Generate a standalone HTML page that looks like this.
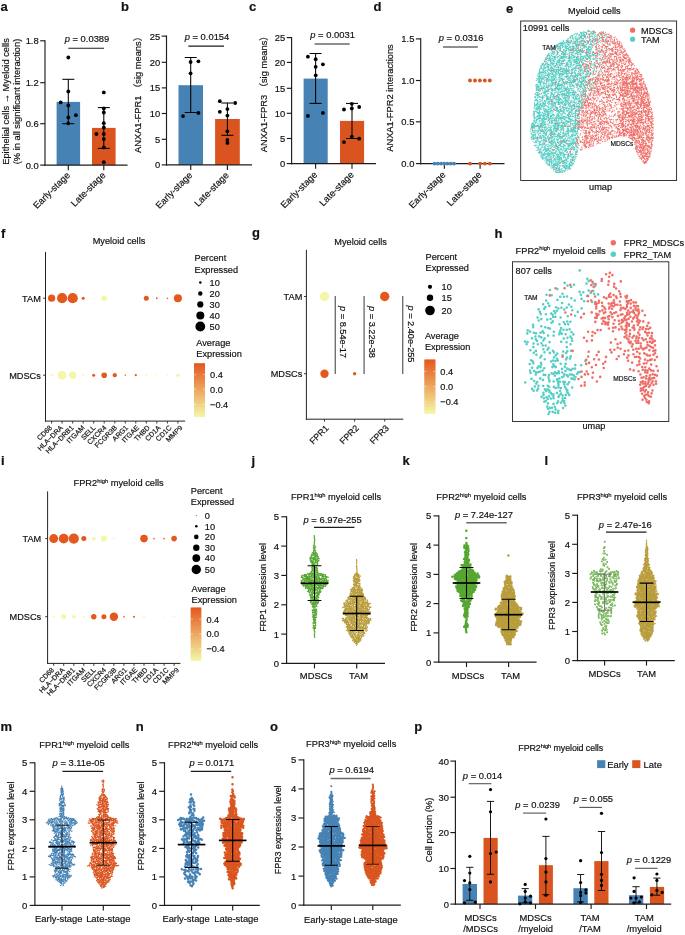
<!DOCTYPE html>
<html><head><meta charset="utf-8"><title>Figure</title>
<style>html,body{margin:0;padding:0;background:#fff}svg{display:block}text{font-family:"Liberation Sans","Noto Sans CJK SC",sans-serif;fill:#111;stroke:#111;stroke-width:0.18px}</style></head>
<body>
<svg width="685" height="935" viewBox="0 0 685 935">
<rect width="685" height="935" fill="#fff"/>
<text x="0.5" y="11" font-size="13" font-weight="bold" fill="#1a1a1a">a</text>
<line x1="45" y1="40.2" x2="45" y2="165.7" stroke="#1c1c1c" stroke-width="1.15"/>
<line x1="40.2" y1="40.8" x2="45" y2="40.8" stroke="#1c1c1c" stroke-width="1.15"/>
<text x="38.7" y="44.2" font-size="9.4" text-anchor="end">1.8</text>
<line x1="40.2" y1="82.7" x2="45" y2="82.7" stroke="#1c1c1c" stroke-width="1.15"/>
<text x="38.7" y="86.1" font-size="9.4" text-anchor="end">1.2</text>
<line x1="40.2" y1="123.7" x2="45" y2="123.7" stroke="#1c1c1c" stroke-width="1.15"/>
<text x="38.7" y="127.1" font-size="9.4" text-anchor="end">0.6</text>
<line x1="40.2" y1="165.1" x2="45" y2="165.1" stroke="#1c1c1c" stroke-width="1.15"/>
<text x="38.7" y="168.5" font-size="9.4" text-anchor="end">0.0</text>
<rect x="56.6" y="101.9" width="23.5" height="63.2" fill="#4682b4"/>
<rect x="92" y="127.9" width="23.6" height="37.2" fill="#d9541e"/>
<line x1="44.5" y1="165.1" x2="127.5" y2="165.1" stroke="#1c1c1c" stroke-width="1.15"/>
<line x1="68.3" y1="165.1" x2="68.3" y2="170.2" stroke="#1c1c1c" stroke-width="1.15"/>
<line x1="103.8" y1="165.1" x2="103.8" y2="170.2" stroke="#1c1c1c" stroke-width="1.15"/>
<line x1="68.3" y1="79.3" x2="68.3" y2="123.7" stroke="#000" stroke-width="1.05"/>
<line x1="62.3" y1="79.3" x2="74.3" y2="79.3" stroke="#000" stroke-width="1.05"/>
<line x1="62.3" y1="123.7" x2="74.3" y2="123.7" stroke="#000" stroke-width="1.05"/>
<line x1="103.8" y1="107.6" x2="103.8" y2="148.4" stroke="#000" stroke-width="1.05"/>
<line x1="97.8" y1="107.6" x2="109.8" y2="107.6" stroke="#000" stroke-width="1.05"/>
<line x1="97.8" y1="148.4" x2="109.8" y2="148.4" stroke="#000" stroke-width="1.05"/>
<circle cx="68.3" cy="57.5" r="1.9" fill="#000"/>
<circle cx="68.3" cy="91.5" r="1.9" fill="#000"/>
<circle cx="60.7" cy="102.4" r="1.9" fill="#000"/>
<circle cx="68.3" cy="105.5" r="1.9" fill="#000"/>
<circle cx="75.9" cy="115.2" r="1.9" fill="#000"/>
<circle cx="68.3" cy="117.5" r="1.9" fill="#000"/>
<circle cx="68.3" cy="123.3" r="1.9" fill="#000"/>
<circle cx="103.8" cy="92.4" r="1.9" fill="#000"/>
<circle cx="103.8" cy="108.5" r="1.9" fill="#000"/>
<circle cx="103.8" cy="112.5" r="1.9" fill="#000"/>
<circle cx="103.8" cy="123.2" r="1.9" fill="#000"/>
<circle cx="103.8" cy="127.5" r="1.9" fill="#000"/>
<circle cx="96.4" cy="134" r="1.9" fill="#000"/>
<circle cx="103.8" cy="134" r="1.9" fill="#000"/>
<circle cx="103.8" cy="139.1" r="1.9" fill="#000"/>
<circle cx="103.8" cy="147.4" r="1.9" fill="#000"/>
<circle cx="103.8" cy="162.2" r="1.9" fill="#000"/>
<text x="87" y="42" font-size="9.4" text-anchor="middle"><tspan font-style="italic">p</tspan> = 0.0389</text>
<line x1="68.3" y1="48.2" x2="104" y2="48.2" stroke="#1c1c1c" stroke-width="1.15"/>
<text x="9" y="101.5" font-size="9.3" text-anchor="middle" transform="rotate(-90 9 101.5)">Epithelial cells → Myeloid cells</text>
<text x="20" y="101.5" font-size="9.3" text-anchor="middle" transform="rotate(-90 20 101.5)">(% in all significant interaction)</text>
<text x="70.6" y="175.8" font-size="9.4" text-anchor="end" transform="rotate(-45 70.6 175.8)">Early-stage</text>
<text x="106.1" y="175.8" font-size="9.4" text-anchor="end" transform="rotate(-45 106.1 175.8)">Late-stage</text>
<text x="121" y="11" font-size="13" font-weight="bold" fill="#1a1a1a">b</text>
<line x1="166.5" y1="35.5" x2="166.5" y2="165.5" stroke="#1c1c1c" stroke-width="1.15"/>
<line x1="161.7" y1="36.1" x2="166.5" y2="36.1" stroke="#1c1c1c" stroke-width="1.15"/>
<text x="160.2" y="39.5" font-size="9.4" text-anchor="end">25</text>
<line x1="161.7" y1="62.3" x2="166.5" y2="62.3" stroke="#1c1c1c" stroke-width="1.15"/>
<text x="160.2" y="65.7" font-size="9.4" text-anchor="end">20</text>
<line x1="161.7" y1="87.9" x2="166.5" y2="87.9" stroke="#1c1c1c" stroke-width="1.15"/>
<text x="160.2" y="91.3" font-size="9.4" text-anchor="end">15</text>
<line x1="161.7" y1="113.5" x2="166.5" y2="113.5" stroke="#1c1c1c" stroke-width="1.15"/>
<text x="160.2" y="116.9" font-size="9.4" text-anchor="end">10</text>
<line x1="161.7" y1="139.3" x2="166.5" y2="139.3" stroke="#1c1c1c" stroke-width="1.15"/>
<text x="160.2" y="142.7" font-size="9.4" text-anchor="end">5</text>
<line x1="161.7" y1="164.9" x2="166.5" y2="164.9" stroke="#1c1c1c" stroke-width="1.15"/>
<text x="160.2" y="168.3" font-size="9.4" text-anchor="end">0</text>
<rect x="178.5" y="85.2" width="24.5" height="79.7" fill="#4682b4"/>
<rect x="215.1" y="119" width="24.7" height="45.9" fill="#d9541e"/>
<line x1="166" y1="164.9" x2="252" y2="164.9" stroke="#1c1c1c" stroke-width="1.15"/>
<line x1="190.7" y1="164.9" x2="190.7" y2="170" stroke="#1c1c1c" stroke-width="1.15"/>
<line x1="227.4" y1="164.9" x2="227.4" y2="170" stroke="#1c1c1c" stroke-width="1.15"/>
<line x1="190.7" y1="57.5" x2="190.7" y2="112.5" stroke="#000" stroke-width="1.05"/>
<line x1="184.7" y1="57.5" x2="196.7" y2="57.5" stroke="#000" stroke-width="1.05"/>
<line x1="184.7" y1="112.5" x2="196.7" y2="112.5" stroke="#000" stroke-width="1.05"/>
<line x1="227.4" y1="103" x2="227.4" y2="135.3" stroke="#000" stroke-width="1.05"/>
<line x1="221.4" y1="103" x2="233.4" y2="103" stroke="#000" stroke-width="1.05"/>
<line x1="221.4" y1="135.3" x2="233.4" y2="135.3" stroke="#000" stroke-width="1.05"/>
<circle cx="190.6" cy="62" r="1.9" fill="#000"/>
<circle cx="198.4" cy="61.3" r="1.9" fill="#000"/>
<circle cx="190.6" cy="73.3" r="1.9" fill="#000"/>
<circle cx="198.4" cy="112.9" r="1.9" fill="#000"/>
<circle cx="183" cy="116.1" r="1.9" fill="#000"/>
<circle cx="219.8" cy="101.2" r="1.9" fill="#000"/>
<circle cx="235.2" cy="103" r="1.9" fill="#000"/>
<circle cx="227.4" cy="109.1" r="1.9" fill="#000"/>
<circle cx="219.8" cy="111.8" r="1.9" fill="#000"/>
<circle cx="227.4" cy="115.6" r="1.9" fill="#000"/>
<circle cx="227.4" cy="131.3" r="1.9" fill="#000"/>
<circle cx="227.4" cy="139.9" r="1.9" fill="#000"/>
<circle cx="227.4" cy="142.9" r="1.9" fill="#000"/>
<text x="207" y="39.9" font-size="9.4" text-anchor="middle"><tspan font-style="italic">p</tspan> = 0.0154</text>
<line x1="188.3" y1="46.1" x2="224" y2="46.1" stroke="#1c1c1c" stroke-width="1.15"/>
<text x="140.7" y="92.5" font-size="9.3" text-anchor="middle" transform="rotate(-90 140.7 92.5)">ANXA1-FPR1 （sig means）</text>
<text x="193" y="175.8" font-size="9.4" text-anchor="end" transform="rotate(-45 193 175.8)">Early-stage</text>
<text x="229.5" y="175.8" font-size="9.4" text-anchor="end" transform="rotate(-45 229.5 175.8)">Late-stage</text>
<text x="249" y="11" font-size="13" font-weight="bold" fill="#1a1a1a">c</text>
<line x1="291.6" y1="37" x2="291.6" y2="164.2" stroke="#1c1c1c" stroke-width="1.15"/>
<line x1="286.8" y1="37.6" x2="291.6" y2="37.6" stroke="#1c1c1c" stroke-width="1.15"/>
<text x="285.3" y="41" font-size="9.4" text-anchor="end">25</text>
<line x1="286.8" y1="62.4" x2="291.6" y2="62.4" stroke="#1c1c1c" stroke-width="1.15"/>
<text x="285.3" y="65.8" font-size="9.4" text-anchor="end">20</text>
<line x1="286.8" y1="88.3" x2="291.6" y2="88.3" stroke="#1c1c1c" stroke-width="1.15"/>
<text x="285.3" y="91.7" font-size="9.4" text-anchor="end">15</text>
<line x1="286.8" y1="113.3" x2="291.6" y2="113.3" stroke="#1c1c1c" stroke-width="1.15"/>
<text x="285.3" y="116.7" font-size="9.4" text-anchor="end">10</text>
<line x1="286.8" y1="138.5" x2="291.6" y2="138.5" stroke="#1c1c1c" stroke-width="1.15"/>
<text x="285.3" y="141.9" font-size="9.4" text-anchor="end">5</text>
<line x1="286.8" y1="163.6" x2="291.6" y2="163.6" stroke="#1c1c1c" stroke-width="1.15"/>
<text x="285.3" y="167" font-size="9.4" text-anchor="end">0</text>
<rect x="303.6" y="78.6" width="24.1" height="85" fill="#4682b4"/>
<rect x="340" y="120.9" width="24.1" height="42.7" fill="#d9541e"/>
<line x1="291.1" y1="163.6" x2="376" y2="163.6" stroke="#1c1c1c" stroke-width="1.15"/>
<line x1="315.6" y1="163.6" x2="315.6" y2="168.7" stroke="#1c1c1c" stroke-width="1.15"/>
<line x1="352" y1="163.6" x2="352" y2="168.7" stroke="#1c1c1c" stroke-width="1.15"/>
<line x1="315.6" y1="53.5" x2="315.6" y2="103.4" stroke="#000" stroke-width="1.05"/>
<line x1="309.6" y1="53.5" x2="321.6" y2="53.5" stroke="#000" stroke-width="1.05"/>
<line x1="309.6" y1="103.4" x2="321.6" y2="103.4" stroke="#000" stroke-width="1.05"/>
<line x1="352" y1="103.4" x2="352" y2="138.5" stroke="#000" stroke-width="1.05"/>
<line x1="346" y1="103.4" x2="358" y2="103.4" stroke="#000" stroke-width="1.05"/>
<line x1="346" y1="138.5" x2="358" y2="138.5" stroke="#000" stroke-width="1.05"/>
<circle cx="307.9" cy="56.7" r="1.9" fill="#000"/>
<circle cx="315.7" cy="59.2" r="1.9" fill="#000"/>
<circle cx="322.9" cy="64.3" r="1.9" fill="#000"/>
<circle cx="315.7" cy="66.8" r="1.9" fill="#000"/>
<circle cx="315.7" cy="75.3" r="1.9" fill="#000"/>
<circle cx="307.9" cy="115.9" r="1.9" fill="#000"/>
<circle cx="322.9" cy="112.9" r="1.9" fill="#000"/>
<circle cx="351.8" cy="103.8" r="1.9" fill="#000"/>
<circle cx="344" cy="109.5" r="1.9" fill="#000"/>
<circle cx="351.8" cy="108.5" r="1.9" fill="#000"/>
<circle cx="359.2" cy="107" r="1.9" fill="#000"/>
<circle cx="351.8" cy="136.6" r="1.9" fill="#000"/>
<circle cx="359.2" cy="138.7" r="1.9" fill="#000"/>
<circle cx="344" cy="142.1" r="1.9" fill="#000"/>
<text x="332.6" y="37.6" font-size="9.4" text-anchor="middle"><tspan font-style="italic">p</tspan> = 0.0031</text>
<line x1="314.6" y1="44" x2="349.7" y2="44" stroke="#6a6a6a" stroke-width="1.5"/>
<text x="266.6" y="91.8" font-size="9.3" text-anchor="middle" transform="rotate(-90 266.6 91.8)">ANXA1-FPR3 （sig means）</text>
<text x="318" y="175.3" font-size="9.4" text-anchor="end" transform="rotate(-45 318 175.3)">Early-stage</text>
<text x="354.5" y="175.3" font-size="9.4" text-anchor="end" transform="rotate(-45 354.5 175.3)">Late-stage</text>
<text x="373.5" y="11" font-size="13" font-weight="bold" fill="#1a1a1a">d</text>
<line x1="420.7" y1="38.3" x2="420.7" y2="164.2" stroke="#1c1c1c" stroke-width="1.15"/>
<line x1="415.9" y1="38.9" x2="420.7" y2="38.9" stroke="#1c1c1c" stroke-width="1.15"/>
<text x="414.4" y="42.3" font-size="9.4" text-anchor="end">1.5</text>
<line x1="415.9" y1="80.5" x2="420.7" y2="80.5" stroke="#1c1c1c" stroke-width="1.15"/>
<text x="414.4" y="83.9" font-size="9.4" text-anchor="end">1.0</text>
<line x1="415.9" y1="121.8" x2="420.7" y2="121.8" stroke="#1c1c1c" stroke-width="1.15"/>
<text x="414.4" y="125.2" font-size="9.4" text-anchor="end">0.5</text>
<line x1="415.9" y1="163.6" x2="420.7" y2="163.6" stroke="#1c1c1c" stroke-width="1.15"/>
<text x="414.4" y="167" font-size="9.4" text-anchor="end">0.0</text>
<line x1="420.2" y1="163.6" x2="504.5" y2="163.6" stroke="#1c1c1c" stroke-width="1.15"/>
<line x1="444.4" y1="163.6" x2="444.4" y2="168.7" stroke="#1c1c1c" stroke-width="1.15"/>
<line x1="480.1" y1="163.6" x2="480.1" y2="168.7" stroke="#1c1c1c" stroke-width="1.15"/>
<circle cx="470" cy="80.5" r="1.9" fill="#d9541e"/>
<circle cx="475" cy="80.5" r="1.9" fill="#d9541e"/>
<circle cx="479.9" cy="80.5" r="1.9" fill="#d9541e"/>
<circle cx="484.8" cy="80.5" r="1.9" fill="#d9541e"/>
<circle cx="489.8" cy="80.5" r="1.9" fill="#d9541e"/>
<circle cx="434.5" cy="163.6" r="1.9" fill="#4682b4"/>
<circle cx="437.8" cy="163.6" r="1.9" fill="#4682b4"/>
<circle cx="441" cy="163.6" r="1.9" fill="#4682b4"/>
<circle cx="444.2" cy="163.6" r="1.9" fill="#4682b4"/>
<circle cx="447.4" cy="163.6" r="1.9" fill="#4682b4"/>
<circle cx="450.7" cy="163.6" r="1.9" fill="#4682b4"/>
<circle cx="453.9" cy="163.6" r="1.9" fill="#4682b4"/>
<circle cx="470" cy="163.6" r="1.9" fill="#d9541e"/>
<circle cx="480.1" cy="163.6" r="1.9" fill="#d9541e"/>
<circle cx="484.8" cy="163.6" r="1.9" fill="#d9541e"/>
<circle cx="489.8" cy="163.6" r="1.9" fill="#d9541e"/>
<text x="461.1" y="40.8" font-size="9.4" text-anchor="middle"><tspan font-style="italic">p</tspan> = 0.0316</text>
<line x1="443" y1="46.9" x2="477.8" y2="46.9" stroke="#6a6a6a" stroke-width="1.5"/>
<text x="393.2" y="98" font-size="9.3" text-anchor="middle" transform="rotate(-90 393.2 98)">ANXA1-FPR2 interactions</text>
<text x="446.2" y="175.4" font-size="9.4" text-anchor="end" transform="rotate(-45 446.2 175.4)">Early-stage</text>
<text x="482.2" y="175.4" font-size="9.4" text-anchor="end" transform="rotate(-45 482.2 175.4)">Late-stage</text>
<text x="506" y="12.6" font-size="13" font-weight="bold" fill="#1a1a1a">e</text>
<text x="594.3" y="14" font-size="9.2" text-anchor="middle">Myeloid cells</text>
<rect x="520.7" y="21" width="155.9" height="159.5" fill="none" stroke="#222" stroke-width="0.9"/>
<text x="522.8" y="30.8" font-size="9.2">10991 cells</text>
<circle cx="632.6" cy="30.2" r="2.6" fill="#ef6f68"/>
<circle cx="632.6" cy="39.2" r="2.6" fill="#55cfc5"/>
<text x="641" y="33.5" font-size="9.2">MDSCs</text>
<text x="641" y="42.5" font-size="9.2">TAM</text>
<text x="600.6" y="189.5" font-size="9.2" text-anchor="middle">umap</text>
<path transform="scale(.1)" d="M5803 322h0m5 7h0m1-2h0m10-4h0m4 6h0m8-1h0m7-12h0m1 4h0m4 2h0m10 2h0m9-2h0m0 4h0m13-17h0m11 2h0m0-10h0m6 13h0m9 1h0m10 11h0m7 3h0m2-14h0m11 5h0m1 2h0m1-10h0m7-3h0m0 2h0m7 11h0m4 4h0m8 2h0m71-3h0m7 3h0m-319 29h0m8 1h0m1-1h0m14-10h0m0 3h0m1-4h0m12-9h0m11 5h0m8-3h0m1-3h0m2-2h0m12 15h0m7-4h0m2 0h0m11-12h0m5 21h0m0-17h0m0-2h0m1 12h0m0 9h0m1-15h0m0 13h0m2 5h0m7-5h0m4 5h0m2 0h0m3-8h0m0-6h0m1 8h0m1-13h0m0 18h0m0-11h0m1-10h0m1 9h0m2-9h0m1 13h0m4 5h0m6-7h0m3 7h0m17-24h0m12 13h0m5 0h0m2-3h0m6 13h0m3-12h0m3-3h0m1-1h0m17 2h0m2 9h0m2-16h0m0 4h0m8 3h0m8-7h0m3 26h0m3-11h0m14-1h0m15 9h0m31-10h0m2-2h0m7 8h0m3-18h0m3 8h0m1 2h0m9 11h0m33-5h0m-385 38h0m4-2h0m0 1h0m18-18h0m5 9h0m1-9h0m4-8h0m12 2h0m0 14h0m5 10h0m3-8h0m2 4h0m20-4h0m0-12h0m1 4h0m1 17h0m2-1h0m8-26h0m4 20h0m2 1h0m3-2h0m8 9h0m8-14h0m6 11h0m6-21h0m1-3h0m2 7h0m1 6h0m9-3h0m1-1h0m0 9h0m0 5h0m1-13h0m6 12h0m7 2h0m4-1h0m3-4h0m9-15h0m0 8h0m1-10h0m7 12h0m2-8h0m5 21h0m11-17h0m3-9h0m1 3h0m3 9h0m14 10h0m3-14h0m6-5h0m6-6h0m9 3h0m9 3h0m2 3h0m1 0h0m2 2h0m2 14h0m13-9h0m12-13h0m7 18h0m6-19h0m8 15h0m19 2h0m2 9h0m19-10h0m5-4h0m19-5h0m1 4h0m18-11h0m18 1h0m-463 56h0m18-12h0m1 7h0m2 2h0m24-6h0m3-5h0m7 13h0m2 1h0m1-13h0m4-6h0m1-7h0m2 21h0m8-6h0m14 3h0m8-9h0m6 7h0m11 9h0m3-27h0m5 0h0m1 19h0m1 1h0m14 2h0m4 1h0m3-22h0m2 14h0m6 1h0m2 5h0m1-15h0m0-3h0m3 13h0m2-6h0m12-10h0m3 2h0m0 23h0m3-5h0m4-21h0m4 28h0m6-6h0m7 5h0m2-7h0m0-3h0m4 5h0m2-6h0m8-11h0m7 7h0m1 5h0m0 2h0m1 7h0m8-7h0m0 2h0m4 6h0m16-10h0m13 4h0m10 5h0m6-13h0m4-4h0m6-5h0m2 23h0m3-16h0m1 11h0m14-4h0m2-9h0m9-9h0m3 28h0m4-23h0m1 16h0m7-11h0m1 14h0m6-23h0m3 14h0m1 4h0m2-14h0m9 8h0m1-13h0m5 10h0m13 16h0m1-4h0m30-21h0m9 20h0m3 4h0m0-16h0m11 11h0m7-14h0m12 17h0m41 5h0m-541 31h0m5-1h0m9 0h0m6-6h0m5-3h0m2-7h0m5 1h0m5-4h0m1 11h0m6-6h0m0 15h0m4-15h0m8-2h0m3 8h0m1-14h0m1 1h0m0 10h0m1-8h0m3 13h0m6-6h0m4-4h0m0 7h0m5-12h0m9 22h0m5-22h0m1 10h0m2-17h0m1 4h0m12-4h0m1 21h0m1-14h0m2-4h0m0 3h0m1 10h0m1 12h0m1-2h0m6-19h0m2 16h0m1-20h0m2 0h0m9 1h0m1 6h0m1 3h0m3-7h0m2 4h0m22 8h0m8-4h0m0-7h0m10 5h0m0 7h0m1-19h0m1 5h0m4 7h0m2 16h0m2-5h0m2-14h0m0 2h0m8 16h0m5-18h0m2 18h0m1-25h0m2 16h0m13-16h0m1 7h0m4 10h0m1 1h0m1 0h0m6-2h0m6-9h0m0 3h0m8 5h0m7 12h0m5-21h0m3 18h0m3-5h0m8-14h0m6-6h0m8 25h0m2-17h0m5 19h0m1-1h0m8-12h0m1-14h0m5 8h0m3 2h0m10 17h0m4-5h0m4 2h0m3-6h0m0-5h0m4-7h0m2 4h0m3 13h0m9-24h0m3 26h0m20-3h0m4-4h0m10-3h0m5-8h0m17-3h0m25 1h0m16 9h0m49-8h0m121 1h0m-652 44h0m4-1h0m0 4h0m6-5h0m2 0h0m2 2h0m3-11h0m1 12h0m4-11h0m6 13h0m2-20h0m7 2h0m0 9h0m2 3h0m4-3h0m0 3h0m2-5h0m3 6h0m3 2h0m1-2h0m3-7h0m0 5h0m5-9h0m2-3h0m1 18h0m4-17h0m4 1h0m3-6h0m0 1h0m9 20h0m1-18h0m0 8h0m0-13h0m1 2h0m0 23h0m10-8h0m3-6h0m9 18h0m5-10h0m2-10h0m2 18h0m0-19h0m1-8h0m5 28h0m2-11h0m1 1h0m1 1h0m2-2h0m1-1h0m9-15h0m0 10h0m9-10h0m3-1h0m2 23h0m7-10h0m0 1h0m1 4h0m2-3h0m4 11h0m1-16h0m13 1h0m3 10h0m3-10h0m1 4h0m1 7h0m6-9h0m0 14h0m2-16h0m2 16h0m2-11h0m16-5h0m0-10h0m6 21h0m1-16h0m2 5h0m1-6h0m2-1h0m2 1h0m4 7h0m1-8h0m4 23h0m5-20h0m0 14h0m5-20h0m13 17h0m3 5h0m14-22h0m0 8h0m3-2h0m8 22h0m0-21h0m2 4h0m5-8h0m1 7h0m2 14h0m3-5h0m1-16h0m0 17h0m4-18h0m3 6h0m9 6h0m0 9h0m21 0h0m2-3h0m1-6h0m11 4h0m2 6h0m7-4h0m10-12h0m2-1h0m4 3h0m13-6h0m23 9h0m1 9h0m0 5h0m-444 26h0m4 3h0m1-6h0m7-15h0m20-3h0m2 3h0m0 12h0m8-8h0m4 15h0m13-22h0m5 15h0m4-10h0m4 0h0m0-3h0m3 5h0m2 13h0m4 5h0m6-2h0m0-26h0m3 15h0m0 9h0m1-21h0m1 18h0m3-15h0m23 7h0m3 2h0m0 7h0m1-1h0m5-3h0m6 6h0m11-24h0m1 20h0m0-17h0m1 22h0m0-5h0m1-17h0m2 6h0m2-5h0m1 21h0m1-22h0m1 4h0m6-1h0m4-1h0m3 12h0m2-9h0m0-6h0m4 0h0m1 13h0m1 2h0m1 3h0m1 6h0m6-11h0m4 5h0m2 2h0m2 7h0m3-25h0m2 11h0m3 11h0m0-16h0m3 17h0m7-21h0m1 5h0m4 18h0m2-20h0m0-2h0m2 12h0m6 4h0m2-20h0m2-1h0m3 25h0m3-26h0m2 20h0m2-15h0m5 18h0m9 3h0m2-7h0m1-16h0m7-1h0m0 2h0m3 20h0m5-10h0m4 3h0m6 6h0m1 4h0m5-18h0m2 9h0m0-2h0m1-7h0m1 0h0m1 6h0m3 3h0m7 2h0m3-2h0m1-12h0m0 17h0m4-18h0m0 5h0m5 14h0m2 2h0m15-27h0m15 13h0m3 5h0m6-2h0m6-14h0m2 17h0m1-5h0m1-2h0m1-9h0m1 23h0m1-19h0m3-7h0m2 13h0m3 7h0m0-6h0m3 15h0m5-1h0m3-16h0m4-1h0m6 2h0m1 4h0m4-15h0m55 2h0m16 0h0m5 16h0m21-4h0m12-6h0m25 15h0m14-1h0m9-9h0m19 9h0m28-4h0m-637 39h0m4-3h0m2-2h0m19-8h0m9-16h0m5 25h0m3-8h0m2-13h0m1 2h0m4 3h0m1 7h0m0-13h0m10 25h0m1-4h0m0-21h0m0 4h0m4 11h0m20-15h0m2 11h0m4-1h0m1 11h0m11-7h0m24-11h0m1-3h0m3 21h0m4-20h0m3 19h0m5-11h0m6 0h0m0 7h0m1-5h0m3 8h0m1-11h0m3-4h0m9 20h0m1-15h0m3 17h0m1-8h0m1 3h0m1-23h0m2 4h0m2 6h0m29-9h0m0 22h0m5-8h0m6-1h0m10 6h0m1-3h0m14-3h0m2 13h0m4-12h0m3 0h0m4-13h0m12 17h0m2 5h0m4 1h0m5-6h0m1-19h0m6 12h0m0 15h0m1-15h0m4 2h0m4-11h0m0 23h0m2 0h0m3-13h0m10 4h0m2-10h0m0-6h0m1 3h0m5-3h0m1 0h0m6 2h0m0 2h0m5-2h0m5 10h0m7-5h0m1 7h0m4-5h0m4-6h0m6 11h0m18-2h0m7-8h0m3 8h0m2 10h0m1-16h0m1-3h0m7 7h0m5 10h0m0-5h0m3-5h0m8 6h0m1 7h0m12-18h0m0-7h0m16 9h0m4 9h0m4 0h0m3-13h0m7 13h0m29-4h0m14-9h0m11 9h0m21-14h0m32 0h0m2 29h0m166-16h0m15-4h0m-758 34h0m1 7h0m7-17h0m1 7h0m2 8h0m2-10h0m2 5h0m3 8h0m2-9h0m2 6h0m10 10h0m5-26h0m2 13h0m1-13h0m5 17h0m6-19h0m1 28h0m6-26h0m4 27h0m4-7h0m17 3h0m4-12h0m3-2h0m8-8h0m2 26h0m2-22h0m2 19h0m1-22h0m7 20h0m0 4h0m10-11h0m2-4h0m9 7h0m3 0h0m2 4h0m6 5h0m0-27h0m2 3h0m0 19h0m2 3h0m3-1h0m5 2h0m2-23h0m2 16h0m0-3h0m1 8h0m3-14h0m1-9h0m1 22h0m2-15h0m2-10h0m4 6h0m1 18h0m0 4h0m3-8h0m0 0h0m2-18h0m3 6h0m5-5h0m6 25h0m3-5h0m5-21h0m1-2h0m15 27h0m1-10h0m2 6h0m2-12h0m1-6h0m1 20h0m1 1h0m10 3h0m3-26h0m4 5h0m4 7h0m0 2h0m5-4h0m0 3h0m0-16h0m10 26h0m0-10h0m7 11h0m1-2h0m4-17h0m4 15h0m22 5h0m1-6h0m1-20h0m8 8h0m2 16h0m12-20h0m6-6h0m3 21h0m3-11h0m1-10h0m3 27h0m2 0h0m0 1h0m10 1h0m4-8h0m11 3h0m7-5h0m2-2h0m3 6h0m1 6h0m8-22h0m3 6h0m5 7h0m0-16h0m3 9h0m2 11h0m1-19h0m2 20h0m2-5h0m3-1h0m1 0h0m3 6h0m0-2h0m5-18h0m7 12h0m3 11h0m2-9h0m6 0h0m8 2h0m1-13h0m5-7h0m5 14h0m3-11h0m4 16h0m4-13h0m12 10h0m2-6h0m10 4h0m6 2h0m1-17h0m21 11h0m2-9h0m19 3h0m16 6h0m27 4h0m28-10h0m-627 50h0m1-15h0m1-1h0m0 5h0m0 9h0m0-10h0m2-10h0m8 11h0m0-14h0m4 17h0m2-3h0m5-5h0m8 20h0m1-16h0m7 10h0m0-2h0m1-15h0m1 13h0m5-8h0m1 10h0m3 6h0m11-13h0m7 2h0m9 13h0m5-27h0m4 14h0m0-9h0m1 21h0m3-20h0m3 1h0m3-8h0m1 25h0m1-15h0m1-3h0m13-3h0m3-4h0m2 9h0m10 18h0m11-5h0m0 2h0m2-12h0m6-7h0m0 12h0m8-11h0m0 7h0m7-9h0m5 7h0m4-10h0m3 17h0m8-15h0m1 7h0m2-2h0m3 16h0m13-24h0m2 10h0m6-3h0m15 7h0m5-12h0m2 8h0m1-10h0m1 16h0m6 10h0m0-22h0m2 15h0m0-7h0m1-3h0m2-5h0m7 5h0m1 19h0m7-25h0m4-3h0m0 12h0m4 5h0m10-17h0m3 6h0m1 21h0m7 1h0m2-21h0m5 16h0m11-3h0m1-17h0m1 9h0m3-5h0m0 13h0m1-15h0m3 8h0m3-12h0m1 19h0m0 6h0m3-7h0m3-18h0m2 26h0m0-13h0m6 5h0m2-1h0m8 4h0m2-23h0m2 8h0m1 21h0m3-4h0m0-10h0m1 0h0m3-5h0m9 14h0m1 2h0m5-7h0m0 7h0m1-5h0m7-12h0m7-4h0m9 15h0m1 0h0m7-12h0m5 4h0m3 11h0m1-3h0m3 6h0m2-12h0m6 1h0m1 2h0m7-10h0m4-4h0m5 9h0m3-5h0m2-3h0m1 16h0m5 5h0m2-7h0m19 2h0m4-7h0m4 10h0m7-7h0m6 6h0m18-10h0m11 5h0m15-2h0m6 2h0m27 0h0m13-14h0m125 3h0m-721 24h0m3 16h0m7-14h0m10 12h0m9 11h0m8-22h0m5 5h0m5-7h0m5 4h0m8 8h0m2 2h0m0-3h0m1-7h0m5 16h0m1 1h0m0-20h0m7 27h0m2-27h0m0 22h0m0 5h0m4-27h0m6 16h0m4-8h0m1-1h0m5 3h0m4 5h0m25-7h0m0 14h0m0-9h0m1-1h0m8 6h0m1-18h0m2 20h0m1-14h0m0 17h0m5-4h0m4-19h0m1 17h0m0 1h0m3-11h0m0 17h0m1-23h0m0 13h0m3 3h0m3-16h0m11 17h0m2-11h0m2 19h0m3-23h0m5 0h0m2 4h0m3 10h0m5-16h0m7 4h0m8 1h0m0-7h0m1 4h0m20 13h0m8 8h0m1-23h0m5 3h0m3 10h0m3-10h0m4 3h0m3 12h0m0-16h0m7 19h0m4-14h0m6 12h0m17-4h0m2-13h0m8 20h0m3-14h0m3 8h0m0-18h0m2-1h0m4 27h0m2-13h0m6 6h0m0-20h0m1 4h0m3 8h0m7 9h0m2 3h0m2 3h0m1-7h0m0-10h0m1 1h0m0 10h0m12-16h0m5 9h0m6 1h0m12 6h0m6-3h0m0-11h0m13-6h0m10 6h0m8-3h0m1 12h0m27-2h0m17 9h0m2-3h0m11-8h0m35 13h0m5 0h0m5-20h0m15 1h0m5 0h0m27 1h0m2 19h0m41-11h0m4 4h0m5-6h0m10-7h0m14 7h0m-665 42h0m9-11h0m1-8h0m0 14h0m3-1h0m4-11h0m4-2h0m0-5h0m1 1h0m2 13h0m1 13h0m10-9h0m0 8h0m4-14h0m3-13h0m2 4h0m3 11h0m4-15h0m8 21h0m0-17h0m6 10h0m1 2h0m5 0h0m4 7h0m1-12h0m1 6h0m10 1h0m5 9h0m2-21h0m1-2h0m2 20h0m9-12h0m1-10h0m0 10h0m1-8h0m5 12h0m5-10h0m2 22h0m1 0h0m1-21h0m3-3h0m5 7h0m8-10h0m1 22h0m10 4h0m3-25h0m2 8h0m2 5h0m7 12h0m8-18h0m3-1h0m8 15h0m2-10h0m1-1h0m6 15h0m2-20h0m2 16h0m3-16h0m0 1h0m1 6h0m9-5h0m1-4h0m5 18h0m10-16h0m7-3h0m11 22h0m7-24h0m1 25h0m2-5h0m0 5h0m0-27h0m1 6h0m2 9h0m3-12h0m1 13h0m1-6h0m3 15h0m1-11h0m1-2h0m4-1h0m6-1h0m0 1h0m14-2h0m2 3h0m2 2h0m5 8h0m1-13h0m3 5h0m0-8h0m0 13h0m9 10h0m10-17h0m4 7h0m5-1h0m7-8h0m13 19h0m0-29h0m1 28h0m3-19h0m3-4h0m1 22h0m5-18h0m1 16h0m3 0h0m6-21h0m3 20h0m2-12h0m3-6h0m0 15h0m1-3h0m2-1h0m3 7h0m1-5h0m4 0h0m5 8h0m1-1h0m4 1h0m8-25h0m1 11h0m5 5h0m2-14h0m0 5h0m0-7h0m2 0h0m2-2h0m3 2h0m30 14h0m5 0h0m8 10h0m1-7h0m26-15h0m5 11h0m17 8h0m16 2h0m0-9h0m1 0h0m7-7h0m2 16h0m1 3h0m11-22h0m31 3h0m20 19h0m108-17h0m-727 48h0m3-19h0m6-7h0m0 24h0m3-19h0m0-2h0m5 3h0m1 3h0m2 11h0m3 3h0m15-6h0m1-14h0m1 22h0m4-10h0m3-2h0m5-1h0m1 13h0m0-6h0m6-13h0m12-9h0m0 17h0m4-11h0m1-3h0m6 6h0m2 11h0m1-4h0m2-15h0m15 14h0m2 7h0m3-2h0m3 8h0m3-16h0m0 1h0m1-6h0m1 8h0m7 11h0m1-14h0m9 16h0m8-26h0m7 4h0m3 9h0m7-13h0m4 21h0m7-11h0m11 3h0m4 14h0m4-21h0m2 1h0m0-1h0m1 10h0m14 6h0m2-5h0m1 3h0m0-9h0m5 6h0m2 7h0m14-8h0m1 6h0m2 4h0m5-4h0m2 1h0m6-18h0m16 0h0m5 12h0m1 5h0m15-19h0m6 2h0m0 4h0m1 4h0m1 6h0m0-20h0m5 2h0m1 0h0m6 2h0m3-1h0m0 6h0m12 6h0m4 5h0m13 4h0m6 3h0m3-7h0m0-7h0m1 12h0m3-2h0m1 1h0m0-4h0m0 4h0m10 0h0m1-25h0m0 14h0m1-5h0m1-5h0m3 3h0m6 17h0m12 2h0m6-1h0m0-12h0m1 3h0m0-4h0m7-2h0m5-5h0m1 21h0m7-25h0m1 14h0m0 0h0m0-3h0m1-3h0m6 0h0m0 3h0m5 16h0m20-26h0m1 14h0m1 8h0m4-11h0m5 0h0m14-10h0m1 16h0m1 3h0m1-11h0m3 11h0m1-22h0m4 24h0m26-11h0m4-2h0m2-11h0m7 17h0m11 9h0m22-15h0m1 7h0m20-6h0m9-10h0m15 2h0m20 9h0m78-4h0m-698 50h0m2-20h0m1 10h0m5 7h0m26 1h0m2-18h0m1 11h0m1-2h0m0-4h0m0-3h0m2-7h0m1 9h0m12 10h0m4 4h0m1-14h0m0 6h0m12-3h0m11 2h0m0 8h0m5-24h0m4 4h0m6 5h0m2-10h0m1 15h0m2-13h0m4 11h0m8 12h0m1-8h0m6-12h0m0 13h0m1 2h0m0-17h0m7 14h0m4-7h0m2 0h0m5 14h0m3-22h0m0 11h0m1 12h0m1-16h0m3 8h0m1-9h0m1 10h0m4-19h0m2 25h0m9-19h0m1 13h0m3-11h0m4 16h0m0-7h0m2 9h0m2-20h0m9-3h0m2 6h0m1 17h0m0-11h0m1 14h0m0-23h0m3 13h0m1-5h0m2-7h0m6 10h0m6-10h0m0 2h0m7 13h0m0 4h0m0-22h0m6 3h0m12 14h0m0-16h0m0 22h0m1-4h0m1-13h0m2 18h0m1-27h0m2 4h0m2-3h0m1 27h0m6-15h0m3-14h0m3 0h0m0 22h0m3-17h0m2-1h0m1 10h0m3 6h0m1 9h0m1-29h0m6 8h0m0 13h0m4 1h0m1-5h0m1-15h0m1 1h0m2 6h0m1 15h0m8-5h0m1-3h0m2-15h0m3 20h0m1 3h0m3-1h0m0-16h0m8 9h0m14-11h0m1 22h0m4-11h0m4-11h0m2 13h0m7-17h0m12 28h0m5-8h0m1-8h0m1-6h0m2 4h0m1 0h0m7 2h0m3 4h0m19 8h0m7 3h0m3-16h0m5-11h0m5 11h0m1 11h0m1-4h0m4-9h0m6 10h0m2-15h0m6 0h0m2 8h0m11 9h0m0-1h0m11-16h0m4 20h0m1-3h0m11 0h0m0 1h0m4-21h0m10 19h0m1-5h0m13 6h0m3-18h0m10 11h0m18 13h0m11-9h0m5 8h0m8-14h0m15 11h0m5-14h0m31 16h0m4 3h0m11-15h0m4 9h0m-635 33h0m3-10h0m6-5h0m1-11h0m4 5h0m0 19h0m4-14h0m2-5h0m0 12h0m6-10h0m6-5h0m1 3h0m2 23h0m3-21h0m1-1h0m1 16h0m0-8h0m0-2h0m6-8h0m5 1h0m4 3h0m1-7h0m1 7h0m0 1h0m5 1h0m10 9h0m1 3h0m1-19h0m5 5h0m4 3h0m12 16h0m3-17h0m1 15h0m3-18h0m0 9h0m1 1h0m9 6h0m4-12h0m1 4h0m8 1h0m7 5h0m2-19h0m6 14h0m4-2h0m1 10h0m2-22h0m1 8h0m2 14h0m3 3h0m8-2h0m7-24h0m5 3h0m2 13h0m0-6h0m3-2h0m0 7h0m0 7h0m2-10h0m2 14h0m2-16h0m4 18h0m3-28h0m4 19h0m1-20h0m8 10h0m1-8h0m2 11h0m1-2h0m3 15h0m4-5h0m1-4h0m8-7h0m1 13h0m7-5h0m3 10h0m3-17h0m4 17h0m1-2h0m3-8h0m1-4h0m7 10h0m3-3h0m1-19h0m3 3h0m1 11h0m8-5h0m10 2h0m1 13h0m1-24h0m3 15h0m2-17h0m9 13h0m1 14h0m1-10h0m2 1h0m2-6h0m5-2h0m5-3h0m2-1h0m0 4h0m10 4h0m8 13h0m2-12h0m1-13h0m1 18h0m1-3h0m6-5h0m1-9h0m19 12h0m4-14h0m5 17h0m1-9h0m3 14h0m0 6h0m8 0h0m10-16h0m2 8h0m11-11h0m0 19h0m0-13h0m2 11h0m2-15h0m1 16h0m0-16h0m6 11h0m2-2h0m5 2h0m1-15h0m0 8h0m11-5h0m7 9h0m3-18h0m7 15h0m3-6h0m1-2h0m1 1h0m15 14h0m7 1h0m1-23h0m2 27h0m4-13h0m3 3h0m0-8h0m4-2h0m6-6h0m1-2h0m4 19h0m3-5h0m3 10h0m10 3h0m1-23h0m5 4h0m2 7h0m26 7h0m2-2h0m6-1h0m40 7h0m-611 12h0m4 1h0m9 5h0m3 7h0m0-14h0m4-7h0m2 27h0m2-13h0m2 11h0m1-11h0m0 12h0m2-8h0m5-14h0m3 20h0m3 4h0m4-16h0m5-13h0m2 21h0m11-21h0m0 0h0m3 16h0m0-16h0m4 10h0m1 10h0m2-2h0m5 11h0m6-26h0m1 20h0m7-17h0m4-3h0m6 4h0m0-1h0m4 15h0m0-10h0m3 2h0m4-3h0m2 11h0m0-21h0m1 20h0m3 2h0m6-18h0m1-2h0m12 17h0m1-7h0m4 2h0m5 4h0m5-5h0m7 10h0m1-9h0m2-9h0m5 12h0m1-10h0m8 13h0m5-17h0m2 12h0m0 4h0m1-6h0m5 12h0m21 1h0m5-24h0m0 20h0m2-21h0m1 24h0m4-21h0m2 13h0m2 3h0m1-18h0m10 26h0m3-11h0m6-15h0m8 2h0m1 24h0m15-11h0m8 3h0m4-4h0m8 10h0m1-18h0m4 11h0m5-6h0m3 3h0m3-9h0m6 13h0m4 1h0m4-1h0m4-7h0m4 5h0m0-2h0m3-8h0m1 6h0m7-14h0m1 2h0m4 3h0m4 17h0m1-12h0m7-5h0m0 9h0m2-11h0m9 10h0m0 13h0m2-15h0m1 7h0m1 0h0m1-10h0m4 16h0m3-14h0m1-7h0m1 9h0m3 7h0m2-9h0m6 13h0m2-23h0m3 4h0m6 8h0m1 2h0m0-9h0m3 15h0m1-15h0m22 23h0m7-23h0m5 2h0m2 17h0m10-10h0m2 13h0m3-1h0m6 2h0m2-16h0m9 15h0m2-14h0m5 11h0m2-11h0m3 12h0m2-11h0m10-4h0m1 2h0m14-1h0m35-10h0m13 23h0m54-15h0m9 19h0m-637 10h0m0 17h0m16-11h0m1-8h0m1 15h0m0-19h0m9 4h0m0 2h0m4 6h0m1 12h0m1-24h0m12 7h0m4 11h0m3-7h0m3 13h0m3-18h0m7-6h0m0 10h0m7-1h0m1 0h0m1-6h0m11 19h0m3-9h0m13-14h0m3 25h0m4-18h0m0-2h0m3 14h0m1-15h0m4 5h0m4 11h0m4 6h0m0-5h0m0-22h0m7 29h0m2-18h0m2 3h0m9 7h0m1-3h0m3 5h0m1-21h0m2 19h0m5-13h0m3 1h0m0 2h0m2 15h0m7 1h0m0-26h0m0 13h0m5 11h0m7-6h0m0-10h0m0-5h0m6 17h0m1-5h0m3-10h0m16 6h0m3 8h0m17-6h0m3 3h0m3 8h0m3-25h0m4 6h0m7 16h0m1 4h0m1-9h0m2-9h0m2 3h0m6 0h0m1-2h0m4 10h0m3-19h0m0 15h0m5 1h0m6-4h0m7-2h0m24 2h0m5-9h0m6 6h0m4 18h0m1-27h0m4 7h0m1 9h0m2 12h0m8-2h0m2-20h0m2-3h0m1 1h0m0 23h0m4-12h0m12 14h0m7-7h0m2-17h0m1 13h0m1 8h0m0-18h0m4 6h0m0 13h0m2 1h0m4-5h0m1-12h0m3 12h0m0 6h0m1-11h0m4-5h0m5 12h0m6-12h0m3-1h0m1 0h0m1 6h0m4-9h0m2-7h0m1 18h0m16-6h0m1 12h0m4-1h0m0-23h0m1 27h0m6-24h0m11 5h0m4-8h0m0 6h0m1 21h0m2-10h0m11-19h0m1 3h0m1 1h0m3 14h0m1-9h0m3 1h0m7 11h0m2 0h0m0 2h0m1-20h0m3 24h0m24-17h0m5 13h0m6 4h0m10-12h0m3 3h0m1-6h0m7 9h0m43 8h0m5-6h0m8-21h0m10 23h0m2-13h0m-597 33h0m0-14h0m1 14h0m0 0h0m4-12h0m0 3h0m6 3h0m2 5h0m1 7h0m2-17h0m0 10h0m2-2h0m2-10h0m1 5h0m2 11h0m1 9h0m1-24h0m6 10h0m1-7h0m2 4h0m11 8h0m1-8h0m8 14h0m1 4h0m3-10h0m1-13h0m2 18h0m2 1h0m2 0h0m15-6h0m4 10h0m1-21h0m2 21h0m6-21h0m13 9h0m12 9h0m10-25h0m4 1h0m0 9h0m3 17h0m3-27h0m1 25h0m0-9h0m1-13h0m0 7h0m6 7h0m5 8h0m3-8h0m2 1h0m10-5h0m2 8h0m1 1h0m2-22h0m1 15h0m2 6h0m0 6h0m2-2h0m7-24h0m1 11h0m12 15h0m3-7h0m4-14h0m3 13h0m4 7h0m0-23h0m4 3h0m3-4h0m19 23h0m3-7h0m7-17h0m1 11h0m7 12h0m0-19h0m2 7h0m2 11h0m5 3h0m7-9h0m1 2h0m2-15h0m1-4h0m1 18h0m4 5h0m2-4h0m0 2h0m8 7h0m0-15h0m2 13h0m1-23h0m7 14h0m9-1h0m2 13h0m4-13h0m8-5h0m3-4h0m1 6h0m0-13h0m0 22h0m4-3h0m1 4h0m0-9h0m1 0h0m2 13h0m7-14h0m1-13h0m6 12h0m7-9h0m1 14h0m6-10h0m4 5h0m6-8h0m4 22h0m4 2h0m16-7h0m1 7h0m1-18h0m1 19h0m1-24h0m3 4h0m8-9h0m5 12h0m1-8h0m3-3h0m6 27h0m1-14h0m0-6h0m2 12h0m3-8h0m5 6h0m3-8h0m0-7h0m2 24h0m0 1h0m2-24h0m3 0h0m6-1h0m13 13h0m5-9h0m8 4h0m1-7h0m3 11h0m0-2h0m4 5h0m4 5h0m12-3h0m0-4h0m0-10h0m3 4h0m4-1h0m1 3h0m1-3h0m11 0h0m8 18h0m14-18h0m5 4h0m9 1h0m3 3h0m6-8h0m27-5h0m30 24h0m54-24h0m-705 42h0m7-13h0m4 24h0m1-13h0m4 11h0m3-19h0m3-1h0m2 21h0m0-7h0m9 4h0m2 6h0m2-11h0m8-17h0m1 3h0m1-1h0m4 22h0m4-15h0m0 6h0m21-4h0m11 13h0m3-12h0m1 1h0m8-14h0m5 28h0m4-28h0m2 17h0m8 12h0m6-19h0m3 7h0m5-14h0m5 12h0m11-5h0m4-4h0m0 21h0m3-3h0m0-8h0m0 1h0m5 0h0m5-14h0m1 15h0m4-2h0m2-10h0m5 6h0m11-6h0m1-3h0m2-1h0m6 17h0m1-3h0m2 10h0m0-1h0m0-19h0m10 2h0m8 2h0m1 7h0m1 10h0m2-7h0m6 1h0m1-13h0m2-5h0m1-2h0m1 10h0m3 7h0m1-6h0m0 11h0m5-9h0m3-7h0m5-4h0m0 12h0m6-1h0m3-10h0m1 19h0m2-12h0m6 8h0m0-14h0m0 11h0m7 3h0m8-2h0m0 4h0m5-15h0m3-3h0m2 26h0m1-1h0m9-28h0m14 0h0m6 19h0m18-14h0m2 5h0m2 14h0m0-10h0m0-6h0m1 20h0m1-20h0m1 8h0m9 9h0m7-9h0m0-16h0m2 17h0m1-13h0m7 7h0m0 8h0m3 5h0m5 4h0m14-19h0m12-9h0m1 8h0m0-5h0m1 13h0m0 2h0m6 2h0m1-19h0m2-1h0m1 25h0m1-20h0m0-5h0m1 11h0m0 0h0m15 16h0m3-19h0m3 8h0m3-6h0m0 16h0m4 3h0m3-16h0m1 6h0m1 0h0m3 5h0m1-21h0m3 1h0m1 16h0m16-13h0m0 11h0m2-1h0m3 6h0m1-7h0m5-5h0m1 9h0m10-20h0m8 11h0m1-6h0m6 12h0m2-4h0m1 3h0m4-10h0m21 2h0m54-5h0m7 20h0m11-23h0m-610 41h0m0-8h0m2 10h0m1 10h0m3 3h0m2-5h0m3-16h0m2 19h0m1-18h0m3 14h0m3-13h0m3 2h0m3 14h0m8-11h0m3 16h0m2-8h0m3 0h0m3-3h0m7-3h0m2-8h0m1 12h0m1-3h0m3-13h0m1 0h0m1 14h0m5 3h0m2-14h0m1 5h0m2-5h0m1-5h0m5 15h0m0-9h0m9 23h0m0-15h0m4 10h0m1 1h0m5-18h0m5-1h0m5-3h0m9 8h0m4-9h0m0 16h0m1 5h0m2-21h0m4 21h0m7-2h0m11-11h0m4 13h0m1-6h0m3-5h0m6 6h0m2 8h0m5-2h0m6-1h0m2-2h0m10-2h0m6-3h0m2 13h0m4-11h0m3 10h0m1-23h0m4 4h0m1 4h0m0-11h0m4 10h0m0-9h0m2 14h0m4 9h0m4-16h0m3 8h0m10 4h0m1-14h0m0 3h0m3 12h0m0 0h0m2-5h0m1-2h0m6-3h0m0 0h0m2-3h0m3-9h0m0 15h0m0 8h0m2-17h0m1-1h0m1-1h0m15 23h0m0-19h0m1-3h0m9 8h0m3 1h0m6-11h0m3 14h0m2 0h0m0 11h0m2-15h0m1 11h0m3-14h0m1 9h0m2 4h0m1-6h0m1 1h0m1 0h0m3 5h0m1 2h0m0-17h0m5-7h0m1 7h0m3 14h0m4-7h0m2 2h0m8 1h0m0 0h0m0 9h0m6-27h0m6 13h0m8 6h0m0-7h0m4 0h0m13 4h0m3 2h0m14-17h0m32 9h0m1 12h0m8-4h0m4-3h0m11-13h0m2 22h0m2-5h0m9-18h0m9 17h0m0-7h0m6 5h0m4 6h0m5 6h0m3-24h0m5 10h0m0-14h0m0 1h0m1-2h0m2 7h0m4 2h0m2-4h0m5 7h0m13-5h0m10 10h0m11 9h0m15-6h0m0-9h0m2-4h0m2 7h0m8-12h0m17 9h0m13 3h0m-595 44h0m7-3h0m3-24h0m7 24h0m5 1h0m1-24h0m6 3h0m1 4h0m2 5h0m3-9h0m29 18h0m4-19h0m10 16h0m5-5h0m0-1h0m2 8h0m6-6h0m1-3h0m4 0h0m1 13h0m4 1h0m0-4h0m1-1h0m1-12h0m2 1h0m1-4h0m3 7h0m3-12h0m5 14h0m2-16h0m1 1h0m6 13h0m1-7h0m0 0h0m2 4h0m3-10h0m19 23h0m1 5h0m4-4h0m1-17h0m1-1h0m3 19h0m7-22h0m2 4h0m0 3h0m3-8h0m15 3h0m3 0h0m1 18h0m0-18h0m6 18h0m9-3h0m7-6h0m9 13h0m3-1h0m0-26h0m4 5h0m1-5h0m1 15h0m10 11h0m5-9h0m1-3h0m4 13h0m5-14h0m3-13h0m1 15h0m9-13h0m1 10h0m8 4h0m2-2h0m6-9h0m2-3h0m4 1h0m1-1h0m2 1h0m6-1h0m4 5h0m2 14h0m1-10h0m3 16h0m2 1h0m4-13h0m2 8h0m2 0h0m5-17h0m2 6h0m7-10h0m2 2h0m1 18h0m1-16h0m4 14h0m10 3h0m0 1h0m4 0h0m1-20h0m2-5h0m8 24h0m1-13h0m3 18h0m0-3h0m3-13h0m0-5h0m1 13h0m2 5h0m4-23h0m7 22h0m2-4h0m1-4h0m1 9h0m5 0h0m6 2h0m14-20h0m5-2h0m13 4h0m2 7h0m7 0h0m12 1h0m9 10h0m5-10h0m0-12h0m6 16h0m4-22h0m13 21h0m0 5h0m10-12h0m1-8h0m17-5h0m16 4h0m17 13h0m18 11h0m13-14h0m-595 29h0m2 2h0m0-1h0m6-4h0m7 12h0m6 5h0m1-15h0m2-8h0m4 12h0m1 7h0m3 5h0m1-16h0m5 5h0m3-11h0m20 7h0m4-9h0m13 24h0m2-6h0m7-20h0m7 1h0m0 20h0m5-4h0m1 2h0m0-20h0m7 11h0m7 7h0m0 7h0m2-6h0m4-3h0m1 3h0m8-17h0m8 5h0m19 16h0m2-1h0m4-15h0m4 7h0m6-15h0m1 7h0m1-2h0m6 6h0m3 4h0m3 6h0m5-1h0m1-3h0m5-12h0m15 20h0m3-2h0m8-3h0m6 7h0m1-22h0m1 11h0m14-4h0m2 9h0m14-8h0m6 8h0m0-2h0m3-11h0m5 10h0m0-8h0m1-5h0m1-2h0m3 9h0m5-5h0m2 18h0m0-13h0m2 11h0m3-15h0m1-1h0m1 8h0m0-13h0m1 14h0m5-15h0m1 26h0m0-19h0m6 15h0m7-15h0m1 7h0m2 6h0m3-18h0m0 22h0m9-1h0m7-23h0m1 14h0m0-15h0m0 12h0m3 6h0m5-17h0m3 19h0m1-17h0m5 17h0m8 2h0m9-12h0m3 7h0m3 3h0m0-4h0m1-11h0m6 2h0m2 11h0m8 10h0m0-16h0m1-12h0m1 27h0m5-10h0m1-1h0m21-4h0m7 11h0m0-6h0m3-6h0m6 9h0m16-21h0m4 24h0m1-14h0m5 17h0m7-8h0m3 3h0m4 3h0m3-24h0m8 19h0m5-5h0m1-7h0m1 4h0m3 16h0m5-17h0m2 2h0m15 11h0m-523 22h0m0-10h0m1 12h0m3-1h0m0-7h0m3-2h0m3 9h0m14 12h0m3-14h0m14 2h0m1-10h0m4-5h0m1 4h0m11 6h0m5 1h0m5 2h0m4 14h0m2-25h0m1 3h0m1 10h0m1 1h0m5 9h0m2-16h0m29-7h0m4 23h0m0-6h0m3-13h0m3 11h0m2-15h0m2 21h0m2-16h0m1 2h0m1 13h0m6 2h0m1-17h0m2 19h0m1-19h0m11 10h0m0 4h0m5-10h0m0-8h0m15-3h0m1 6h0m10 5h0m4-9h0m2 0h0m2-1h0m4 20h0m3-10h0m2 9h0m1-16h0m1-3h0m3 26h0m8-3h0m1-11h0m2-4h0m1-3h0m2-3h0m9-1h0m3 11h0m1 11h0m3-11h0m2 11h0m0-22h0m5 14h0m2-4h0m1 15h0m8 0h0m5-7h0m16-19h0m1 6h0m0-5h0m0 1h0m9 16h0m1 5h0m4 2h0m5-16h0m2 15h0m5-21h0m0 3h0m2 14h0m0-11h0m10 9h0m8-5h0m1-14h0m1 10h0m5 17h0m0-29h0m5 2h0m3 9h0m0-11h0m6 11h0m0 1h0m1 7h0m1 8h0m1-9h0m2-10h0m23 0h0m5 9h0m3 0h0m2 1h0m6-5h0m1-2h0m0 13h0m4-22h0m4 27h0m9-4h0m2-6h0m2-4h0m0-10h0m2 1h0m6 14h0m2 6h0m4-18h0m6-5h0m2 25h0m2-5h0m4 0h0m8-1h0m2 0h0m1-5h0m3-14h0m12 6h0m14 15h0m4-21h0m5 5h0m41-4h0m1 10h0m11-6h0m-539 38h0m3-1h0m5 1h0m1-10h0m1 7h0m7 2h0m2-3h0m2-10h0m3 17h0m6-4h0m1 14h0m16-24h0m2 20h0m1-19h0m1 1h0m2-1h0m6 14h0m1 2h0m10-6h0m1-3h0m2-12h0m2 18h0m1-17h0m21 15h0m2 9h0m4-8h0m1 3h0m5 1h0m2-5h0m5-8h0m8-7h0m1 4h0m4 23h0m5-22h0m1-7h0m1 5h0m3 4h0m1 17h0m2-3h0m2 5h0m5-5h0m0 1h0m1-22h0m2 22h0m7-24h0m5 6h0m1 21h0m1-15h0m1 11h0m6-13h0m1 5h0m4-15h0m1 24h0m3-4h0m4 7h0m2 1h0m4-27h0m19 15h0m8-12h0m5 3h0m2-1h0m3 2h0m1-4h0m2 19h0m0-13h0m1 0h0m1 12h0m1-17h0m1 12h0m3 10h0m3-6h0m5-17h0m0 1h0m0 8h0m10-8h0m5 19h0m0-23h0m9 8h0m0 4h0m6 8h0m11 5h0m11-10h0m4-14h0m0 19h0m0-8h0m1-1h0m1-2h0m1-2h0m2-2h0m4-1h0m2 12h0m1 9h0m4-8h0m5-4h0m4 12h0m6-6h0m4-20h0m1 15h0m4-6h0m12 20h0m6-9h0m8-6h0m0 9h0m2 1h0m16-3h0m4 6h0m3-27h0m4 1h0m2 13h0m11-12h0m5 4h0m14 4h0m4 11h0m5-1h0m2 7h0m2-23h0m1 22h0m0 0h0m1-6h0m3-2h0m1 7h0m1 1h0m9-6h0m2 4h0m6-22h0m1 13h0m3-2h0m11-11h0m1 16h0m7-7h0m4-4h0m16 8h0m3-3h0m2-4h0m15 4h0m-533 46h0m0-19h0m1 11h0m15 7h0m3-7h0m8-8h0m0 13h0m5-3h0m0-8h0m0-7h0m2-1h0m4 14h0m4 3h0m4-15h0m1 2h0m10 17h0m3-4h0m1-11h0m13 10h0m1-11h0m3 1h0m6 16h0m4-27h0m0 8h0m3 13h0m0-14h0m0 11h0m3 2h0m4-11h0m1 12h0m2-3h0m9 2h0m2-8h0m1-10h0m19 12h0m7 6h0m2-17h0m2 16h0m4 1h0m1-9h0m14 5h0m2 5h0m7-2h0m1-15h0m0 24h0m1-14h0m1 8h0m2 3h0m3-26h0m3 15h0m2-1h0m2 13h0m3-27h0m8 8h0m1 5h0m4-5h0m1-3h0m6 23h0m1-11h0m5-11h0m3-6h0m1 6h0m3-4h0m5 1h0m6 20h0m5-19h0m1 10h0m3-9h0m1 19h0m3-9h0m0 9h0m4 2h0m2-19h0m4 2h0m6-8h0m1 2h0m0 26h0m2-29h0m1 13h0m1 1h0m4-9h0m7 8h0m3 9h0m1-22h0m4 4h0m10 22h0m1-7h0m4 2h0m0-7h0m6-6h0m1 19h0m5-26h0m2 26h0m1-9h0m2 5h0m6-23h0m3 17h0m9-12h0m2 0h0m2 18h0m4-7h0m2-8h0m9 13h0m1 7h0m4-27h0m2 7h0m12-7h0m4 9h0m0-2h0m11 16h0m4-20h0m0 22h0m0 0h0m5-22h0m2-2h0m1 22h0m4-14h0m1-6h0m2 6h0m8 5h0m3-14h0m3 26h0m11-13h0m8 4h0m1-2h0m0-9h0m1-1h0m7 17h0m5-4h0m1-4h0m7-10h0m5 0h0m3 14h0m1-9h0m10 1h0m18 7h0m11-10h0m-518 51h0m8-25h0m0 9h0m1-2h0m4 3h0m2-12h0m12 1h0m5 16h0m8-13h0m3 12h0m1 11h0m0-16h0m4 8h0m3 8h0m2-18h0m2 13h0m0-3h0m1 7h0m1-9h0m2-16h0m1-2h0m1 8h0m7-7h0m2 3h0m2 18h0m2-6h0m2-1h0m2-7h0m2 11h0m5-11h0m4-5h0m5 11h0m7 12h0m0-9h0m1-5h0m2 1h0m0-8h0m1 0h0m4-2h0m2 3h0m8 1h0m9 1h0m6 2h0m5 9h0m9 3h0m1-13h0m5 19h0m16-17h0m7 17h0m4-10h0m4 6h0m2-1h0m2-5h0m1-15h0m6 3h0m3 0h0m0-3h0m0 6h0m9-9h0m1 0h0m2 1h0m2 8h0m2 11h0m7-6h0m3 7h0m10 3h0m4 2h0m18-9h0m4 4h0m5 4h0m3-14h0m17 1h0m1 5h0m10-10h0m2 15h0m5 4h0m2-22h0m4 23h0m3-21h0m5 18h0m1-17h0m4 19h0m3 1h0m7 1h0m8-15h0m8-13h0m10 6h0m1 10h0m2-6h0m5 5h0m4-4h0m4 3h0m1 6h0m3-9h0m3 13h0m2-21h0m0 7h0m6-10h0m2 9h0m3-1h0m0-7h0m6 4h0m5 15h0m0-3h0m0-9h0m2-7h0m3 25h0m4-15h0m12 7h0m1-9h0m10 10h0m2-11h0m5 10h0m1-8h0m1 17h0m2-6h0m7 5h0m0-9h0m4-5h0m0 16h0m2-2h0m10-7h0m3-11h0m1 3h0m1 4h0m4-15h0m2 2h0m2 23h0m6-8h0m3-18h0m-484 52h0m2-20h0m8 8h0m4-10h0m1 1h0m1 6h0m3 6h0m1-13h0m0 4h0m1 25h0m6-25h0m1 17h0m2-19h0m3 13h0m2-3h0m6-11h0m5 10h0m1 13h0m9-21h0m2 12h0m2-2h0m0-8h0m10 5h0m16 8h0m1-15h0m1 1h0m6 22h0m4-15h0m5 3h0m3-2h0m2 11h0m0-8h0m10 10h0m3-14h0m9 16h0m3-13h0m3-2h0m11 3h0m2-15h0m9 6h0m4 17h0m1-9h0m1-13h0m0 27h0m3-3h0m5-2h0m11-23h0m5 15h0m0-2h0m6 4h0m5-17h0m3 0h0m9 23h0m3-11h0m0 0h0m0-10h0m2 11h0m2-9h0m3 21h0m2-18h0m0 14h0m1 0h0m7 7h0m0-28h0m1 18h0m3 8h0m4 0h0m13-10h0m0-3h0m2-13h0m2 25h0m5-7h0m8 7h0m0-19h0m13 23h0m3-26h0m3 13h0m3 4h0m3-4h0m0-3h0m3 3h0m12-7h0m8 12h0m2-16h0m0 21h0m3-25h0m7 26h0m4-24h0m3 23h0m3-21h0m1 1h0m2 11h0m4-14h0m4 0h0m2 2h0m6 14h0m4-4h0m5 4h0m3-16h0m0 22h0m6-17h0m2 14h0m2-3h0m6-11h0m8 2h0m8-5h0m1-5h0m3 21h0m3 7h0m2-4h0m5-3h0m4 5h0m1-3h0m1-14h0m1 10h0m13 10h0m0-10h0m1 2h0m1-18h0m12 23h0m10-24h0m15 0h0m-487 31h0m1 17h0m5-12h0m2 20h0m1-11h0m8-13h0m13 5h0m1-8h0m6 16h0m6-2h0m1 10h0m2-10h0m2 5h0m3-10h0m7 11h0m1-14h0m0 4h0m5 14h0m1-2h0m3-11h0m17 1h0m6 0h0m1 5h0m1 6h0m13 2h0m1-22h0m1-3h0m4 20h0m3-14h0m1 6h0m9-13h0m1 8h0m6-5h0m2 9h0m1-9h0m1 19h0m1-19h0m5 4h0m0 19h0m0-23h0m3 22h0m1-4h0m2 1h0m2-8h0m1-4h0m2-6h0m1-1h0m7 24h0m2-17h0m4-2h0m1-6h0m0 10h0m1-5h0m1-6h0m7-1h0m5 22h0m5-3h0m1-18h0m10 0h0m5 19h0m22-10h0m11-8h0m3 23h0m6-17h0m8 8h0m2-7h0m1 13h0m0-22h0m5 18h0m4-16h0m3 26h0m7-24h0m3 1h0m4 22h0m2-26h0m2 5h0m8 13h0m2 0h0m4-7h0m3 2h0m0 7h0m2-18h0m2 18h0m1-21h0m7 25h0m1 4h0m2-8h0m8-21h0m15 6h0m9 22h0m2-11h0m3-3h0m4-3h0m3-7h0m2 0h0m4 11h0m9 0h0m2-13h0m3 25h0m4-17h0m2 0h0m6 19h0m8-2h0m2-3h0m8-2h0m1-14h0m1 3h0m2-4h0m1 0h0m1 6h0m1 9h0m6-19h0m3 2h0m3 20h0m4-23h0m10 22h0m5-16h0m2-7h0m1-1h0m0 9h0m5 6h0m0 14h0m24-27h0m10 4h0m-497 41h0m1-10h0m8 22h0m4-6h0m2-16h0m1 19h0m17 1h0m6 2h0m6-3h0m1-7h0m2 7h0m1-1h0m3-11h0m5-14h0m3 28h0m2-21h0m1 6h0m3 13h0m2-19h0m3 12h0m0-9h0m2 14h0m6-10h0m4-4h0m4-5h0m5 13h0m3 0h0m5 10h0m3-28h0m1 11h0m1 10h0m1-8h0m0 11h0m7-9h0m3-15h0m4 25h0m0 0h0m1-15h0m4-7h0m1-3h0m2 10h0m0-1h0m1 3h0m7 15h0m2-22h0m1 21h0m7-15h0m2-8h0m0 14h0m1 9h0m1-1h0m5-18h0m0-7h0m0 4h0m17 8h0m1 10h0m9 4h0m0-12h0m1 13h0m7-11h0m4-11h0m3 2h0m5 5h0m3-7h0m4 23h0m2-16h0m3-2h0m19 14h0m3-17h0m3-1h0m1 5h0m6 16h0m0-19h0m7-4h0m0 13h0m1-5h0m0-5h0m1 18h0m1-15h0m13 4h0m18-8h0m0 23h0m1-18h0m1 9h0m1-19h0m2 8h0m13 19h0m0-6h0m5 5h0m1-2h0m4 0h0m23-9h0m3-8h0m3-4h0m6 15h0m3-9h0m0 19h0m0-19h0m2 12h0m0-3h0m4-16h0m1-2h0m2 2h0m2 1h0m3 4h0m0 18h0m6-7h0m1-6h0m5 14h0m9-14h0m1-4h0m4 14h0m7 3h0m6-2h0m12-9h0m1 0h0m0 14h0m2-17h0m1 6h0m4-15h0m1 13h0m15 8h0m1-19h0m8-1h0m2 15h0m10 10h0m36-13h0m-489 34h0m3-15h0m3 9h0m1-5h0m9 2h0m8 18h0m0-9h0m10 6h0m3-13h0m9 2h0m0-10h0m1 2h0m1 7h0m1-1h0m0 13h0m5-11h0m6-12h0m1 12h0m1-4h0m4 1h0m3 3h0m1 0h0m1 3h0m10 0h0m5-7h0m1 9h0m3-16h0m2 12h0m0-11h0m4 12h0m5 10h0m3-4h0m1 4h0m0-24h0m1 8h0m5 4h0m2 9h0m4-8h0m3 9h0m2-10h0m5 9h0m0-16h0m10-2h0m2 2h0m7 5h0m1-13h0m3 17h0m1 6h0m0-11h0m0 0h0m6 13h0m0-7h0m2-3h0m1 10h0m4-23h0m4 8h0m5 8h0m7-10h0m1 12h0m1-8h0m0-2h0m7-2h0m10 3h0m1 12h0m10-7h0m0 8h0m2 4h0m2-17h0m5-8h0m1-3h0m1 12h0m1 2h0m3 12h0m3-23h0m1 4h0m9 3h0m5 3h0m0 12h0m7-10h0m2-14h0m2-1h0m2 11h0m1-2h0m1 3h0m1-12h0m1 20h0m1-16h0m3 12h0m1-8h0m2 15h0m0-20h0m4 20h0m2-16h0m2 8h0m1-13h0m4 3h0m4 8h0m5-1h0m1-11h0m6 12h0m2 8h0m6 7h0m1-9h0m3-11h0m4-6h0m2 26h0m0-24h0m3 5h0m4-3h0m3-5h0m0-1h0m4 4h0m9 9h0m5 1h0m1 4h0m0-18h0m2 12h0m2 7h0m2-2h0m4 6h0m1-17h0m2 4h0m5 10h0m5 0h0m3 5h0m1 4h0m9-8h0m29-17h0m2 14h0m3-10h0m1-7h0m3 24h0m9-10h0m5-8h0m9 5h0m1 1h0m2 7h0m8-4h0m-452 26h0m0 5h0m0-13h0m4-1h0m1 15h0m6 3h0m4 7h0m3-25h0m1 24h0m3-2h0m1-8h0m4-9h0m24 4h0m0 10h0m7-20h0m12 10h0m9-10h0m1 20h0m2-20h0m3 1h0m1 13h0m0-14h0m5 17h0m1 8h0m5-27h0m0 5h0m2 3h0m4 10h0m11 4h0m3-4h0m20-5h0m6-10h0m12 10h0m1 5h0m2 11h0m3-23h0m11 16h0m0-12h0m3-1h0m1 17h0m1-1h0m1-11h0m3-8h0m2 23h0m3 0h0m1-23h0m2 19h0m1-15h0m2 19h0m8-22h0m2-5h0m0 7h0m2-6h0m4-3h0m0 10h0m5-5h0m3-3h0m0 1h0m3 17h0m5 2h0m5 3h0m1-17h0m3 9h0m11-16h0m3 0h0m2 7h0m1 13h0m2 7h0m17-7h0m3-15h0m0-6h0m1 16h0m5 5h0m2 6h0m4-19h0m10 14h0m8 0h0m7 5h0m2-27h0m8 14h0m5 0h0m0-7h0m4 5h0m1 0h0m3 4h0m2 11h0m1-17h0m4-2h0m1-1h0m2 8h0m3 4h0m2 7h0m1-3h0m5-7h0m6-6h0m1 15h0m0-14h0m2-9h0m6 14h0m2 2h0m9-9h0m9-6h0m1 0h0m4 7h0m2-1h0m12 1h0m4-9h0m0 3h0m1 11h0m2-13h0m0 18h0m1-6h0m0 15h0m0-23h0m8 0h0m10 1h0m2 13h0m5-5h0m5 13h0m3-16h0m3 9h0m4 6h0m0-18h0m6 19h0m2-20h0m-489 46h0m0 2h0m1 3h0m3-21h0m1 19h0m2-6h0m3-12h0m1-7h0m2 20h0m3-20h0m2 13h0m2-12h0m0-3h0m3 24h0m0-21h0m4 20h0m1-5h0m3-3h0m1 8h0m1 5h0m0-2h0m5 2h0m1-22h0m1 23h0m14-4h0m9-4h0m1 6h0m0-23h0m7 22h0m3-4h0m1-3h0m9-9h0m6 0h0m1-5h0m0 15h0m1 9h0m6-26h0m4 13h0m0 4h0m0-2h0m1 8h0m4-22h0m1 12h0m0 1h0m4 1h0m1-16h0m1-2h0m5 27h0m4-25h0m1 20h0m1-5h0m2 10h0m1 1h0m2-15h0m3-13h0m5 9h0m0 9h0m3 0h0m1-4h0m15-4h0m9 6h0m3 10h0m5-21h0m3-4h0m8 0h0m1 24h0m15-19h0m2 0h0m1 22h0m3-27h0m1 28h0m13-9h0m1 7h0m9-27h0m3 21h0m0-11h0m6-7h0m1 14h0m0 6h0m6-11h0m1 0h0m0 17h0m7-23h0m2-5h0m2 12h0m2 14h0m1-21h0m3-4h0m1 5h0m4-6h0m1 20h0m3-14h0m1 10h0m1 7h0m2-21h0m2 21h0m1-18h0m9 17h0m2-23h0m5 29h0m4-7h0m7-22h0m1 17h0m2 11h0m7-25h0m9 16h0m4-14h0m3 8h0m5 11h0m1-4h0m4 3h0m1-22h0m8 19h0m1-16h0m1 17h0m1-13h0m30 15h0m6-5h0m3 2h0m0-12h0m12-1h0m3 1h0m1 10h0m12 3h0m1-15h0m9-4h0m1 23h0m2 3h0m1-16h0m1-3h0m3 19h0m1 0h0m1-5h0m1-23h0m0 18h0m2-5h0m5-13h0m6 4h0m0 7h0m3-11h0m1 23h0m1-4h0m1 5h0m3-24h0m1 1h0m6 15h0m1-12h0m4 12h0m-480 31h0m1-6h0m7 7h0m2-1h0m1-1h0m1-12h0m4 17h0m1-7h0m5-13h0m0 18h0m3-15h0m0 7h0m3-2h0m2-9h0m0 14h0m0 9h0m0-21h0m9 5h0m9 14h0m6-21h0m6 4h0m5-2h0m7 18h0m3-9h0m0 5h0m1 10h0m0-21h0m3-5h0m0 20h0m1 3h0m4-15h0m1 13h0m2 4h0m7-14h0m2 0h0m7-6h0m5 7h0m1 6h0m0-13h0m1-1h0m4 15h0m0-6h0m14 0h0m4 1h0m0 1h0m5 11h0m0-12h0m1 4h0m2-5h0m2 1h0m4-3h0m2-6h0m1 3h0m16 19h0m4-15h0m9 2h0m1-4h0m10 11h0m4 0h0m2 5h0m0-18h0m2 21h0m8-29h0m0 15h0m19 14h0m2-5h0m1-22h0m2 15h0m1-9h0m1 7h0m1 12h0m1-16h0m4-10h0m0 7h0m2 18h0m0-24h0m2 15h0m1-1h0m6 11h0m0-12h0m1 14h0m3 0h0m3-4h0m3 3h0m3-20h0m1 16h0m0-10h0m2-2h0m1-1h0m4-9h0m2 26h0m0-26h0m1 21h0m1-14h0m6 2h0m13 2h0m7 14h0m1-19h0m1-8h0m4 22h0m1-16h0m4 2h0m6 10h0m2 3h0m2-13h0m1 2h0m1-9h0m3 7h0m0 16h0m8-19h0m1-5h0m2 5h0m22 4h0m1 1h0m0 18h0m7-4h0m2-20h0m3 16h0m2-17h0m11 1h0m9 2h0m4 20h0m1-3h0m7-5h0m9-3h0m6 6h0m2 1h0m2-21h0m1 16h0m4-12h0m1 19h0m4-9h0m1 0h0m3-15h0m1 0h0m1 28h0m5-11h0m2 5h0m3-18h0m12 20h0m3-8h0m1-3h0m22-13h0m11 10h0m-508 40h0m2-19h0m0 1h0m16 17h0m1-6h0m0-5h0m2 15h0m2 0h0m2-13h0m5 5h0m12 13h0m1-14h0m6-3h0m8 13h0m2-5h0m10-9h0m8 17h0m2-13h0m0 11h0m5-5h0m2-10h0m6-8h0m5 2h0m1 12h0m4 11h0m1-13h0m2 4h0m5 9h0m3-7h0m0-4h0m1-6h0m3-8h0m2 16h0m1 8h0m3-16h0m7 9h0m5 10h0m3-24h0m3-1h0m3 17h0m8-3h0m2-9h0m7-2h0m0-1h0m1 22h0m2-28h0m2 27h0m4-5h0m7-9h0m3-3h0m4 3h0m4-6h0m4 19h0m5-17h0m0-2h0m2-3h0m1 13h0m9 9h0m0-9h0m2-3h0m1-6h0m2 13h0m0-5h0m11 9h0m7-16h0m2 17h0m2-26h0m10 19h0m1-8h0m3 6h0m1 4h0m4-21h0m3 9h0m3 14h0m6-12h0m2 5h0m2 5h0m5-16h0m6 1h0m6 6h0m16 10h0m1-20h0m1 11h0m3-1h0m5-7h0m9 0h0m12 0h0m1 16h0m14 7h0m14 1h0m3 0h0m0-16h0m1 5h0m4 10h0m2-15h0m2-2h0m2 6h0m0 3h0m0-20h0m3 13h0m3-12h0m6 17h0m6 8h0m3-17h0m5-1h0m1 19h0m4-13h0m0-5h0m2 7h0m3-14h0m1 21h0m5-10h0m1-10h0m1 15h0m3-7h0m3 16h0m1-21h0m2-5h0m2 21h0m3-2h0m3-3h0m0 1h0m0 5h0m3-3h0m3-6h0m0 10h0m1-20h0m4 7h0m6 10h0m1 7h0m12-3h0m3-8h0m1 3h0m3-16h0m9-3h0m1 4h0m-479 33h0m1 9h0m4 5h0m4 0h0m10 4h0m1 2h0m1-26h0m5 24h0m2-20h0m0 18h0m1-22h0m2 5h0m3 3h0m0-4h0m5 23h0m2 0h0m3-8h0m5-13h0m16-5h0m5 12h0m2 6h0m1-21h0m4 26h0m11-13h0m0-1h0m3 5h0m4-1h0m14 13h0m11-20h0m4 4h0m7-13h0m1 12h0m2-12h0m3 8h0m4 15h0m2-7h0m7 0h0m3-11h0m2 23h0m2-21h0m2 3h0m23 12h0m8-5h0m2 4h0m1-4h0m4-13h0m1 19h0m1-11h0m2-11h0m2 1h0m1 17h0m2 2h0m1 7h0m0 0h0m2-21h0m2-6h0m5 24h0m1-6h0m1-7h0m1 8h0m7-5h0m4 8h0m1-17h0m4 3h0m0 10h0m2-9h0m5 18h0m6-6h0m13 6h0m8-10h0m5-7h0m2 13h0m8-12h0m3 16h0m4-8h0m4 6h0m1-21h0m3-4h0m12 19h0m6-2h0m2-13h0m7 8h0m0-8h0m7 13h0m10 6h0m0-8h0m8-16h0m1 18h0m9 1h0m6-2h0m3-7h0m1 15h0m2-11h0m2-14h0m1 6h0m2 9h0m24-15h0m4 23h0m11 6h0m0-22h0m1 20h0m0-17h0m4 3h0m16 11h0m1-20h0m2 24h0m8-17h0m4 11h0m6-11h0m2 3h0m8-2h0m-468 45h0m1-7h0m5 5h0m2-14h0m5 0h0m3 18h0m0 0h0m4-23h0m2-1h0m3 10h0m3 9h0m1-20h0m1 18h0m11-22h0m1 29h0m1-27h0m2 11h0m13 14h0m0-3h0m6-5h0m2 10h0m8-2h0m5-20h0m3 19h0m1 2h0m2-7h0m3-5h0m1 3h0m5-12h0m4 15h0m4-7h0m5 10h0m2 1h0m6-20h0m4 6h0m2-8h0m3 22h0m5-12h0m4 14h0m8-6h0m0-18h0m3-1h0m1 24h0m1-25h0m18 14h0m2 13h0m4-13h0m2-11h0m13 17h0m11 3h0m0-24h0m5 8h0m4 9h0m5 11h0m2-16h0m0 14h0m2-10h0m3-1h0m2 5h0m1 3h0m7-17h0m2-5h0m5 16h0m9-2h0m8 0h0m6 1h0m6-13h0m0-2h0m1 24h0m6-14h0m2-2h0m5-6h0m1 10h0m5 14h0m3-10h0m1-4h0m0 14h0m7-15h0m5 13h0m2-8h0m6-3h0m2 6h0m1 7h0m2-10h0m2 6h0m1-16h0m4-3h0m3 10h0m3-8h0m0-6h0m6 12h0m4-11h0m6 27h0m5-21h0m3-1h0m6 10h0m1-8h0m3 6h0m13 12h0m3-20h0m3-7h0m1 11h0m13 8h0m7-5h0m4-12h0m0 14h0m8 12h0m1-20h0m1-4h0m0 9h0m1 2h0m2-13h0m9-2h0m5 8h0m10-5h0m4 22h0m2-21h0m1 18h0m16 0h0m2-20h0m6 25h0m5-11h0m-475 14h0m5 14h0m12-7h0m6-7h0m0 11h0m1 0h0m3 0h0m3-2h0m6-4h0m5 23h0m4-22h0m6-5h0m4 25h0m3-26h0m0 19h0m3-16h0m3 10h0m2-10h0m6 25h0m14-28h0m3 3h0m10 5h0m3-4h0m3 18h0m14 3h0m3-12h0m4 3h0m1-5h0m1-8h0m1 20h0m8 2h0m1-6h0m4-13h0m4 14h0m5 2h0m1 0h0m1 0h0m4-21h0m3 0h0m10 17h0m1-5h0m2-11h0m0 22h0m2-1h0m5-10h0m1 9h0m3-20h0m5 2h0m0-2h0m6-2h0m4 3h0m1 16h0m1 0h0m13 0h0m1 4h0m10-12h0m7 6h0m1 4h0m0-15h0m18 6h0m8 2h0m2 11h0m1-10h0m4 6h0m2 3h0m3-13h0m6-6h0m6-5h0m8 5h0m4 18h0m2-14h0m5 19h0m6 0h0m4-17h0m10 12h0m3-14h0m2 17h0m8-7h0m3-1h0m3-7h0m9 16h0m4-3h0m5 5h0m4-20h0m10 20h0m3-6h0m3-21h0m0 23h0m3-22h0m5-2h0m1 10h0m12-3h0m3 2h0m3 13h0m2 6h0m8-13h0m5-8h0m5 15h0m1-4h0m2-18h0m5 20h0m6-11h0m9-8h0m3 4h0m2 8h0m0 1h0m1 0h0m6 8h0m14-21h0m-456 35h0m16 10h0m8-17h0m2 6h0m2 10h0m1 2h0m1 0h0m2-1h0m1-8h0m1 2h0m13-6h0m11 21h0m4-13h0m1-8h0m1 24h0m0-15h0m6-2h0m5-8h0m3 4h0m13 18h0m7-20h0m2 12h0m0-16h0m1 19h0m5-1h0m11-8h0m0 17h0m1-11h0m1-10h0m6-5h0m12 1h0m1 6h0m17 6h0m2 1h0m5-9h0m8 10h0m0-8h0m3 12h0m3-13h0m0 0h0m3 10h0m2 3h0m0-17h0m2 4h0m6 16h0m0-20h0m6 0h0m3 8h0m0-11h0m2 23h0m3-25h0m1 15h0m5-2h0m6-7h0m4 17h0m2-2h0m1-11h0m6 18h0m14-23h0m0 9h0m1 0h0m12 2h0m0 12h0m1-18h0m1 18h0m0-9h0m2 4h0m6-16h0m8 22h0m1-13h0m3-3h0m4 12h0m2-12h0m1 12h0m2-20h0m4 0h0m5 4h0m0-8h0m1 19h0m4-11h0m3-1h0m4 3h0m4-3h0m0-5h0m2 12h0m3-8h0m2 4h0m1-10h0m0 11h0m3-7h0m1 10h0m7 9h0m4-21h0m1 17h0m7 9h0m4-5h0m12 1h0m6-1h0m1 4h0m2-28h0m6 6h0m1 19h0m1-5h0m4 7h0m1-6h0m4 3h0m6 2h0m0-10h0m3-3h0m3-12h0m0 15h0m2 7h0m1-5h0m1 6h0m2-22h0m4 22h0m0-8h0m1 9h0m5-2h0m3-3h0m1-13h0m6 10h0m2 9h0m1 0h0m3-6h0m1 7h0m2-21h0m6-5h0m5 14h0m5-8h0m-434 36h0m8 5h0m8-9h0m1 6h0m15 3h0m10 11h0m6-16h0m4 0h0m1-3h0m3-2h0m0 1h0m3-2h0m5-6h0m8 8h0m3-3h0m5 6h0m3-4h0m0 2h0m1 19h0m10-24h0m3 17h0m6 7h0m2-26h0m3 23h0m5-11h0m1 1h0m2-4h0m5-4h0m9 17h0m6-22h0m1 7h0m4 12h0m12-11h0m4 6h0m2 1h0m1-1h0m1-1h0m7-4h0m2-12h0m7 18h0m3-12h0m2 22h0m10-28h0m2 14h0m13 13h0m1-15h0m3 6h0m2-9h0m4-9h0m0 10h0m3 13h0m1-11h0m0-7h0m1 3h0m1 8h0m5 10h0m10 0h0m1-9h0m10-3h0m2-11h0m2 8h0m7 2h0m0 6h0m2-11h0m1 16h0m0-16h0m1-5h0m2 17h0m8 9h0m12-5h0m4-20h0m3 17h0m0-2h0m5 2h0m1-13h0m5 9h0m5 0h0m1 1h0m12-18h0m10 28h0m4-24h0m1 10h0m1-10h0m2 24h0m1-18h0m1 13h0m2-5h0m2 2h0m2-10h0m0-3h0m4 14h0m2-4h0m3 8h0m3-24h0m6 4h0m0 5h0m4-4h0m3-4h0m1-2h0m6 13h0m6 16h0m4-5h0m1-18h0m22-3h0m5 23h0m2-12h0m0-3h0m9 15h0m6-21h0m-417 31h0m8-1h0m7 23h0m1-20h0m9 3h0m0 15h0m2 2h0m1-8h0m0 6h0m12-10h0m1 4h0m3 6h0m2-2h0m1 1h0m1 4h0m2-28h0m7 7h0m10-6h0m2 1h0m2 24h0m5 0h0m3 1h0m5-8h0m1-6h0m2-12h0m4 6h0m2 14h0m10 5h0m1 2h0m2-13h0m2-2h0m4 0h0m1-1h0m2 14h0m3-7h0m3 4h0m4-8h0m5-13h0m9 13h0m1-4h0m3 5h0m4-6h0m4 9h0m1-18h0m10 25h0m15-20h0m1-5h0m3 25h0m1-26h0m12 0h0m3 16h0m7-6h0m3 10h0m1 0h0m1-7h0m5-13h0m1 18h0m3-14h0m1 23h0m1-5h0m3-2h0m5-14h0m9 21h0m2-4h0m1-6h0m1 7h0m9-12h0m1 15h0m4-6h0m13-22h0m3 23h0m0-17h0m1 1h0m0 2h0m12 3h0m5 17h0m2-19h0m3 19h0m3-10h0m3 10h0m1 0h0m6-16h0m0 7h0m3-3h0m8 2h0m3-2h0m6 9h0m1-25h0m1 21h0m14-1h0m4-6h0m2-15h0m1 26h0m2-21h0m8-3h0m1 13h0m5-14h0m3 0h0m1 17h0m2 8h0m3-4h0m4-16h0m2 11h0m2 6h0m2-22h0m13 21h0m2-21h0m10 28h0m5-19h0m6-1h0m-413 24h0m2 2h0m12 19h0m1-24h0m5 29h0m5-14h0m4-9h0m0 18h0m8-11h0m4 6h0m2 9h0m6-7h0m3 0h0m9-18h0m13 26h0m1-3h0m4-5h0m4-8h0m4-13h0m2 5h0m0 3h0m1-1h0m1 6h0m9-1h0m3-2h0m8-6h0m3 20h0m4-18h0m4-6h0m4 12h0m5-5h0m8 18h0m0-8h0m1 8h0m7-4h0m5-20h0m1 24h0m7-15h0m4-6h0m3 22h0m3-21h0m5 22h0m11-8h0m4-13h0m0 3h0m0 19h0m1-14h0m8-3h0m14-5h0m0 0h0m8 5h0m1 14h0m5-7h0m3 6h0m1-16h0m0 20h0m6 1h0m7-6h0m2 5h0m1-6h0m9-13h0m1-2h0m9 19h0m8-18h0m2-1h0m2 6h0m5 0h0m2-4h0m5-3h0m0 4h0m3-4h0m1 17h0m7 0h0m4-6h0m21 2h0m4 4h0m1-6h0m1-5h0m29 9h0m1-20h0m15-1h0m6 17h0m5 6h0m7-4h0m2-11h0m2 6h0m6-5h0m0 11h0m1-11h0m-377 21h0m1 10h0m9 17h0m5-26h0m0 7h0m5 2h0m1 14h0m2-11h0m3 1h0m7 12h0m1-21h0m4 10h0m1 4h0m4-6h0m1 12h0m5-6h0m2-7h0m1-5h0m1 6h0m12-9h0m3 7h0m5 7h0m1-18h0m1 13h0m4-5h0m1 16h0m1-9h0m2 4h0m7-14h0m1 10h0m0-13h0m1 11h0m1 1h0m0-1h0m1 12h0m4-5h0m1 4h0m0-18h0m3 8h0m3-8h0m7 23h0m5-24h0m3 11h0m2-9h0m7 18h0m5-6h0m5-13h0m4 19h0m4-1h0m5-20h0m8 0h0m2 6h0m0 2h0m7 3h0m1 11h0m3 0h0m5-10h0m0-15h0m6 26h0m4-14h0m11-3h0m2-4h0m1 16h0m3-11h0m0 15h0m2-18h0m8 10h0m6-13h0m1 15h0m1-2h0m6-17h0m3 27h0m3-17h0m4 2h0m3-4h0m2 7h0m0 6h0m4 2h0m2-7h0m10-3h0m1 1h0m14-6h0m4 14h0m7-1h0m0-10h0m3 4h0m0 13h0m2-5h0m2 3h0m11-23h0m2 10h0m6 5h0m1-4h0m2 7h0m6-15h0m2 2h0m1 2h0m6 5h0m3-3h0m17 9h0m7-15h0m1-7h0m4 14h0m3-14h0m5 13h0m-358 19h0m2 10h0m1-6h0m7 7h0m3-1h0m0 13h0m1-6h0m3-9h0m3-1h0m1 17h0m2-5h0m15-4h0m1 10h0m8-20h0m4 10h0m0 7h0m1-11h0m3-10h0m0 21h0m2-19h0m13 11h0m0-10h0m0 1h0m8-5h0m10 21h0m0-12h0m6 1h0m0 0h0m10-2h0m6 12h0m12-8h0m0-14h0m1 5h0m9 22h0m2-2h0m1 1h0m6-20h0m7 12h0m1 4h0m1-3h0m5-4h0m7-11h0m1 4h0m1 2h0m4-6h0m1 12h0m7 0h0m1 13h0m0-19h0m2 6h0m1 8h0m4-21h0m1 22h0m0-14h0m0 15h0m1-2h0m0-18h0m1 20h0m2-9h0m1-4h0m4 6h0m3-3h0m1 0h0m0-1h0m7 0h0m0 4h0m19-12h0m0-2h0m2 11h0m1-13h0m0 15h0m3-16h0m0 9h0m3-11h0m8 13h0m7 5h0m4 11h0m12-20h0m2 20h0m0-7h0m1-22h0m0 9h0m1 3h0m2-11h0m3 21h0m4-15h0m12-7h0m5 1h0m10 11h0m5 0h0m3 2h0m2-1h0m4 5h0m1 7h0m1-18h0m3 2h0m0 11h0m0-17h0m6 3h0m2 6h0m14-4h0m2 11h0m4-16h0m0 1h0m-333 29h0m20 15h0m5-16h0m9 17h0m1-19h0m7 22h0m1-10h0m1 4h0m2-13h0m0 5h0m2 0h0m2 4h0m2-10h0m2 2h0m1 12h0m3-6h0m1 8h0m1-3h0m0 11h0m3-19h0m7 15h0m1-17h0m2 1h0m3 3h0m3 18h0m4-21h0m1 17h0m0-16h0m4 11h0m0-7h0m3 6h0m13-9h0m2 14h0m11-10h0m6 6h0m3 11h0m1-4h0m0-20h0m13 5h0m1 14h0m1-24h0m0 11h0m2-11h0m6 3h0m5 17h0m3-13h0m2 21h0m5-2h0m0-18h0m5 6h0m0-14h0m10 7h0m4 13h0m0 8h0m1-21h0m2-6h0m2-1h0m6 23h0m1 1h0m1-11h0m1 1h0m1 4h0m10 1h0m1 6h0m1 4h0m2-11h0m3-8h0m6 8h0m2-18h0m3 11h0m7 0h0m0 15h0m2-23h0m3 10h0m13 8h0m23-4h0m2-13h0m1 21h0m2-20h0m1-1h0m8 24h0m2-13h0m3 3h0m0-2h0m1-12h0m0 16h0m0-3h0m10-4h0m2-4h0m5 18h0m3-24h0m2 17h0m3-18h0m-286 31h0m0 7h0m3-3h0m1 6h0m9 13h0m0-17h0m2 19h0m3-2h0m8 1h0m0-5h0m6 4h0m1-23h0m0 3h0m1 8h0m15 13h0m0-25h0m1 27h0m3-17h0m0 17h0m2-16h0m3-4h0m1-7h0m14 21h0m3-6h0m0-8h0m0 11h0m3-6h0m3 12h0m0 3h0m2-10h0m2 2h0m3 4h0m5-11h0m4 8h0m3-4h0m3-17h0m8 12h0m0-13h0m2 14h0m5 11h0m5-18h0m5 13h0m3-11h0m1 4h0m7 1h0m2-10h0m14-4h0m12 4h0m5 6h0m10-1h0m4 11h0m2-13h0m2 22h0m5-18h0m7 4h0m6-14h0m7 19h0m12 3h0m2-12h0m1 10h0m4-7h0m2 6h0m1-15h0m1 20h0m8-22h0m5 5h0m4 10h0m0 11h0m1-15h0m0-13h0m2 13h0m9 5h0m1-5h0m2 3h0m-242 14h0m16 15h0m9-16h0m2 3h0m0 24h0m5-5h0m5-1h0m1-17h0m5 12h0m1-8h0m0 10h0m2-18h0m1 28h0m4-12h0m5-8h0m5 16h0m1-23h0m7 3h0m3-4h0m5 10h0m2 15h0m1-24h0m1 20h0m3-19h0m4 14h0m9 12h0m4-22h0m2 15h0m3-16h0m10 3h0m2-3h0m15-1h0m3 13h0m2-12h0m4 15h0m3-20h0m1 12h0m1-12h0m2 15h0m2 9h0m2-3h0m2 4h0m1 4h0m3-15h0m1-5h0m2 20h0m1-1h0m9-15h0m1 8h0m1-17h0m6 3h0m5 6h0m0-5h0m2 13h0m3-1h0m1 3h0m7-10h0m2 13h0m1 1h0m1-25h0m0 7h0m0 4h0m3 6h0m4 1h0m2-15h0m3-4h0m4 7h0m10 0h0m2-8h0m-208 30h0m10 0h0m11 21h0m1-2h0m2-12h0m8 9h0m10-6h0m1 10h0m7 2h0m0-21h0m4 5h0m2 10h0m6 10h0m4-21h0m7 20h0m1-10h0m6 14h0m0-22h0m1-5h0m2 6h0m2 8h0m4-1h0m9 4h0m6-12h0m2 0h0m3 16h0m17 4h0m10-23h0m2 19h0m4-11h0m6-5h0m4-7h0m5 23h0m7-17h0m1-6h0m10 9h0m2 4h0m4-1h0m0-9h0m1 8h0m12-5h0m-156 30h0m11 8h0m0-1h0m1 2h0m4-3h0m9-4h0m2 10h0m2-2h0m10 0h0m2-10h0m1-3h0m1 11h0m5-12h0m0 11h0m3 1h0m9-7h0m0-3h0m12 10h0m3-13h0m13 9h0m3-8h0m1-1h0m7-1h0" stroke="#55cfc5" stroke-width="12" stroke-linecap="round" fill="none"/>
<path transform="scale(.1)" d="M5889 315h0m42 0h0m7 3h0m12 4h0m47 5h0m13-4h0m3-4h0m15 10h0m1-5h0m4-7h0m24 11h0m-266 31h0m56-12h0m19-10h0m0 6h0m25 5h0m13-15h0m30-1h0m43 17h0m5-5h0m3 10h0m4-17h0m17 0h0m8 0h0m23-1h0m9 4h0m1 14h0m13-10h0m19-2h0m11-1h0m4 9h0m11 6h0m6 3h0m-409 24h0m97-3h0m53-13h0m40 10h0m2-10h0m28 18h0m31-1h0m42 3h0m0-23h0m13 9h0m4 3h0m9-16h0m1 16h0m2-11h0m4 16h0m2-8h0m2 4h0m34 4h0m11-9h0m2 1h0m8 2h0m4-9h0m7 7h0m9 3h0m4 8h0m0-2h0m1 6h0m1-11h0m5-14h0m22 13h0m11-7h0m-437 42h0m36 2h0m63-13h0m10 8h0m29 9h0m22-5h0m11 6h0m3-8h0m6-12h0m30 9h0m12-8h0m16 2h0m21 6h0m3-13h0m4 3h0m29 10h0m12 5h0m2-16h0m3 15h0m2 2h0m2-22h0m2 19h0m2-12h0m3 19h0m18-10h0m5-17h0m9 12h0m1 12h0m1-14h0m10 12h0m3 1h0m1 2h0m0-8h0m2 10h0m12-24h0m1 3h0m8 12h0m13 8h0m3-18h0m14 12h0m4 6h0m3-15h0m0-9h0m1 16h0m20-18h0m4 7h0m2 20h0m6-6h0m15 4h0m-502 6h0m33 17h0m61 7h0m48-11h0m1 7h0m48-15h0m45-4h0m13 11h0m26 3h0m8-12h0m7-4h0m0 23h0m2 1h0m48-1h0m4 3h0m18-17h0m1-8h0m16 6h0m5 8h0m1 0h0m3 5h0m1 9h0m3-3h0m14-6h0m2-7h0m1 12h0m11-25h0m14 1h0m3 13h0m3-9h0m6 12h0m4 1h0m6 3h0m1-13h0m2 10h0m3 2h0m2-12h0m2-3h0m6 16h0m6-21h0m6 20h0m1-9h0m10 17h0m1-9h0m6 7h0m4-11h0m3-13h0m12 9h0m2 17h0m-637 14h0m188-11h0m32 1h0m14 0h0m13 0h0m29 13h0m36-1h0m34 7h0m8-15h0m26 11h0m7-5h0m3-12h0m0 26h0m20-9h0m7-12h0m18 8h0m7 13h0m4-1h0m0-4h0m1-11h0m0 13h0m13-18h0m1-5h0m9 2h0m4 8h0m5 9h0m5 9h0m2-8h0m1-3h0m4-2h0m5 1h0m6 1h0m22-11h0m33 18h0m16-5h0m3-12h0m0 16h0m4-11h0m1-2h0m3 14h0m14-2h0m10-8h0m3-7h0m1 1h0m5 0h0m7 17h0m1-20h0m7 15h0m1 8h0m2-13h0m8-10h0m1 15h0m1-6h0m-668 24h0m46-4h0m106 15h0m21-9h0m0 11h0m34-7h0m21-12h0m3 20h0m17 7h0m41-3h0m0 1h0m25-5h0m88-5h0m10-17h0m0 16h0m9 6h0m15 1h0m7-21h0m15 15h0m3-3h0m1 9h0m2-5h0m4 5h0m23-22h0m12 23h0m10-20h0m1 5h0m18-3h0m3-2h0m3 7h0m3-2h0m0 1h0m8 4h0m8-3h0m2-6h0m0 0h0m5 17h0m3-14h0m4-8h0m3 23h0m0-11h0m1 13h0m1-5h0m3 1h0m17-12h0m4 5h0m3-1h0m12-1h0m5 4h0m3 3h0m12 4h0m4-21h0m9 18h0m7-1h0m1 9h0m14-27h0m10 14h0m7-10h0m5 22h0m5-8h0m-678 33h0m2-16h0m50 1h0m93 10h0m87 8h0m12-22h0m4-3h0m38 26h0m2-15h0m6 9h0m39 2h0m28-8h0m12 12h0m7-2h0m8-7h0m1 1h0m9-12h0m1 22h0m3-8h0m7 8h0m17-22h0m6-4h0m2 14h0m11-10h0m5-4h0m6 17h0m7-16h0m0-2h0m3 14h0m5 13h0m0-5h0m11-10h0m2 4h0m10-5h0m2-10h0m28 19h0m11 2h0m8-23h0m3 27h0m4-3h0m5-22h0m1 0h0m1 5h0m12 13h0m8 1h0m0-4h0m2-14h0m1 3h0m1 8h0m2 13h0m6-15h0m0 10h0m5 2h0m5-4h0m4-20h0m2 5h0m14 13h0m12-3h0m10-12h0m5 18h0m2-13h0m5 13h0m9-8h0m7-12h0m4 6h0m7-7h0m7 28h0m4-4h0m-791 26h0m70 7h0m98-23h0m51 8h0m206-1h0m39 0h0m28 7h0m6 9h0m3-19h0m33 12h0m26-3h0m7 9h0m3-6h0m3-16h0m3 2h0m5 15h0m0-18h0m8 22h0m11-7h0m13-15h0m6 11h0m6 10h0m3-1h0m3-22h0m2 19h0m3-17h0m4 18h0m2-14h0m3 0h0m12-2h0m8-4h0m5 23h0m5 3h0m10-2h0m4-3h0m3-17h0m4-2h0m9 7h0m1 8h0m4-8h0m12-8h0m5 5h0m2-3h0m1 25h0m1-27h0m25 15h0m2 7h0m1-21h0m9 24h0m2-18h0m1 7h0m10-10h0m4 6h0m1-5h0m1 8h0m10-10h0m0 2h0m2 13h0m5-1h0m9-1h0m-825 38h0m306-23h0m67 10h0m41 5h0m1 8h0m24-25h0m52 9h0m3-9h0m44 10h0m4 5h0m9 12h0m8-7h0m3-15h0m16 16h0m7-2h0m6-6h0m8-8h0m11 14h0m5 8h0m3-28h0m3 15h0m3-6h0m0 7h0m10-6h0m4 14h0m1 3h0m8-21h0m6 19h0m2-5h0m6 6h0m22 2h0m1-17h0m17 12h0m3-14h0m2 4h0m2 4h0m15-7h0m5-6h0m7 25h0m2-9h0m0 9h0m0-24h0m6 22h0m5-17h0m10 14h0m6-4h0m9 5h0m0-21h0m8 2h0m4 11h0m5-8h0m4 2h0m3 7h0m4-11h0m4 11h0m3 2h0m11-16h0m4 18h0m8 7h0m5-11h0m0-9h0m1 8h0m-851 30h0m187-3h0m89-14h0m72 23h0m13-20h0m7 15h0m48-3h0m16 5h0m18-13h0m18 9h0m29 13h0m19-15h0m5-12h0m4 20h0m27 6h0m17-22h0m8 18h0m2 2h0m7-7h0m1-1h0m5-6h0m2 13h0m2 3h0m8-4h0m1-3h0m14-1h0m1-5h0m3-7h0m0 19h0m3-26h0m0 19h0m0-3h0m7 5h0m2-2h0m11-16h0m1 14h0m1 1h0m1-7h0m6 12h0m23-16h0m1 21h0m8-12h0m3-9h0m3-7h0m3 25h0m6 1h0m4-19h0m2 17h0m6 0h0m5-14h0m6-10h0m3 11h0m18 12h0m4-1h0m1-21h0m4 11h0m5-10h0m2 8h0m7 9h0m6-13h0m10 1h0m2-2h0m1-4h0m5 26h0m10-17h0m9 9h0m7-6h0m13-10h0m3 8h0m6 17h0m1-6h0m1-6h0m1-4h0m4 4h0m1-2h0m1-12h0m1 10h0m5 9h0m1-13h0m3-9h0m7 24h0m-743 18h0m54-7h0m37 8h0m165 1h0m2 12h0m1-10h0m13-7h0m15 7h0m1 11h0m0-2h0m1-20h0m3 10h0m8 11h0m15-4h0m9-15h0m11 4h0m1 16h0m9-26h0m16 11h0m45-9h0m3 0h0m5 11h0m0-6h0m13 16h0m2-8h0m17-3h0m9-6h0m8 18h0m4-25h0m18 4h0m3 5h0m4 13h0m28-21h0m10 0h0m6 12h0m1 13h0m1-9h0m0 10h0m5-7h0m5-18h0m1 21h0m3-22h0m3 16h0m9-12h0m2 7h0m2-7h0m0 17h0m5-3h0m19-4h0m1-11h0m11 7h0m8 12h0m1 6h0m4-17h0m7 9h0m1-3h0m20-15h0m2 19h0m1-17h0m8 23h0m6-27h0m10 13h0m9-3h0m0 4h0m4-8h0m24 16h0m6 4h0m0-2h0m6-20h0m1 6h0m0-4h0m9 13h0m12 7h0m3-10h0m0 1h0m2-11h0m7 9h0m4-3h0m1-8h0m13 20h0m-816 27h0m58-14h0m186 2h0m36 11h0m34-9h0m1-2h0m11-7h0m1 18h0m25-18h0m6 19h0m4 0h0m0-13h0m0 0h0m47 1h0m16-9h0m9 7h0m4 17h0m3-7h0m1-13h0m2-2h0m19 9h0m7-7h0m18 8h0m5-6h0m3 16h0m3-3h0m4-4h0m5 1h0m9 3h0m0-1h0m3-12h0m6 19h0m20-22h0m1 25h0m8-19h0m5 13h0m7 3h0m4-26h0m2 23h0m5-14h0m3 19h0m3-2h0m4-23h0m18 1h0m0 21h0m4 4h0m10-16h0m14 5h0m1-6h0m12 0h0m1-10h0m4 27h0m5-12h0m1 5h0m20-17h0m9 9h0m1 5h0m6-17h0m0 7h0m5-3h0m28 9h0m2-12h0m2 23h0m9-22h0m2 22h0m5-20h0m1 12h0m1 10h0m5 1h0m11-5h0m7 3h0m10 2h0m4-19h0m21 13h0m6 2h0m21-2h0m-845 20h0m100 12h0m45 4h0m18-7h0m49-10h0m62-6h0m53 5h0m4 6h0m1 8h0m5-23h0m21 16h0m9 6h0m17-22h0m5 7h0m34-9h0m5 0h0m17 25h0m0 3h0m28-9h0m15-18h0m5 1h0m34 17h0m2-7h0m4 15h0m13-1h0m2-3h0m6-16h0m1 4h0m4 15h0m4-22h0m4-3h0m5 16h0m2 6h0m21-2h0m8-11h0m8-4h0m5 2h0m4-3h0m4 1h0m10 12h0m0-18h0m33 6h0m2 13h0m12-4h0m3-7h0m0 6h0m4-11h0m2 13h0m0-4h0m4-1h0m0 7h0m1 8h0m1-1h0m11-18h0m3 3h0m0 8h0m4 8h0m1-17h0m0 12h0m4-16h0m4 2h0m2 8h0m1 5h0m3-17h0m11 0h0m16 25h0m2-9h0m13-17h0m2 16h0m5-16h0m9 9h0m15-7h0m9-4h0m6 7h0m1-6h0m11 19h0m7 6h0m2-12h0m5 8h0m6-19h0m4 3h0m5-2h0m2 5h0m1 10h0m8 8h0m4 2h0m-660 8h0m69 21h0m77-8h0m27-8h0m3 10h0m25-8h0m3-11h0m5 22h0m16-7h0m28-9h0m3-2h0m9 12h0m16 4h0m11-13h0m6-3h0m4 15h0m20-1h0m6-19h0m13-2h0m5 27h0m3-2h0m4-14h0m4-6h0m7 21h0m10-1h0m3-10h0m5 6h0m2-4h0m12 3h0m24-9h0m17 0h0m15 13h0m0-17h0m2 17h0m6-21h0m2 9h0m4 1h0m13 7h0m3-19h0m1 21h0m3-19h0m2 7h0m6 4h0m17 1h0m4 2h0m0 0h0m2 7h0m5-13h0m1 0h0m14 2h0m1 15h0m10 1h0m13-24h0m1 19h0m24-11h0m2-6h0m0 20h0m1-19h0m2 19h0m5-19h0m8 7h0m5 3h0m6 3h0m2-9h0m2-4h0m6 10h0m5-11h0m9 16h0m0-9h0m7-4h0m2-3h0m11 11h0m4-15h0m5 25h0m9-4h0m1 5h0m7-3h0m-977 24h0m227-5h0m141-8h0m58 8h0m15 1h0m8 4h0m1-2h0m4-2h0m3-7h0m58 18h0m6-6h0m11-2h0m4-17h0m11 4h0m2 0h0m3 13h0m10-14h0m23 2h0m3 10h0m10 11h0m2-4h0m2-22h0m4-2h0m12 4h0m9 23h0m0-12h0m3 10h0m0 0h0m2-9h0m2-6h0m3 15h0m11-23h0m4 21h0m2-12h0m13 1h0m2-11h0m1 14h0m4 2h0m15 11h0m8-3h0m3-4h0m1-13h0m1 16h0m3 3h0m0-9h0m4 8h0m1-11h0m5 0h0m11-10h0m3 1h0m2-5h0m0 15h0m14-16h0m4 10h0m5 1h0m0 2h0m4-7h0m2 21h0m3-20h0m10 18h0m2-2h0m3-22h0m10 15h0m4 4h0m1-4h0m4 10h0m0-15h0m9 17h0m3 1h0m1-4h0m9 1h0m3-18h0m3 4h0m3 8h0m3 2h0m7 5h0m1 0h0m0-21h0m2 22h0m3-17h0m4 17h0m12-14h0m2 12h0m3-8h0m3-11h0m17 0h0m3 22h0m1-7h0m8 4h0m4-13h0m10 14h0m5-21h0m4 10h0m0 0h0m2 11h0m4 2h0m1-16h0m3 12h0m1 3h0m3-22h0m1 1h0m0 19h0m0-24h0m5 15h0m4 12h0m10-14h0m11-1h0m8 11h0m1-5h0m7-11h0m-952 36h0m1 13h0m155-7h0m108-21h0m11 27h0m3-14h0m28-4h0m64 15h0m47-1h0m9-7h0m1-3h0m1 6h0m9 1h0m3-11h0m13 8h0m2 9h0m1-22h0m8 9h0m3-1h0m14-4h0m4 21h0m3-10h0m12-8h0m3 4h0m3-14h0m3 9h0m9-5h0m1 17h0m3-8h0m6 14h0m8-20h0m2-1h0m0 2h0m4 7h0m12-14h0m0 8h0m1-5h0m2 10h0m6 9h0m1-2h0m4-8h0m9 6h0m0 9h0m12-14h0m1 11h0m0 1h0m11-8h0m2 9h0m2-3h0m1-5h0m3 9h0m5-19h0m1 6h0m0 7h0m2-19h0m1 19h0m2 5h0m4-12h0m1 9h0m28-14h0m21 4h0m17 13h0m3-28h0m1 12h0m0-2h0m14 8h0m3 9h0m13-2h0m6-4h0m7-7h0m16 12h0m1-1h0m0-8h0m1-15h0m0 16h0m0-17h0m1 16h0m4-4h0m7 3h0m1 3h0m3 1h0m11-3h0m0-13h0m1 14h0m3-6h0m2-1h0m8 10h0m2-8h0m2-9h0m0 18h0m0-20h0m0 12h0m3 0h0m2 13h0m2-17h0m10 8h0m7-18h0m3 6h0m3 2h0m3 3h0m11-11h0m6 28h0m2-3h0m2-12h0m4-13h0m2 24h0m1-13h0m8 16h0m5-11h0m0 13h0m0-23h0m2-6h0m0 0h0m3 6h0m3 3h0m15 9h0m1 11h0m1-15h0m0 8h0m2-20h0m1 11h0m9 3h0m10-11h0m3 11h0m9 4h0m1-6h0m3 3h0m4 12h0m3-15h0m1 15h0m2-3h0m3-19h0m6 5h0m7-2h0m0-3h0m-877 42h0m7-12h0m78 7h0m31-10h0m43 9h0m120 12h0m15-15h0m22-1h0m11 18h0m9 2h0m3-1h0m5-9h0m0-19h0m34 23h0m15-3h0m2-11h0m1 13h0m8-19h0m10 15h0m3-4h0m1-10h0m3 3h0m6 20h0m19-11h0m3-14h0m1 27h0m1-5h0m3-4h0m9 4h0m1-10h0m21 2h0m28-9h0m4-2h0m3-2h0m7 12h0m5 14h0m3-27h0m0-2h0m2 24h0m8 5h0m18-21h0m1 19h0m3-5h0m1 2h0m16 2h0m6-17h0m2 0h0m12 17h0m2-10h0m1-6h0m8 2h0m2 12h0m7-3h0m2-3h0m3-15h0m16 21h0m2-5h0m10-5h0m8-14h0m5 20h0m6-17h0m1 5h0m2 19h0m1-17h0m2 5h0m0 9h0m2-2h0m0 3h0m5-2h0m0-17h0m2 15h0m3-14h0m1 5h0m2 14h0m0-9h0m3 3h0m2-9h0m2 16h0m6-20h0m2 12h0m1-18h0m7 18h0m3 8h0m6-9h0m6 9h0m4-7h0m1 8h0m3-15h0m2 2h0m0-4h0m5 2h0m0 0h0m1-4h0m6-2h0m1 5h0m1-6h0m0 20h0m4-11h0m7-13h0m1 22h0m2-9h0m1-8h0m0 20h0m0-9h0m1-17h0m2 24h0m2-18h0m2 17h0m4-19h0m5 23h0m0-27h0m2 21h0m7 2h0m4 1h0m2-12h0m3 14h0m6-11h0m2 10h0m1 2h0m17-26h0m7 25h0m1-23h0m1 3h0m2-7h0m4 27h0m8-5h0m5-1h0m1-2h0m11 10h0m7-29h0m0 13h0m3 11h0m0-12h0m2-9h0m-948 54h0m86-18h0m160 6h0m45-6h0m74 2h0m7-6h0m10 15h0m1-2h0m19 1h0m6 5h0m9-19h0m6 5h0m14 4h0m7-14h0m3 29h0m12-28h0m5 1h0m6 6h0m1 1h0m0 12h0m18 2h0m11-1h0m1 5h0m12-22h0m1 0h0m7 11h0m7-1h0m5-6h0m13 5h0m1 13h0m8-21h0m0 11h0m14 4h0m10-21h0m0 23h0m2-18h0m3-4h0m5 4h0m9-2h0m1 18h0m2 2h0m13 3h0m4-24h0m3 16h0m20-5h0m10-12h0m2 7h0m9-5h0m6 8h0m2-6h0m0-5h0m13 11h0m19 9h0m5-3h0m0 2h0m3-18h0m18 0h0m2 18h0m1-8h0m5-3h0m2 4h0m2-1h0m7-6h0m3 9h0m3-2h0m12-1h0m4 10h0m1-15h0m1 14h0m4-18h0m1 22h0m2-24h0m3 14h0m1 15h0m1-20h0m4 6h0m7 13h0m1-1h0m2-26h0m2 1h0m10 3h0m3 14h0m0-3h0m2-2h0m2 15h0m2-1h0m3-22h0m11 18h0m1-6h0m1-11h0m1 20h0m2-27h0m3 7h0m0-4h0m2 5h0m1 4h0m6-8h0m1 21h0m7-24h0m9 6h0m1-1h0m4 5h0m1 7h0m3 10h0m1-1h0m1-24h0m8 15h0m12 9h0m3-24h0m9 2h0m1 3h0m6-5h0m1 13h0m0-5h0m1 18h0m1-17h0m1 15h0m3-19h0m6 19h0m6-8h0m2-14h0m1 14h0m17-19h0m2 24h0m0 5h0m1-2h0m3-15h0m0-9h0m1 16h0m-1038 31h0m52-18h0m87 10h0m96 12h0m118-18h0m87 20h0m26-11h0m20-14h0m5 17h0m1 8h0m3 0h0m5-2h0m2 0h0m11-10h0m10-11h0m4 14h0m0 0h0m8-10h0m15 3h0m1 13h0m2 2h0m2-22h0m6 12h0m1 13h0m1-3h0m1-3h0m10 0h0m1-1h0m10-2h0m4 10h0m4-29h0m11 0h0m1 9h0m5-9h0m2 17h0m2 7h0m1-11h0m4 4h0m0 3h0m4-13h0m6 18h0m2-14h0m6 0h0m0 17h0m1-28h0m16 16h0m2-1h0m5-11h0m6 0h0m8-2h0m5 16h0m1-3h0m1 6h0m8 2h0m2-8h0m5 1h0m4-4h0m7 13h0m1 3h0m10-8h0m2-18h0m2 23h0m6-17h0m2-6h0m2 24h0m17-13h0m9-11h0m1 3h0m4 9h0m6 6h0m3-15h0m14 10h0m0 10h0m1-23h0m2-1h0m2 13h0m0 8h0m11 2h0m1-23h0m2 7h0m1 10h0m1-9h0m5 19h0m1-24h0m6 25h0m5-24h0m6 17h0m0-20h0m0 26h0m0-20h0m5 17h0m3-19h0m5-6h0m0 4h0m4 15h0m1 0h0m5 3h0m2-1h0m3-13h0m9 8h0m3-6h0m1 6h0m1 0h0m13 3h0m4 4h0m2-14h0m3 0h0m4 9h0m3-2h0m0-4h0m9 2h0m1 15h0m1-16h0m2-3h0m0-10h0m1 11h0m2-1h0m1 19h0m0-20h0m1 14h0m5-15h0m2 19h0m0-20h0m1 22h0m5-14h0m4 9h0m2-16h0m1 5h0m0-11h0m5 23h0m1-2h0m1-18h0m5 4h0m3 1h0m1-10h0m3 1h0m0 5h0m0 12h0m8-4h0m3-5h0m5 18h0m1-22h0m2-2h0m1 10h0m4-6h0m3 14h0m8-8h0m3-5h0m2 14h0m2-21h0m6 8h0m3-1h0m4 0h0m2 16h0m1-11h0m0-3h0m9 5h0m5 14h0m10-20h0m2 8h0m1-4h0m2 12h0m3-20h0m1 8h0m1 4h0m3 11h0m0-4h0m-1109 12h0m43 3h0m347 11h0m81-8h0m9-12h0m3 13h0m10-4h0m41-2h0m11 22h0m3-6h0m3-19h0m2-2h0m15 5h0m3 1h0m10-2h0m4 20h0m7-17h0m10 11h0m6-6h0m6-8h0m4 7h0m0 6h0m5 5h0m5-18h0m0 2h0m2 6h0m19 11h0m8-1h0m6 2h0m3-3h0m5 0h0m11-12h0m9 4h0m4 12h0m12-19h0m5-2h0m3 14h0m1-7h0m1-10h0m8 21h0m3-13h0m21 9h0m3-13h0m2-1h0m10 0h0m0-5h0m6 28h0m1-14h0m3 3h0m2-12h0m2 8h0m1-1h0m2-4h0m3-6h0m4 2h0m1 23h0m16-6h0m9-21h0m12 11h0m1 15h0m18-22h0m5 16h0m2-11h0m2-7h0m0 21h0m5-21h0m3 7h0m7-1h0m2-3h0m6-1h0m6 13h0m1 3h0m2-19h0m1 19h0m3 7h0m0-9h0m6-10h0m2 18h0m1-19h0m4-2h0m4 22h0m2-22h0m1-1h0m5 21h0m0-10h0m1 4h0m1-16h0m1 2h0m3 10h0m5-7h0m8 13h0m3-18h0m5 14h0m1-5h0m15 6h0m8 9h0m4-7h0m3-1h0m1-5h0m7-10h0m5-1h0m1 25h0m6-11h0m0 5h0m1-6h0m4-17h0m2 19h0m3-3h0m1-16h0m3 3h0m2 9h0m3 2h0m1-8h0m0 23h0m2-20h0m2 8h0m0 3h0m1-16h0m1 1h0m0 9h0m5 14h0m5-10h0m7-14h0m2 23h0m0-1h0m2 0h0m8-23h0m4 26h0m1-9h0m0-13h0m0 0h0m3 19h0m2-26h0m15 1h0m6 22h0m4 4h0m3 2h0m2-15h0m4 14h0m2-3h0m8 0h0m10-11h0m1 0h0m2 5h0m-1077 19h0m179 6h0m91 13h0m94-6h0m51-7h0m16-14h0m6 14h0m15-1h0m3-8h0m4 19h0m31-17h0m4 9h0m1 9h0m12-13h0m1 7h0m22-11h0m5 16h0m1-11h0m14 15h0m1-22h0m1 18h0m1-24h0m1 1h0m15 16h0m2 8h0m9-21h0m6-1h0m1 10h0m4-9h0m2 24h0m9-6h0m1-11h0m9-3h0m12 0h0m17-4h0m11-1h0m4 10h0m2-3h0m2 8h0m14-4h0m9 13h0m1-7h0m7 5h0m2-13h0m6 3h0m4 6h0m20-6h0m3 7h0m7-4h0m5 6h0m1-6h0m1-3h0m2 2h0m5-1h0m0-15h0m1 0h0m6 12h0m7 9h0m35-16h0m3-5h0m1 2h0m3 20h0m4-11h0m4 8h0m2 7h0m1-3h0m0 4h0m6-12h0m3 0h0m1-2h0m0 13h0m4-18h0m2-5h0m0 22h0m3-24h0m5 9h0m4 13h0m6-19h0m9 3h0m1-3h0m0 13h0m1 10h0m1-6h0m7-9h0m2 15h0m6-17h0m3 0h0m1-8h0m1-1h0m1 20h0m7-7h0m2-3h0m1-2h0m0-3h0m15 13h0m4 5h0m0-7h0m2-11h0m2-4h0m2 24h0m0-5h0m0-8h0m6-11h0m12 16h0m13-19h0m2 26h0m16-25h0m3 17h0m8 4h0m6-8h0m0 14h0m16-24h0m1 21h0m1-18h0m1 10h0m2 3h0m1-1h0m1 3h0m2 4h0m11-24h0m0 8h0m2 5h0m9 12h0m5-10h0m1-7h0m4 8h0m1-18h0m2 2h0m1 8h0m7-1h0m6-6h0m2 22h0m5-23h0m4 9h0m1-10h0m0 3h0m2 21h0m2-25h0m2 8h0m2 4h0m4 1h0m1-5h0m0 19h0m7-15h0m5 17h0m-1050 11h0m97 15h0m12-18h0m106 10h0m157-6h0m12 16h0m14-22h0m7 20h0m4-16h0m1 4h0m5-9h0m11 19h0m12-9h0m0 11h0m4-10h0m1 11h0m18-26h0m4 27h0m0-2h0m1-2h0m15-13h0m5 11h0m8-6h0m1 10h0m15-1h0m0 5h0m1-4h0m18-14h0m11 11h0m45-12h0m6 10h0m4 1h0m1-7h0m1 6h0m10-4h0m15-1h0m2 0h0m0-8h0m8 9h0m1 5h0m5-5h0m8-8h0m8 11h0m3-15h0m11 12h0m8 0h0m14 12h0m7-1h0m4-3h0m22-20h0m1 11h0m23 13h0m3-14h0m4 5h0m2-8h0m10-10h0m10-1h0m8 26h0m4-23h0m1 17h0m1 4h0m0-20h0m1 9h0m4 11h0m0-15h0m8-3h0m4-2h0m12 4h0m14 5h0m0 7h0m10-7h0m9-7h0m2 6h0m7-5h0m13 4h0m2-2h0m0 18h0m2 0h0m3-25h0m4 0h0m1 14h0m0-5h0m3 14h0m0-2h0m6 3h0m1-25h0m5 0h0m0 9h0m4 12h0m11-20h0m2 6h0m3 3h0m1-9h0m0 5h0m0 13h0m9-10h0m11 8h0m1-12h0m2 11h0m8-1h0m11-13h0m1 0h0m1 25h0m0-27h0m4 21h0m2 2h0m2-10h0m2-8h0m1 16h0m7-4h0m1-17h0m5 28h0m4-29h0m0 14h0m7 3h0m10-16h0m1 21h0m1-19h0m2 4h0m1 4h0m12-4h0m3 19h0m8-14h0m5 17h0m12-9h0m-989 26h0m10-13h0m278 19h0m3-6h0m36 12h0m14-4h0m2 2h0m2-2h0m4-18h0m4 4h0m0-3h0m3 10h0m10 5h0m11-20h0m0 2h0m8 6h0m2-7h0m4 3h0m8-5h0m11 11h0m19 7h0m4-15h0m24 17h0m1-5h0m5-6h0m25 18h0m0-8h0m4 4h0m10-4h0m5-15h0m5 16h0m1-4h0m45 7h0m4-18h0m9 10h0m7-2h0m9 12h0m9-12h0m2 9h0m20-18h0m0 7h0m5-12h0m30 0h0m0 4h0m10-1h0m8 5h0m2-8h0m2 7h0m11 6h0m0-7h0m1 3h0m2 6h0m2 5h0m24-16h0m1-3h0m2-1h0m2 22h0m10-15h0m4 9h0m1 1h0m3-14h0m2 13h0m19-1h0m1-7h0m0 10h0m12 11h0m9-25h0m1 17h0m4 7h0m3-7h0m11-21h0m16 16h0m2-5h0m2 6h0m2-1h0m2 13h0m1-9h0m3-18h0m3 23h0m2-15h0m5 6h0m2-10h0m12 4h0m2 0h0m8 1h0m5-1h0m5 13h0m0-12h0m0-2h0m2 14h0m1-23h0m10 1h0m13 17h0m0-13h0m6 2h0m2 20h0m4-10h0m1 6h0m1-22h0m4 11h0m4 15h0m9-3h0m2-6h0m0-12h0m9-1h0m2 8h0m19 15h0m6-24h0m2 12h0m4-2h0m7 10h0m2-18h0m13 18h0m-956 15h0m135 11h0m16-3h0m122 12h0m0-29h0m6 9h0m11 20h0m4-23h0m1 21h0m1 2h0m1-15h0m6-13h0m3 4h0m5-3h0m2 26h0m15-24h0m4 6h0m4 18h0m1 1h0m1-19h0m1 7h0m8-8h0m1 1h0m1-2h0m1-3h0m1 5h0m2 8h0m2-2h0m4 0h0m1 1h0m6-12h0m8 13h0m1-2h0m2 5h0m2 5h0m3-5h0m4-13h0m4 1h0m9 15h0m4-9h0m1 14h0m47-6h0m21-7h0m2-15h0m11 20h0m0 3h0m0 1h0m1-24h0m8 6h0m0 22h0m4-24h0m21-2h0m7-1h0m2 26h0m14-12h0m7 6h0m15 6h0m7-22h0m1-3h0m31 1h0m2 8h0m7-8h0m4 23h0m16-6h0m8-21h0m16 20h0m2 1h0m6-5h0m1 13h0m2-21h0m9 11h0m9 3h0m5-18h0m4 25h0m1-28h0m1 19h0m1 7h0m5-17h0m2 13h0m3 1h0m3-18h0m0 17h0m1-9h0m1-9h0m2 16h0m7-13h0m9 9h0m2 6h0m8-19h0m1 16h0m2 9h0m1-12h0m1-9h0m9 5h0m2 5h0m1 10h0m10-18h0m3 10h0m2-4h0m0-16h0m21 15h0m9-9h0m0-1h0m3 1h0m2 4h0m1-7h0m0-2h0m2 9h0m1 8h0m1 10h0m5-22h0m1 14h0m0-2h0m1-7h0m2 9h0m1-14h0m3 11h0m1-16h0m8 6h0m0 11h0m0-15h0m1 14h0m1-13h0m7 20h0m10-21h0m1 18h0m6-11h0m0 19h0m4-20h0m1 12h0m0 8h0m1-19h0m8 7h0m4-10h0m7-5h0m0 6h0m1 7h0m1 4h0m1-13h0m6 16h0m1-11h0m8 0h0m2-3h0m1 5h0m2 13h0m6-21h0m0 2h0m6 14h0m0-19h0m2 26h0m6-3h0m5-24h0m1 17h0m3 2h0m4-5h0m2-11h0m3 12h0m1 8h0m5-22h0m-874 54h0m117-13h0m28 3h0m20-8h0m18 20h0m10-9h0m15 1h0m10-16h0m3 0h0m5-3h0m1 7h0m8 13h0m1-11h0m1-6h0m8 21h0m4-23h0m11 10h0m0 16h0m3-14h0m3-6h0m3-3h0m10 23h0m3-27h0m3 27h0m10-16h0m3 16h0m5-9h0m1-1h0m13-5h0m5-3h0m4-10h0m7 4h0m3 19h0m3-12h0m1 5h0m7 3h0m5 9h0m6-23h0m7 10h0m2 8h0m30 6h0m0 0h0m3-3h0m19-9h0m3-14h0m3 5h0m0-5h0m5 24h0m7-10h0m17-5h0m21-5h0m0-4h0m3-2h0m6 14h0m1-6h0m4 13h0m16 3h0m16-21h0m4 8h0m57-4h0m3-4h0m5 4h0m1 5h0m8 5h0m4-6h0m2 2h0m7 15h0m1-27h0m2 18h0m17-9h0m1-9h0m4 18h0m0-15h0m5 1h0m5 23h0m6-1h0m12-20h0m5 16h0m1-11h0m2 13h0m1-1h0m1-1h0m2 3h0m4-19h0m3-5h0m7 22h0m5-4h0m6 4h0m1-6h0m2-10h0m3 20h0m3-2h0m8-12h0m2-6h0m4 16h0m18-17h0m3-6h0m1 24h0m5-12h0m6 4h0m10 10h0m6-26h0m4 16h0m0-4h0m3-5h0m0 7h0m4 12h0m4-19h0m17 18h0m0-23h0m3 5h0m3 14h0m1 6h0m3-25h0m1 24h0m2-10h0m1-11h0m0 14h0m2 3h0m7-2h0m1-16h0m8 1h0m4 7h0m1 7h0m1-18h0m5 8h0m2 2h0m4-2h0m0-4h0m6 5h0m1-3h0m1 4h0m1-9h0m0 25h0m8-28h0m5 24h0m-1049 15h0m84 5h0m6 3h0m10 7h0m50-11h0m134-11h0m55 14h0m13 6h0m2-23h0m3 21h0m8-14h0m8 16h0m9 3h0m1-25h0m17 4h0m4 22h0m6-19h0m21 12h0m9 2h0m4-1h0m10 7h0m30-12h0m3 10h0m0-19h0m1-7h0m4 23h0m1-8h0m11 13h0m3-10h0m3 4h0m1-21h0m1-1h0m4 22h0m3-21h0m1 20h0m6 0h0m14-14h0m0 11h0m5 4h0m2-16h0m5 1h0m15-4h0m1 14h0m6 10h0m6-6h0m3-19h0m12 12h0m6-14h0m0 13h0m1 1h0m14 15h0m9-19h0m10 19h0m9-20h0m2 18h0m10-23h0m21 16h0m16 8h0m19-17h0m2-10h0m30 4h0m13 8h0m6-5h0m1-1h0m4 5h0m3-7h0m2 15h0m0 6h0m5 3h0m2-8h0m1-13h0m14 15h0m4-23h0m6 3h0m9-2h0m2 0h0m5 9h0m2 16h0m2-14h0m2 2h0m0 5h0m1-18h0m2 0h0m2 2h0m11 23h0m2-18h0m2 16h0m0-1h0m5-21h0m5 12h0m2-13h0m9 20h0m4 8h0m0 0h0m9-8h0m8-4h0m10-1h0m8 10h0m3-2h0m2-3h0m2-14h0m10-3h0m6 6h0m3-8h0m2 26h0m2-22h0m24 22h0m0-23h0m2 23h0m13-25h0m1 19h0m4-9h0m1 12h0m1 3h0m14-5h0m0 2h0m6 2h0m1-1h0m0 1h0m7-23h0m5-4h0m1 29h0m6-13h0m2 3h0m1-10h0m11 3h0m1 11h0m9-6h0m1-2h0m13-6h0m0-2h0m0 11h0m-1174 32h0m352 7h0m98-25h0m3 19h0m23-1h0m11-10h0m0 5h0m4-11h0m4 24h0m11-11h0m10-13h0m2 15h0m3 0h0m6-7h0m4 0h0m0-12h0m2 0h0m2 27h0m1-16h0m13 16h0m15-9h0m3 10h0m3-25h0m1 18h0m3-8h0m3 10h0m7-19h0m1 15h0m6-1h0m2-2h0m4-14h0m5 25h0m4-7h0m3-12h0m0 6h0m4 11h0m1-12h0m7 4h0m7-3h0m8 15h0m9-25h0m3 12h0m5-3h0m1 15h0m21-16h0m2 3h0m3-11h0m1 21h0m15-24h0m2 7h0m1 18h0m1-12h0m5-2h0m2-8h0m2-3h0m5 26h0m1-4h0m61-10h0m1-5h0m9-4h0m27 24h0m24-28h0m2 24h0m0-8h0m1-2h0m3-9h0m11 5h0m4-5h0m21 19h0m3-5h0m3 6h0m1-15h0m3 9h0m2-2h0m0 5h0m4-18h0m1 10h0m8-4h0m4-5h0m12-2h0m2 14h0m4-13h0m0 15h0m1-9h0m1 18h0m5-4h0m3-11h0m7 4h0m0 3h0m8-3h0m10-7h0m3-7h0m2 24h0m5-14h0m3-2h0m4 18h0m1-27h0m1 6h0m1 20h0m4-7h0m2 4h0m2-9h0m10-7h0m2 9h0m1-7h0m7 11h0m1-13h0m3 18h0m6-3h0m4-6h0m3 1h0m4 3h0m2-7h0m5-11h0m7 6h0m6-9h0m1 2h0m1 3h0m1 19h0m1-18h0m2-6h0m5 4h0m8 6h0m2-11h0m1 16h0m2-7h0m2 10h0m1 4h0m5-9h0m11-14h0m1 3h0m1 3h0m5-2h0m2 10h0m6 2h0m2-8h0m0 11h0m5-12h0m1 20h0m5-27h0m0 5h0m1 7h0m17 5h0m0 5h0m1-10h0m4-11h0m3 20h0m0 6h0m0-10h0m3-6h0m4-6h0m12 0h0m2 10h0m3 5h0m2 2h0m6-4h0m3-6h0m-1041 32h0m290 0h0m10-11h0m2 14h0m6-12h0m19 2h0m8 11h0m14-17h0m4 12h0m2 2h0m2 10h0m10-18h0m7 16h0m2-6h0m4 0h0m3-9h0m26-7h0m6 28h0m4-15h0m1 14h0m3-24h0m2 24h0m2-1h0m14-2h0m21 4h0m6-17h0m8-4h0m3 3h0m2 2h0m3 7h0m1 1h0m11-11h0m10 13h0m2-17h0m3 4h0m4 12h0m5-18h0m3-2h0m5 10h0m6 8h0m5 7h0m6-17h0m4 4h0m3 4h0m3-9h0m2-9h0m11 4h0m8-2h0m5 13h0m29 0h0m9 10h0m16-5h0m19 5h0m4-10h0m6-8h0m8 3h0m18 5h0m8-15h0m2 27h0m3 2h0m1-13h0m2 8h0m7-10h0m4 15h0m1-25h0m1 9h0m4-6h0m9 13h0m8-3h0m5 3h0m3-14h0m2 16h0m1-4h0m9-16h0m6 1h0m1 0h0m0 6h0m3 7h0m5 11h0m0 2h0m1-18h0m2-7h0m2 0h0m1-1h0m21-3h0m1 15h0m2-15h0m1 27h0m1-10h0m3-1h0m2 5h0m0 0h0m7-9h0m1 14h0m4-8h0m4 2h0m1 4h0m0 2h0m1 2h0m1-23h0m2 24h0m1-24h0m1 3h0m3 15h0m1-3h0m4-6h0m5 4h0m3-11h0m6 1h0m3-5h0m5 21h0m3 5h0m1-25h0m1 5h0m0 10h0m0 9h0m17-24h0m14 3h0m2 6h0m3 11h0m3-19h0m1 0h0m1 22h0m5-4h0m1 3h0m4-24h0m3 1h0m3 14h0m1-17h0m1 1h0m1 23h0m3-2h0m3-6h0m10-16h0m1 21h0m9-9h0m15 3h0m3-9h0m6 5h0m1 3h0m3 9h0m5-11h0m1-5h0m0-5h0m4 25h0m1-13h0m4-9h0m4 21h0m2-1h0m4-24h0m7 25h0m12 2h0m3-7h0m2-5h0m4 6h0m7-18h0m1 19h0m-768 30h0m34-9h0m24 14h0m1-21h0m4 12h0m15 3h0m13-12h0m18 18h0m2-19h0m2-5h0m2 14h0m7-17h0m13 18h0m1-13h0m2-1h0m17 24h0m6-11h0m2-6h0m4 6h0m15-14h0m1 14h0m7-1h0m31 6h0m1-20h0m1 19h0m4-8h0m18 9h0m0-10h0m1-7h0m7 18h0m27-10h0m6 7h0m7-13h0m9-6h0m6 14h0m1 12h0m4-15h0m15-4h0m1-2h0m7 16h0m14 3h0m10-2h0m16 4h0m22 0h0m9-2h0m9-2h0m14-16h0m5 14h0m1-18h0m2 0h0m1 24h0m1 0h0m11-22h0m0-2h0m4 3h0m4 1h0m1 14h0m2-11h0m2-5h0m0 14h0m3-6h0m1 10h0m0 1h0m1-10h0m1-14h0m6 24h0m3-14h0m3-10h0m4 7h0m4 13h0m1-15h0m10 20h0m1-26h0m2 29h0m8-25h0m10 18h0m0-22h0m3 20h0m5-20h0m6 1h0m4 28h0m7 0h0m3-29h0m2 22h0m0-22h0m12 8h0m8 21h0m1-21h0m0 16h0m0-12h0m0-2h0m4 17h0m4-5h0m3-22h0m2 18h0m6 5h0m0 3h0m14-20h0m1 1h0m2-6h0m2 2h0m5 13h0m1 12h0m9-27h0m3 23h0m2-10h0m4 0h0m6 14h0m7-18h0m2 15h0m2-6h0m3-12h0m0-3h0m3 24h0m5-3h0m3-16h0m4-8h0m6 26h0m16-2h0m1-1h0m3-18h0m0 4h0m8 0h0m7 6h0m11 3h0m2-16h0m2 25h0m2-14h0m2 11h0m1-11h0m4 14h0m3-6h0m8-16h0m4 16h0m4-5h0m4-17h0m4 21h0m1-4h0m0-1h0m9-2h0m-1047 17h0m80 4h0m198-1h0m18 8h0m1 6h0m11 3h0m0-5h0m5-8h0m14-3h0m4 7h0m6-3h0m1 18h0m2-2h0m1-14h0m4-3h0m2 7h0m1 12h0m10-15h0m0-4h0m5-7h0m4 0h0m3 11h0m5-11h0m7 23h0m2-3h0m8-3h0m1-11h0m5-7h0m10 14h0m3-9h0m9 17h0m2-22h0m6 29h0m1-3h0m2-3h0m1-22h0m6-1h0m10 24h0m7-11h0m5 3h0m6 1h0m20-14h0m8 12h0m3-4h0m6 1h0m2-3h0m9 14h0m2 1h0m7-3h0m8-9h0m3 15h0m6-19h0m6 1h0m4 4h0m9 3h0m0 1h0m4 8h0m3-10h0m2-2h0m6 10h0m4-12h0m2 12h0m9 2h0m1-14h0m7 11h0m21-6h0m2 8h0m1-19h0m13 19h0m19-5h0m26 1h0m3-19h0m36 11h0m6 9h0m2-17h0m3 7h0m0 1h0m3-4h0m5 20h0m4-4h0m1-23h0m5 28h0m4-18h0m2 5h0m16-2h0m8-1h0m15-7h0m8 13h0m0-14h0m4 7h0m8 7h0m7-15h0m4 0h0m12 25h0m0-29h0m1 8h0m2 10h0m6-3h0m2-12h0m3 12h0m3 8h0m0 0h0m2-17h0m3 4h0m3 10h0m6-10h0m4 10h0m11-14h0m7 22h0m1-4h0m5-13h0m1 6h0m0-3h0m4-12h0m3 6h0m3 3h0m2 11h0m1-21h0m3 19h0m7-1h0m1-14h0m7 20h0m2-22h0m3 3h0m1 23h0m0-6h0m0-11h0m3-12h0m5 26h0m3-26h0m4 24h0m5-3h0m10-1h0m5-6h0m0 13h0m4-15h0m1-3h0m1 12h0m1-5h0m4-16h0m16 11h0m2 1h0m6-9h0m4-2h0m3 3h0m6 12h0m4 8h0m7-12h0m2 6h0m6 9h0m9-11h0m3-12h0m-1113 51h0m139-23h0m19 9h0m55-9h0m59 17h0m19-14h0m50 24h0m7-19h0m22 6h0m10-1h0m2 1h0m0 1h0m9-15h0m10 12h0m12 12h0m1-3h0m7-15h0m23 0h0m10 18h0m1-4h0m1-20h0m1 18h0m4-7h0m12-9h0m6 6h0m16 3h0m15-2h0m2 11h0m11-3h0m9-11h0m9-2h0m3 10h0m15 11h0m4 1h0m5-6h0m9-17h0m2 4h0m4 5h0m2-7h0m2-6h0m5 8h0m1 2h0m1-1h0m0 7h0m12-12h0m1 24h0m5-27h0m9 14h0m1 0h0m4-7h0m2-1h0m21 4h0m12-9h0m5 14h0m5-14h0m9 21h0m7 0h0m16-23h0m5 1h0m8 9h0m8 12h0m3 6h0m4-13h0m9 1h0m13-1h0m11-2h0m1 9h0m9-16h0m6 20h0m1-22h0m0 20h0m10-18h0m8 12h0m3-14h0m3 10h0m2 2h0m4-13h0m1-3h0m0 21h0m1 0h0m0-21h0m5 23h0m1-13h0m12 11h0m1-2h0m5 0h0m3-16h0m2-2h0m12 26h0m5 0h0m1-8h0m3 3h0m2-14h0m1 12h0m0 4h0m3-10h0m12-8h0m6 10h0m8-1h0m4 9h0m0 0h0m1-12h0m11-11h0m4 2h0m0 10h0m5-8h0m4 23h0m7 0h0m1-14h0m1-9h0m6 19h0m1 1h0m5-2h0m2-5h0m3-13h0m2-5h0m1 6h0m5 17h0m1-17h0m0-1h0m5 22h0m2-23h0m17 5h0m2 17h0m1-26h0m1 24h0m20-14h0m8 10h0m3-15h0m5 20h0m23-19h0m9 20h0m5-6h0m4-14h0m0-7h0m8 25h0m1-2h0m2 1h0m16-18h0m2 17h0m5-8h0m2 0h0m1 8h0m1-18h0m8 3h0m6 5h0m-1216 35h0m45-16h0m40 5h0m60 11h0m107 11h0m87-26h0m22 1h0m74 11h0m27-5h0m3 13h0m2-21h0m3 13h0m4 6h0m8-11h0m0-10h0m1 14h0m10-6h0m3 3h0m3-8h0m1 20h0m3 4h0m3-14h0m2 1h0m9-5h0m12 1h0m0 3h0m1 13h0m2-17h0m1 10h0m9-4h0m10 9h0m4-2h0m2-1h0m4-10h0m6 13h0m14-13h0m2 17h0m1 0h0m1-19h0m5 10h0m0 0h0m3-3h0m5-7h0m4-8h0m7 15h0m8-8h0m0 4h0m9 6h0m2-16h0m3 15h0m11 12h0m1-23h0m3 20h0m5-10h0m18-5h0m0-1h0m2 7h0m1 5h0m6 7h0m10-25h0m1 7h0m11 16h0m1-4h0m5-9h0m9 9h0m3-10h0m9-2h0m1 18h0m4-12h0m9 2h0m7-7h0m14 5h0m10 6h0m1-5h0m16-18h0m5 9h0m4-4h0m5 14h0m37 2h0m2-5h0m1-10h0m3 1h0m7 15h0m1-3h0m6 5h0m8-20h0m3 23h0m17-13h0m6 4h0m4-17h0m6 12h0m3-9h0m4-1h0m6 2h0m6 23h0m1-18h0m12-3h0m3 10h0m2-14h0m5 25h0m12-1h0m0-2h0m2 4h0m1-8h0m18-13h0m1 2h0m0 8h0m5-1h0m1 1h0m4-6h0m4 6h0m0-5h0m5 15h0m4-27h0m0 5h0m7 6h0m2 7h0m7 7h0m0-25h0m11 0h0m4 7h0m6 8h0m1-15h0m9 20h0m1-19h0m0 15h0m6-8h0m1-8h0m4 10h0m5 11h0m2-17h0m2 23h0m5-19h0m0 5h0m2 13h0m3 2h0m3-28h0m7 22h0m8-9h0m1-6h0m12 16h0m3-12h0m5 9h0m0-6h0m12 8h0m0-15h0m2 13h0m1 0h0m2 3h0m0-17h0m1 20h0m11-24h0m2 12h0m3 5h0m3-15h0m2 1h0m6-4h0m5 2h0m4 14h0m0-9h0m4 8h0m4 3h0m3 3h0m5-3h0m8-15h0m3 7h0m2 3h0m6-3h0m1 8h0m3 1h0m1-8h0m-1210 19h0m115 17h0m198-2h0m96-15h0m79 16h0m21-9h0m2 1h0m15 5h0m9 13h0m1-13h0m4 8h0m3 5h0m1-12h0m22 12h0m4-9h0m1 10h0m7-25h0m15-1h0m0 11h0m11 1h0m1 13h0m1-27h0m9 26h0m2 0h0m19-7h0m7-7h0m4 11h0m6 0h0m13-2h0m3 7h0m6-24h0m7 16h0m1-5h0m3 5h0m8-12h0m8-6h0m6 13h0m3-9h0m2-7h0m2 1h0m6 22h0m13-2h0m4 1h0m0-18h0m9 7h0m1-3h0m9 5h0m4 0h0m5 16h0m30-15h0m0 8h0m5-3h0m3-1h0m1 3h0m4-11h0m12 11h0m8 7h0m26-16h0m0-10h0m0 24h0m10-17h0m3-1h0m4-7h0m0 24h0m0-18h0m5 20h0m0-2h0m3-7h0m21-13h0m3 8h0m2 16h0m2-23h0m1-6h0m1 26h0m3-8h0m1-12h0m0 17h0m4-8h0m2-1h0m2-1h0m6-2h0m1 10h0m0-8h0m4-13h0m0 19h0m2-17h0m5 12h0m0 3h0m1 8h0m7-18h0m3 21h0m0-5h0m7 5h0m1 1h0m4-27h0m4 8h0m10-1h0m1 17h0m1-11h0m2-6h0m7 3h0m2 1h0m3-6h0m1 22h0m2-3h0m0 3h0m3-1h0m0-15h0m3 8h0m10-16h0m2 24h0m1-10h0m3 3h0m0-5h0m4 5h0m1-15h0m5 9h0m1-8h0m8-6h0m1 18h0m1 7h0m0 1h0m1-16h0m10 9h0m1-14h0m3 0h0m0 15h0m1 7h0m1-6h0m0-6h0m1-9h0m2 13h0m3 8h0m14-22h0m3 11h0m2 5h0m3 6h0m1-10h0m20 2h0m1-17h0m9-3h0m8-1h0m1 17h0m3-7h0m9 0h0m4 17h0m3-1h0m0-10h0m4-16h0m3 14h0m1 11h0m0 3h0m5-22h0m5-5h0m3 10h0m6 1h0m1 13h0m2-22h0m2 18h0m13-8h0m0 3h0m9-8h0m0 19h0m13-15h0m-1126 33h0m56 10h0m52-18h0m48-6h0m243 17h0m28-18h0m11 12h0m12-4h0m1 7h0m5-1h0m0-8h0m6 11h0m16-14h0m2 7h0m3 5h0m6 0h0m0-7h0m2 19h0m6-25h0m24 27h0m1-29h0m1 1h0m17 9h0m5-4h0m10 18h0m1-19h0m7 5h0m13 17h0m0-4h0m6-16h0m22 1h0m8 1h0m1 8h0m3 4h0m7-19h0m0 22h0m4-21h0m11 9h0m1 16h0m2-17h0m3 10h0m4-9h0m6-11h0m11-1h0m2 21h0m0 1h0m7-3h0m3-2h0m0 10h0m10-21h0m3 4h0m3 17h0m2 0h0m1-12h0m1-4h0m1 8h0m0-13h0m6-4h0m7 22h0m24-9h0m22-4h0m9-5h0m0 4h0m7-10h0m9 28h0m6-24h0m1 4h0m2 14h0m1-7h0m1-6h0m1 15h0m3-5h0m1-3h0m7-8h0m0 8h0m1-8h0m4 4h0m8-5h0m0-6h0m6 22h0m2 4h0m0-2h0m0-3h0m1 5h0m1-17h0m5 10h0m2 3h0m0-5h0m0 9h0m3 2h0m1-18h0m6 10h0m3-11h0m14-10h0m0 26h0m3-13h0m2 0h0m2-9h0m2 7h0m7-6h0m9-4h0m4 15h0m5 13h0m2-25h0m2 19h0m5-16h0m6 2h0m0 15h0m13-1h0m0-8h0m2 8h0m0 4h0m1-7h0m3-14h0m1 5h0m4 11h0m1 5h0m1-14h0m4-4h0m1 18h0m1-14h0m7-11h0m4 26h0m3-28h0m1 16h0m8 6h0m2-6h0m4 1h0m2-5h0m0-4h0m0 16h0m7-22h0m10 23h0m1-13h0m2 12h0m1-16h0m11-8h0m3 1h0m2 17h0m1 2h0m0 2h0m2-7h0m1 7h0m5-19h0m6 17h0m3-5h0m0-1h0m2 6h0m1-11h0m12 10h0m2-9h0m2 1h0m2-6h0m0-4h0m5 17h0m2 1h0m2-4h0m3-14h0m11 28h0m2-6h0m2 5h0m1-23h0m11-3h0m3 7h0m13-4h0m5 21h0m2-7h0m1-6h0m9 8h0m2-2h0m1-7h0m-1161 47h0m136-22h0m94 4h0m176-1h0m14 15h0m9-25h0m22 26h0m4-8h0m20 0h0m2-4h0m5-13h0m2 6h0m1 8h0m1 5h0m1 0h0m3 6h0m2-23h0m0 14h0m4 3h0m1-16h0m4 22h0m6-15h0m1 13h0m7-18h0m12 9h0m10 3h0m3-12h0m5 21h0m6 1h0m0-1h0m0-9h0m6 11h0m3-22h0m5 7h0m15-8h0m7 8h0m2-10h0m10 2h0m15 13h0m2 10h0m19-3h0m6-19h0m0 8h0m1 2h0m4-4h0m18 14h0m5-15h0m4 8h0m8-18h0m14 7h0m8 7h0m4-10h0m0 16h0m7-3h0m5 0h0m4 3h0m2 6h0m18-1h0m5-9h0m10 6h0m1-15h0m0-9h0m17 12h0m3 12h0m13-18h0m0 12h0m1-1h0m5-3h0m15-10h0m4 10h0m4-8h0m12-3h0m12 4h0m17 3h0m2 0h0m4-4h0m2 1h0m2 1h0m0-6h0m0 8h0m3-1h0m5-5h0m16 4h0m20 15h0m3-19h0m3 16h0m2-16h0m3-4h0m0 6h0m3 7h0m1-10h0m7-3h0m1 28h0m5-20h0m1 1h0m2-1h0m6-5h0m1 20h0m3-12h0m1 10h0m0 7h0m9-22h0m2 17h0m4 2h0m3-22h0m1 20h0m3-21h0m27 2h0m1 13h0m9 12h0m3-9h0m0-11h0m7 17h0m0-14h0m0 10h0m3-7h0m0-14h0m2 27h0m9-24h0m0 16h0m1 4h0m2 0h0m0-10h0m14-9h0m1 18h0m3-19h0m3 23h0m6 0h0m22-20h0m1-3h0m3 21h0m2 4h0m3-14h0m0-4h0m1 9h0m7-2h0m0 4h0m7-5h0m4-17h0m2 27h0m0-5h0m12 4h0m5-25h0m4 1h0m2 17h0m1 7h0m8-22h0m3 24h0m3-8h0m1 3h0m-1196 18h0m42 1h0m85 16h0m51 1h0m119-4h0m38-3h0m92-12h0m6 11h0m0-21h0m7 19h0m1-4h0m22 7h0m28-3h0m2-6h0m3 3h0m15 8h0m2-20h0m10 18h0m1-9h0m5 2h0m0-5h0m1 5h0m2 5h0m2-17h0m1 14h0m5-16h0m6 2h0m16 24h0m3-17h0m6-5h0m1 11h0m11-10h0m3 19h0m7-5h0m4-13h0m12 8h0m1 1h0m1 10h0m1-26h0m1 8h0m1-1h0m7 6h0m3-2h0m0 2h0m4-1h0m1-10h0m4 0h0m12 21h0m0-12h0m2 11h0m8-1h0m8-1h0m1-1h0m9 5h0m1-14h0m8 1h0m0-3h0m18-8h0m13 12h0m5 17h0m10-29h0m7 21h0m4-9h0m12-5h0m10 1h0m28-7h0m175 3h0m13 2h0m1-6h0m7 16h0m2-10h0m1 6h0m1 10h0m13 6h0m0-6h0m2-20h0m5 2h0m4 10h0m3 0h0m6 15h0m1-27h0m5 3h0m1 16h0m4 5h0m6-23h0m3-2h0m1 25h0m5-5h0m2-18h0m4 2h0m20 12h0m10 10h0m0-16h0m1 3h0m2-7h0m5 14h0m3-5h0m1 7h0m3 1h0m1-2h0m3 4h0m9 3h0m4-6h0m9-12h0m2-10h0m0 4h0m6 0h0m1-1h0m2 8h0m2 8h0m5 7h0m3-4h0m2-21h0m7 15h0m2 11h0m1 0h0m2-28h0m1 7h0m10 8h0m4-7h0m2-2h0m3-2h0m0 1h0m1 24h0m8-23h0m1 18h0m1 2h0m2-21h0m2-4h0m0 1h0m-1089 51h0m57-16h0m109-2h0m8 3h0m33 3h0m115-6h0m7 19h0m6-9h0m7 12h0m20-23h0m1 11h0m4-1h0m7-9h0m9 9h0m12 4h0m1 7h0m3-1h0m2-22h0m3 5h0m3 8h0m11 7h0m4-17h0m4 20h0m0-3h0m2-3h0m1-6h0m7-5h0m3 7h0m7 4h0m4-19h0m0 7h0m1 9h0m17-5h0m1 18h0m2-21h0m0-7h0m19 6h0m1 20h0m0-7h0m36-19h0m2 26h0m0-2h0m3-17h0m6-7h0m5 12h0m3 9h0m14-1h0m23-16h0m22-2h0m298 15h0m3-1h0m7-12h0m5 5h0m1 10h0m5-19h0m4 6h0m0-2h0m1 4h0m9 2h0m0 3h0m3 10h0m8-15h0m1-8h0m2 10h0m1-9h0m2 16h0m2 3h0m16-8h0m2 2h0m1-5h0m2-10h0m1 29h0m1-28h0m6 0h0m3 16h0m2 10h0m2 1h0m1-14h0m4-7h0m9 17h0m6 5h0m2-20h0m6 11h0m0 4h0m2 1h0m20-17h0m2 6h0m1 2h0m12-2h0m9-14h0m6 27h0m1-10h0m-954 30h0m191-16h0m5 15h0m32-3h0m42-3h0m9 3h0m2-9h0m5 12h0m0 9h0m6-7h0m0-2h0m4 11h0m0-23h0m11 20h0m21-15h0m1 7h0m2 3h0m1-14h0m0-5h0m8 2h0m2 17h0m5 7h0m10-15h0m8 9h0m5-3h0m1-15h0m417 2h0m2-2h0m4 18h0m7-2h0m3 3h0m1-4h0m2-17h0m1 18h0m4 3h0m12-2h0m9-13h0m2 23h0m1-26h0m0 25h0m1 1h0m4-11h0m3-9h0m2-8h0m1 7h0m0 0h0m2 16h0m0-18h0m3 22h0m7-19h0m1 19h0m3-27h0m3 9h0m3 9h0m1 0h0m6 8h0m3-1h0m1-8h0m8-2h0m4 5h0m6-12h0m2 4h0m3-4h0m2 19h0m6-15h0m2 8h0m6-8h0m3 15h0m2-5h0m5 4h0m4-10h0m17-9h0m0-8h0m1 26h0m5-7h0m4-10h0m2 0h0m-997 47h0m13 0h0m38-24h0m127 16h0m11 6h0m56-24h0m30 20h0m16-18h0m1 21h0m3-13h0m30-2h0m13-3h0m20-2h0m4 2h0m464 15h0m4-11h0m1 1h0m0 12h0m1-20h0m5 19h0m3-21h0m1 13h0m4 7h0m0-8h0m7-10h0m1 27h0m2-2h0m12-16h0m3 0h0m10 18h0m2-24h0m1 13h0m3-7h0m4-4h0m0-1h0m0 4h0m4-4h0m4 16h0m3 7h0m3-17h0m4 8h0m0-15h0m5-2h0m1 10h0m4 16h0m4 0h0m0-24h0m1-3h0m7 16h0m4 9h0m10-15h0m3 16h0m1-6h0m3 0h0m7-17h0m7 22h0m7-18h0m2-9h0m3 17h0m0-12h0m8 12h0m1-13h0m1 8h0m-1118 39h0m306 8h0m4-15h0m100-14h0m11 0h0m547 17h0m3-9h0m4 12h0m2-2h0m8-15h0m1 22h0m6-5h0m6-4h0m1-13h0m1 20h0m1-8h0m2 1h0m0-9h0m1-1h0m2 8h0m1-10h0m2 8h0m2-12h0m2 23h0m2-14h0m1 13h0m3 3h0m4-15h0m3-3h0m5-6h0m6 21h0m2-14h0m1 21h0m1-24h0m3-1h0m7 14h0m10 3h0m2 0h0m13 6h0m4-20h0m2 15h0m1-17h0m2 8h0m8-3h0m3 5h0m2 9h0m14-3h0m1-7h0m2-7h0m-986 26h0m161 6h0m71 4h0m621-7h0m2 7h0m23 6h0m5-18h0m5 13h0m1-2h0m9 10h0m1-20h0m5 27h0m0-2h0m4-17h0m5 18h0m8-24h0m5 17h0m2 0h0m2 2h0m2-12h0m1-8h0m3 15h0m6-11h0m1 7h0m8-4h0m11-2h0m5-8h0m4 28h0m1-3h0m1-15h0m0-3h0m0 5h0m2-1h0m6-1h0m-996 46h0m877-25h0m10 1h0m2 19h0m2-5h0m1 9h0m1 2h0m1-2h0m13-2h0m1-12h0m2-9h0m0 2h0m1 0h0m0-2h0m4 15h0m8-2h0m0 10h0m0-8h0m7-8h0m4-2h0m1 18h0m1-23h0m6 3h0m7-4h0m0-1h0m2 1h0m5 20h0m2-12h0m3-2h0m0 1h0m2-8h0m1 25h0m2-4h0m5-19h0m1 25h0m3-24h0m1 10h0m12-11h0m0 9h0m2-3h0m-955 27h0m86 19h0m91-17h0m695 0h0m1-1h0m10 17h0m5-6h0m1 12h0m11-28h0m4 28h0m1-27h0m2 22h0m0-3h0m8-1h0m0-18h0m0 26h0m3-7h0m3-2h0m7-2h0m1-10h0m8-5h0m-904 55h0m50-13h0m813-6h0m3 6h0m1-3h0m0-9h0m2 14h0m2-13h0m6 3h0m8 1h0m-969 29h0m56 22h0m16 6h0m24 11h0m-33 23h0" stroke="#ef6f68" stroke-width="12" stroke-linecap="round" fill="none"/>
<text x="542.3" y="50.3" font-size="6.6" fill="#222">TAM</text>
<text x="610.5" y="145.5" font-size="6.6" fill="#222">MDSCs</text>
<text x="1" y="238" font-size="13" font-weight="bold" fill="#1a1a1a">f</text>
<text x="119" y="244.1" font-size="9.2" text-anchor="middle">Myeloid cells</text>
<line x1="45.5" y1="251.9" x2="45.5" y2="421.6" stroke="#222" stroke-width="1"/>
<line x1="45" y1="421.1" x2="185.1" y2="421.1" stroke="#222" stroke-width="1"/>
<line x1="43.1" y1="298.2" x2="45.5" y2="298.2" stroke="#222" stroke-width="0.9"/>
<text x="40.8" y="301.5" font-size="9.2" text-anchor="end">TAM</text>
<circle cx="51.6" cy="298.2" r="3.6" fill="#e4581e"/>
<circle cx="62.1" cy="298.2" r="5.1" fill="#e4581e"/>
<circle cx="72.7" cy="298.2" r="5.1" fill="#e4581e"/>
<circle cx="83.2" cy="298.2" r="1.5" fill="#e4581e"/>
<circle cx="93.7" cy="298.2" r="0.8" fill="#f4f7a8"/>
<circle cx="104.2" cy="298.2" r="2.7" fill="#f4f7a8"/>
<circle cx="114.8" cy="298.2" r="0.6" fill="#f4f7a8"/>
<circle cx="125.3" cy="298.2" r="0.5" fill="#f4f7a8"/>
<circle cx="135.8" cy="298.2" r="0.6" fill="#f4f7a8"/>
<circle cx="146.3" cy="298.2" r="2.5" fill="#e4581e"/>
<circle cx="156.8" cy="298.2" r="0.9" fill="#e4581e"/>
<circle cx="167.4" cy="298.2" r="0.8" fill="#e4581e"/>
<circle cx="177.9" cy="298.2" r="4" fill="#e4581e"/>
<line x1="43.1" y1="375.2" x2="45.5" y2="375.2" stroke="#222" stroke-width="0.9"/>
<text x="40.8" y="378.5" font-size="9.2" text-anchor="end">MDSCs</text>
<circle cx="51.6" cy="375.2" r="1.1" fill="#f4f7a8"/>
<circle cx="62.1" cy="375.2" r="4.4" fill="#f4f7a8"/>
<circle cx="72.7" cy="375.2" r="3.7" fill="#f4f7a8"/>
<circle cx="83.2" cy="375.2" r="0.9" fill="#f4f7a8"/>
<circle cx="93.7" cy="375.2" r="1.5" fill="#e4581e"/>
<circle cx="104.2" cy="375.2" r="2.8" fill="#e4581e"/>
<circle cx="114.8" cy="375.2" r="2.1" fill="#e4581e"/>
<circle cx="125.3" cy="375.2" r="0.8" fill="#e6682c"/>
<circle cx="135.8" cy="375.2" r="1.1" fill="#e4581e"/>
<circle cx="146.3" cy="375.2" r="0.9" fill="#f4f7a8"/>
<circle cx="156.8" cy="375.2" r="0.7" fill="#f4f7a8"/>
<circle cx="167.4" cy="375.2" r="0.7" fill="#f4f7a8"/>
<circle cx="177.9" cy="375.2" r="1.7" fill="#f4f7a8"/>
<line x1="51.6" y1="421.1" x2="51.6" y2="423.5" stroke="#222" stroke-width="0.9"/>
<text x="52.5" y="428.2" font-size="7.0" text-anchor="end" transform="rotate(-45 52.5 428.2)" stroke-width="0.05" fill="#333">CD68</text>
<line x1="62.1" y1="421.1" x2="62.1" y2="423.5" stroke="#222" stroke-width="0.9"/>
<text x="63.4" y="428.2" font-size="7.0" text-anchor="end" transform="rotate(-45 63.4 428.2)" stroke-width="0.05" fill="#333">HLA−DRA</text>
<line x1="72.7" y1="421.1" x2="72.7" y2="423.5" stroke="#222" stroke-width="0.9"/>
<text x="74.2" y="428.2" font-size="7.0" text-anchor="end" transform="rotate(-45 74.2 428.2)" stroke-width="0.05" fill="#333">HLA−DRB1</text>
<line x1="83.2" y1="421.1" x2="83.2" y2="423.5" stroke="#222" stroke-width="0.9"/>
<text x="85.1" y="428.2" font-size="7.0" text-anchor="end" transform="rotate(-45 85.1 428.2)" stroke-width="0.05" fill="#333">ITGAM</text>
<line x1="93.7" y1="421.1" x2="93.7" y2="423.5" stroke="#222" stroke-width="0.9"/>
<text x="96" y="428.2" font-size="7.0" text-anchor="end" transform="rotate(-45 96 428.2)" stroke-width="0.05" fill="#333">SELL</text>
<line x1="104.2" y1="421.1" x2="104.2" y2="423.5" stroke="#222" stroke-width="0.9"/>
<text x="106.9" y="428.2" font-size="7.0" text-anchor="end" transform="rotate(-45 106.9 428.2)" stroke-width="0.05" fill="#333">CXCR4</text>
<line x1="114.8" y1="421.1" x2="114.8" y2="423.5" stroke="#222" stroke-width="0.9"/>
<text x="117.7" y="428.2" font-size="7.0" text-anchor="end" transform="rotate(-45 117.7 428.2)" stroke-width="0.05" fill="#333">FCGR3B</text>
<line x1="125.3" y1="421.1" x2="125.3" y2="423.5" stroke="#222" stroke-width="0.9"/>
<text x="128.6" y="428.2" font-size="7.0" text-anchor="end" transform="rotate(-45 128.6 428.2)" stroke-width="0.05" fill="#333">ARG1</text>
<line x1="135.8" y1="421.1" x2="135.8" y2="423.5" stroke="#222" stroke-width="0.9"/>
<text x="139.5" y="428.2" font-size="7.0" text-anchor="end" transform="rotate(-45 139.5 428.2)" stroke-width="0.05" fill="#333">ITGAE</text>
<line x1="146.3" y1="421.1" x2="146.3" y2="423.5" stroke="#222" stroke-width="0.9"/>
<text x="150.4" y="428.2" font-size="7.0" text-anchor="end" transform="rotate(-45 150.4 428.2)" stroke-width="0.05" fill="#333">THBD</text>
<line x1="156.8" y1="421.1" x2="156.8" y2="423.5" stroke="#222" stroke-width="0.9"/>
<text x="161.2" y="428.2" font-size="7.0" text-anchor="end" transform="rotate(-45 161.2 428.2)" stroke-width="0.05" fill="#333">CD1A</text>
<line x1="167.4" y1="421.1" x2="167.4" y2="423.5" stroke="#222" stroke-width="0.9"/>
<text x="172.1" y="428.2" font-size="7.0" text-anchor="end" transform="rotate(-45 172.1 428.2)" stroke-width="0.05" fill="#333">CD1C</text>
<line x1="177.9" y1="421.1" x2="177.9" y2="423.5" stroke="#222" stroke-width="0.9"/>
<text x="183" y="428.2" font-size="7.0" text-anchor="end" transform="rotate(-45 183 428.2)" stroke-width="0.05" fill="#333">MMP9</text>
<text x="194.6" y="261.4" font-size="9.2">Percent</text>
<text x="194.6" y="272.6" font-size="9.2">Expressed</text>
<circle cx="200.3" cy="282.6" r="1.25" fill="#000"/>
<text x="209.6" y="285.9" font-size="9.2">10</text>
<circle cx="200.3" cy="293.5" r="2.2" fill="#000"/>
<text x="209.6" y="296.8" font-size="9.2">20</text>
<circle cx="200.3" cy="304.4" r="3.1" fill="#000"/>
<text x="209.6" y="307.7" font-size="9.2">30</text>
<circle cx="200.3" cy="315.4" r="4.0" fill="#000"/>
<text x="209.6" y="318.7" font-size="9.2">40</text>
<circle cx="200.3" cy="326.5" r="4.9" fill="#000"/>
<text x="209.6" y="329.8" font-size="9.2">50</text>
<text x="196.3" y="346.1" font-size="9.2">Average</text>
<text x="196.3" y="357" font-size="9.2">Expression</text>
<rect x="194" y="363.2" width="11" height="2.2" fill="#e4591f"/>
<rect x="194" y="364.2" width="11" height="2.2" fill="#e45c22"/>
<rect x="194" y="365.2" width="11" height="2.2" fill="#e55f24"/>
<rect x="194" y="366.2" width="11" height="2.2" fill="#e56226"/>
<rect x="194" y="367.2" width="11" height="2.2" fill="#e66529"/>
<rect x="194" y="368.2" width="11" height="2.2" fill="#e6682b"/>
<rect x="194" y="369.2" width="11" height="2.2" fill="#e66b2e"/>
<rect x="194" y="370.2" width="11" height="2.2" fill="#e66e30"/>
<rect x="194" y="371.2" width="11" height="2.2" fill="#e77132"/>
<rect x="194" y="372.1" width="11" height="2.2" fill="#e77435"/>
<rect x="194" y="373.1" width="11" height="2.2" fill="#e87737"/>
<rect x="194" y="374.1" width="11" height="2.2" fill="#e87a3a"/>
<rect x="194" y="375.1" width="11" height="2.2" fill="#e87d3c"/>
<rect x="194" y="376.1" width="11" height="2.2" fill="#e8803e"/>
<rect x="194" y="377.1" width="11" height="2.2" fill="#e98241"/>
<rect x="194" y="378.1" width="11" height="2.2" fill="#e98543"/>
<rect x="194" y="379.1" width="11" height="2.2" fill="#ea8846"/>
<rect x="194" y="380.1" width="11" height="2.2" fill="#ea8b48"/>
<rect x="194" y="381.1" width="11" height="2.2" fill="#ea8e4b"/>
<rect x="194" y="382.1" width="11" height="2.2" fill="#ea914d"/>
<rect x="194" y="383.1" width="11" height="2.2" fill="#eb944f"/>
<rect x="194" y="384.1" width="11" height="2.2" fill="#eb9752"/>
<rect x="194" y="385.1" width="11" height="2.2" fill="#ec9a54"/>
<rect x="194" y="386.1" width="11" height="2.2" fill="#ec9d57"/>
<rect x="194" y="387.1" width="11" height="2.2" fill="#eca059"/>
<rect x="194" y="388.1" width="11" height="2.2" fill="#eca35b"/>
<rect x="194" y="389.1" width="11" height="2.2" fill="#eda65e"/>
<rect x="194" y="390.1" width="11" height="2.2" fill="#eda860"/>
<rect x="194" y="391" width="11" height="2.2" fill="#edab63"/>
<rect x="194" y="392" width="11" height="2.2" fill="#eeae66"/>
<rect x="194" y="393" width="11" height="2.2" fill="#eeb168"/>
<rect x="194" y="394" width="11" height="2.2" fill="#eeb46b"/>
<rect x="194" y="395" width="11" height="2.2" fill="#eeb76e"/>
<rect x="194" y="396" width="11" height="2.2" fill="#efba71"/>
<rect x="194" y="397" width="11" height="2.2" fill="#efbd73"/>
<rect x="194" y="398" width="11" height="2.2" fill="#efc076"/>
<rect x="194" y="399" width="11" height="2.2" fill="#efc379"/>
<rect x="194" y="400" width="11" height="2.2" fill="#f0c67b"/>
<rect x="194" y="401" width="11" height="2.2" fill="#f0c97e"/>
<rect x="194" y="402" width="11" height="2.2" fill="#f0cc81"/>
<rect x="194" y="403" width="11" height="2.2" fill="#f0cf84"/>
<rect x="194" y="404" width="11" height="2.2" fill="#f1d286"/>
<rect x="194" y="405" width="11" height="2.2" fill="#f1d589"/>
<rect x="194" y="406" width="11" height="2.2" fill="#f1d88c"/>
<rect x="194" y="407" width="11" height="2.2" fill="#f2db8e"/>
<rect x="194" y="407.9" width="11" height="2.2" fill="#f2de91"/>
<rect x="194" y="408.9" width="11" height="2.2" fill="#f2e194"/>
<rect x="194" y="409.9" width="11" height="2.2" fill="#f2e496"/>
<rect x="194" y="410.9" width="11" height="2.2" fill="#f3e799"/>
<rect x="194" y="411.9" width="11" height="2.2" fill="#f3ea9c"/>
<rect x="194" y="412.9" width="11" height="2.2" fill="#f3ed9f"/>
<rect x="194" y="413.9" width="11" height="2.2" fill="#f3f0a1"/>
<rect x="194" y="414.9" width="11" height="2.2" fill="#f4f3a4"/>
<rect x="194" y="415.9" width="11" height="1" fill="#f4f6a7"/>
<line x1="194" y1="374.7" x2="196" y2="374.7" stroke="#fff" stroke-width="0.5"/>
<line x1="203" y1="374.7" x2="205" y2="374.7" stroke="#fff" stroke-width="0.5"/>
<text x="210.1" y="378" font-size="9.2">0.4</text>
<line x1="194" y1="389.3" x2="196" y2="389.3" stroke="#fff" stroke-width="0.5"/>
<line x1="203" y1="389.3" x2="205" y2="389.3" stroke="#fff" stroke-width="0.5"/>
<text x="210.1" y="392.6" font-size="9.2">0.0</text>
<line x1="194" y1="404.5" x2="196" y2="404.5" stroke="#fff" stroke-width="0.5"/>
<line x1="203" y1="404.5" x2="205" y2="404.5" stroke="#fff" stroke-width="0.5"/>
<text x="210.1" y="407.8" font-size="9.2">−0.4</text>
<text x="252" y="237.2" font-size="13" font-weight="bold" fill="#1a1a1a">g</text>
<text x="360.6" y="244.7" font-size="9.2" text-anchor="middle">Myeloid cells</text>
<line x1="306.4" y1="249.8" x2="306.4" y2="419.7" stroke="#222" stroke-width="1"/>
<line x1="305.9" y1="419.2" x2="403.3" y2="419.2" stroke="#222" stroke-width="1"/>
<line x1="304" y1="296.5" x2="306.4" y2="296.5" stroke="#222" stroke-width="0.9"/>
<text x="302.3" y="299.8" font-size="9.2" text-anchor="end">TAM</text>
<circle cx="324.5" cy="296.5" r="4.7" fill="#f4f7a8"/>
<circle cx="354.6" cy="296.5" r="0.5" fill="#f4f7a8"/>
<circle cx="384.7" cy="296.5" r="4.7" fill="#e4581e"/>
<line x1="304" y1="373.7" x2="306.4" y2="373.7" stroke="#222" stroke-width="0.9"/>
<text x="302.3" y="377" font-size="9.2" text-anchor="end">MDSCs</text>
<circle cx="324.5" cy="373.7" r="4.2" fill="#e4581e"/>
<circle cx="354.6" cy="373.7" r="1.7" fill="#e4581e"/>
<circle cx="384.7" cy="373.7" r="0.4" fill="#f4f7a8"/>
<line x1="324.5" y1="419.2" x2="324.5" y2="421.6" stroke="#222" stroke-width="0.9"/>
<text x="329.3" y="428.8" font-size="8.9" text-anchor="end" transform="rotate(-45 329.3 428.8)">FPR1</text>
<line x1="354.6" y1="419.2" x2="354.6" y2="421.6" stroke="#222" stroke-width="0.9"/>
<text x="359.4" y="428.8" font-size="8.9" text-anchor="end" transform="rotate(-45 359.4 428.8)">FPR2</text>
<line x1="384.7" y1="419.2" x2="384.7" y2="421.6" stroke="#222" stroke-width="0.9"/>
<text x="389.5" y="428.8" font-size="8.9" text-anchor="end" transform="rotate(-45 389.5 428.8)">FPR3</text>
<line x1="335.3" y1="295.9" x2="335.3" y2="374" stroke="#707070" stroke-width="1.4"/>
<line x1="364.1" y1="295.9" x2="364.1" y2="374" stroke="#707070" stroke-width="1.4"/>
<line x1="402.7" y1="295.9" x2="402.7" y2="374" stroke="#707070" stroke-width="1.4"/>
<text x="340.2" y="332" font-size="9.2" text-anchor="middle" transform="rotate(90 340.2 332)"><tspan font-style="italic">p</tspan> = 8.54e-17</text>
<text x="368.8" y="332" font-size="9.2" text-anchor="middle" transform="rotate(90 368.8 332)"><tspan font-style="italic">p</tspan> = 3.22e-38</text>
<text x="408" y="334" font-size="9.2" text-anchor="middle" transform="rotate(90 408 334)"><tspan font-style="italic">p</tspan> = 2.40e-255</text>
<text x="425.5" y="260.2" font-size="9.2">Percent</text>
<text x="425.5" y="271.4" font-size="9.2">Expressed</text>
<circle cx="430" cy="286.8" r="2.1" fill="#000"/>
<text x="441.6" y="290.1" font-size="9.2">10</text>
<circle cx="430" cy="297.8" r="3.2" fill="#000"/>
<text x="441.6" y="301.1" font-size="9.2">15</text>
<circle cx="430" cy="310.5" r="4.8" fill="#000"/>
<text x="441.6" y="313.8" font-size="9.2">20</text>
<text x="424.9" y="338.9" font-size="9.2">Average</text>
<text x="424.9" y="350.3" font-size="9.2">Expression</text>
<rect x="424.5" y="359.4" width="10.8" height="2.2" fill="#e4591f"/>
<rect x="424.5" y="360.4" width="10.8" height="2.2" fill="#e45c22"/>
<rect x="424.5" y="361.4" width="10.8" height="2.2" fill="#e55f24"/>
<rect x="424.5" y="362.4" width="10.8" height="2.2" fill="#e56226"/>
<rect x="424.5" y="363.4" width="10.8" height="2.2" fill="#e66529"/>
<rect x="424.5" y="364.4" width="10.8" height="2.2" fill="#e6682b"/>
<rect x="424.5" y="365.4" width="10.8" height="2.2" fill="#e66b2e"/>
<rect x="424.5" y="366.4" width="10.8" height="2.2" fill="#e66e30"/>
<rect x="424.5" y="367.4" width="10.8" height="2.2" fill="#e77132"/>
<rect x="424.5" y="368.4" width="10.8" height="2.2" fill="#e77435"/>
<rect x="424.5" y="369.4" width="10.8" height="2.2" fill="#e87737"/>
<rect x="424.5" y="370.4" width="10.8" height="2.2" fill="#e87a3a"/>
<rect x="424.5" y="371.4" width="10.8" height="2.2" fill="#e87d3c"/>
<rect x="424.5" y="372.4" width="10.8" height="2.2" fill="#e8803e"/>
<rect x="424.5" y="373.4" width="10.8" height="2.2" fill="#e98241"/>
<rect x="424.5" y="374.4" width="10.8" height="2.2" fill="#e98543"/>
<rect x="424.5" y="375.4" width="10.8" height="2.2" fill="#ea8846"/>
<rect x="424.5" y="376.4" width="10.8" height="2.2" fill="#ea8b48"/>
<rect x="424.5" y="377.4" width="10.8" height="2.2" fill="#ea8e4b"/>
<rect x="424.5" y="378.4" width="10.8" height="2.2" fill="#ea914d"/>
<rect x="424.5" y="379.4" width="10.8" height="2.2" fill="#eb944f"/>
<rect x="424.5" y="380.4" width="10.8" height="2.2" fill="#eb9752"/>
<rect x="424.5" y="381.4" width="10.8" height="2.2" fill="#ec9a54"/>
<rect x="424.5" y="382.4" width="10.8" height="2.2" fill="#ec9d57"/>
<rect x="424.5" y="383.4" width="10.8" height="2.2" fill="#eca059"/>
<rect x="424.5" y="384.4" width="10.8" height="2.2" fill="#eca35b"/>
<rect x="424.5" y="385.4" width="10.8" height="2.2" fill="#eda65e"/>
<rect x="424.5" y="386.4" width="10.8" height="2.2" fill="#eda860"/>
<rect x="424.5" y="387.5" width="10.8" height="2.2" fill="#edab63"/>
<rect x="424.5" y="388.5" width="10.8" height="2.2" fill="#eeae66"/>
<rect x="424.5" y="389.5" width="10.8" height="2.2" fill="#eeb168"/>
<rect x="424.5" y="390.5" width="10.8" height="2.2" fill="#eeb46b"/>
<rect x="424.5" y="391.5" width="10.8" height="2.2" fill="#eeb76e"/>
<rect x="424.5" y="392.5" width="10.8" height="2.2" fill="#efba71"/>
<rect x="424.5" y="393.5" width="10.8" height="2.2" fill="#efbd73"/>
<rect x="424.5" y="394.5" width="10.8" height="2.2" fill="#efc076"/>
<rect x="424.5" y="395.5" width="10.8" height="2.2" fill="#efc379"/>
<rect x="424.5" y="396.5" width="10.8" height="2.2" fill="#f0c67b"/>
<rect x="424.5" y="397.5" width="10.8" height="2.2" fill="#f0c97e"/>
<rect x="424.5" y="398.5" width="10.8" height="2.2" fill="#f0cc81"/>
<rect x="424.5" y="399.5" width="10.8" height="2.2" fill="#f0cf84"/>
<rect x="424.5" y="400.5" width="10.8" height="2.2" fill="#f1d286"/>
<rect x="424.5" y="401.5" width="10.8" height="2.2" fill="#f1d589"/>
<rect x="424.5" y="402.5" width="10.8" height="2.2" fill="#f1d88c"/>
<rect x="424.5" y="403.5" width="10.8" height="2.2" fill="#f2db8e"/>
<rect x="424.5" y="404.5" width="10.8" height="2.2" fill="#f2de91"/>
<rect x="424.5" y="405.5" width="10.8" height="2.2" fill="#f2e194"/>
<rect x="424.5" y="406.5" width="10.8" height="2.2" fill="#f2e496"/>
<rect x="424.5" y="407.5" width="10.8" height="2.2" fill="#f3e799"/>
<rect x="424.5" y="408.5" width="10.8" height="2.2" fill="#f3ea9c"/>
<rect x="424.5" y="409.5" width="10.8" height="2.2" fill="#f3ed9f"/>
<rect x="424.5" y="410.5" width="10.8" height="2.2" fill="#f3f0a1"/>
<rect x="424.5" y="411.5" width="10.8" height="2.2" fill="#f4f3a4"/>
<rect x="424.5" y="412.5" width="10.8" height="1" fill="#f4f6a7"/>
<line x1="424.5" y1="371.4" x2="426.5" y2="371.4" stroke="#fff" stroke-width="0.5"/>
<line x1="433.3" y1="371.4" x2="435.3" y2="371.4" stroke="#fff" stroke-width="0.5"/>
<text x="440.3" y="374.7" font-size="9.2">0.4</text>
<line x1="424.5" y1="386.6" x2="426.5" y2="386.6" stroke="#fff" stroke-width="0.5"/>
<line x1="433.3" y1="386.6" x2="435.3" y2="386.6" stroke="#fff" stroke-width="0.5"/>
<text x="440.3" y="389.9" font-size="9.2">0.0</text>
<line x1="424.5" y1="401.7" x2="426.5" y2="401.7" stroke="#fff" stroke-width="0.5"/>
<line x1="433.3" y1="401.7" x2="435.3" y2="401.7" stroke="#fff" stroke-width="0.5"/>
<text x="440.3" y="405" font-size="9.2">−0.4</text>
<text x="1" y="464.8" font-size="13" font-weight="bold" fill="#1a1a1a">i</text>
<text x="118.6" y="486" font-size="9.25" text-anchor="middle">FPR2<tspan dy="-3.2" font-size="5.8">high</tspan><tspan dy="3.2"> myeloid cells</tspan></text>
<line x1="47.6" y1="491.4" x2="47.6" y2="663.9" stroke="#222" stroke-width="1"/>
<line x1="47.1" y1="663.4" x2="180.4" y2="663.4" stroke="#222" stroke-width="1"/>
<line x1="45.2" y1="538.6" x2="47.6" y2="538.6" stroke="#222" stroke-width="0.9"/>
<text x="41.2" y="541.9" font-size="9.2" text-anchor="end">TAM</text>
<circle cx="53.7" cy="538.6" r="4.5" fill="#e4581e"/>
<circle cx="63.7" cy="538.6" r="4.9" fill="#e4581e"/>
<circle cx="73.8" cy="538.6" r="5.1" fill="#e4581e"/>
<circle cx="83.8" cy="538.6" r="2.5" fill="#e4581e"/>
<circle cx="93.8" cy="538.6" r="1.9" fill="#f4f7a8"/>
<circle cx="103.9" cy="538.6" r="3" fill="#f4f7a8"/>
<circle cx="113.9" cy="538.6" r="0.9" fill="#f4f7a8"/>
<circle cx="123.9" cy="538.6" r="0.5" fill="#f4f7a8"/>
<circle cx="134" cy="538.6" r="0.8" fill="#f4f7a8"/>
<circle cx="144" cy="538.6" r="3.8" fill="#e4581e"/>
<circle cx="154" cy="538.6" r="0.9" fill="#e67033"/>
<circle cx="164.1" cy="538.6" r="0.9" fill="#e6682c"/>
<circle cx="174.1" cy="538.6" r="2.8" fill="#e4581e"/>
<line x1="45.2" y1="616.7" x2="47.6" y2="616.7" stroke="#222" stroke-width="0.9"/>
<text x="41.2" y="620" font-size="9.2" text-anchor="end">MDSCs</text>
<circle cx="53.7" cy="616.7" r="1" fill="#f4f7a8"/>
<circle cx="63.7" cy="616.7" r="2.5" fill="#f4f7a8"/>
<circle cx="73.8" cy="616.7" r="1.8" fill="#f4f7a8"/>
<circle cx="83.8" cy="616.7" r="1" fill="#f4f7a8"/>
<circle cx="93.8" cy="616.7" r="2.7" fill="#e4581e"/>
<circle cx="103.9" cy="616.7" r="2.5" fill="#e4581e"/>
<circle cx="113.9" cy="616.7" r="4.2" fill="#e4581e"/>
<circle cx="123.9" cy="616.7" r="0.9" fill="#e7783a"/>
<circle cx="134" cy="616.7" r="1" fill="#e4581e"/>
<circle cx="144" cy="616.7" r="0.9" fill="#f4f7a8"/>
<circle cx="154" cy="616.7" r="0.6" fill="#f4f7a8"/>
<circle cx="164.1" cy="616.7" r="0.6" fill="#f4f7a8"/>
<circle cx="174.1" cy="616.7" r="0.9" fill="#f4f7a8"/>
<line x1="53.7" y1="663.4" x2="53.7" y2="665.8" stroke="#222" stroke-width="0.9"/>
<text x="54.6" y="670.5" font-size="7.0" text-anchor="end" transform="rotate(-45 54.6 670.5)" stroke-width="0.05" fill="#333">CD68</text>
<line x1="63.7" y1="663.4" x2="63.7" y2="665.8" stroke="#222" stroke-width="0.9"/>
<text x="65" y="670.5" font-size="7.0" text-anchor="end" transform="rotate(-45 65 670.5)" stroke-width="0.05" fill="#333">HLA−DRA</text>
<line x1="73.8" y1="663.4" x2="73.8" y2="665.8" stroke="#222" stroke-width="0.9"/>
<text x="75.4" y="670.5" font-size="7.0" text-anchor="end" transform="rotate(-45 75.4 670.5)" stroke-width="0.05" fill="#333">HLA−DRB1</text>
<line x1="83.8" y1="663.4" x2="83.8" y2="665.8" stroke="#222" stroke-width="0.9"/>
<text x="85.8" y="670.5" font-size="7.0" text-anchor="end" transform="rotate(-45 85.8 670.5)" stroke-width="0.05" fill="#333">ITGAM</text>
<line x1="93.8" y1="663.4" x2="93.8" y2="665.8" stroke="#222" stroke-width="0.9"/>
<text x="96.2" y="670.5" font-size="7.0" text-anchor="end" transform="rotate(-45 96.2 670.5)" stroke-width="0.05" fill="#333">SELL</text>
<line x1="103.9" y1="663.4" x2="103.9" y2="665.8" stroke="#222" stroke-width="0.9"/>
<text x="106.6" y="670.5" font-size="7.0" text-anchor="end" transform="rotate(-45 106.6 670.5)" stroke-width="0.05" fill="#333">CXCR4</text>
<line x1="113.9" y1="663.4" x2="113.9" y2="665.8" stroke="#222" stroke-width="0.9"/>
<text x="117" y="670.5" font-size="7.0" text-anchor="end" transform="rotate(-45 117 670.5)" stroke-width="0.05" fill="#333">FCGR3B</text>
<line x1="123.9" y1="663.4" x2="123.9" y2="665.8" stroke="#222" stroke-width="0.9"/>
<text x="127.4" y="670.5" font-size="7.0" text-anchor="end" transform="rotate(-45 127.4 670.5)" stroke-width="0.05" fill="#333">ARG1</text>
<line x1="134" y1="663.4" x2="134" y2="665.8" stroke="#222" stroke-width="0.9"/>
<text x="137.8" y="670.5" font-size="7.0" text-anchor="end" transform="rotate(-45 137.8 670.5)" stroke-width="0.05" fill="#333">ITGAE</text>
<line x1="144" y1="663.4" x2="144" y2="665.8" stroke="#222" stroke-width="0.9"/>
<text x="148.2" y="670.5" font-size="7.0" text-anchor="end" transform="rotate(-45 148.2 670.5)" stroke-width="0.05" fill="#333">THBD</text>
<line x1="154" y1="663.4" x2="154" y2="665.8" stroke="#222" stroke-width="0.9"/>
<text x="158.6" y="670.5" font-size="7.0" text-anchor="end" transform="rotate(-45 158.6 670.5)" stroke-width="0.05" fill="#333">CD1A</text>
<line x1="164.1" y1="663.4" x2="164.1" y2="665.8" stroke="#222" stroke-width="0.9"/>
<text x="169" y="670.5" font-size="7.0" text-anchor="end" transform="rotate(-45 169 670.5)" stroke-width="0.05" fill="#333">CD1C</text>
<line x1="174.1" y1="663.4" x2="174.1" y2="665.8" stroke="#222" stroke-width="0.9"/>
<text x="179.5" y="670.5" font-size="7.0" text-anchor="end" transform="rotate(-45 179.5 670.5)" stroke-width="0.05" fill="#333">MMP9</text>
<text x="190.8" y="493.7" font-size="9.2">Percent</text>
<text x="190.8" y="504.8" font-size="9.2">Expressed</text>
<circle cx="196.3" cy="515.5" r="0.45" fill="#000"/>
<text x="204.8" y="518.8" font-size="9.2">0</text>
<circle cx="196.3" cy="526.3" r="1.3" fill="#000"/>
<text x="204.8" y="529.6" font-size="9.2">10</text>
<circle cx="196.3" cy="536.9" r="2.3" fill="#000"/>
<text x="204.8" y="540.2" font-size="9.2">20</text>
<circle cx="196.3" cy="547.7" r="3.2" fill="#000"/>
<text x="204.8" y="551" font-size="9.2">30</text>
<circle cx="196.3" cy="558.1" r="3.9" fill="#000"/>
<text x="204.8" y="561.4" font-size="9.2">40</text>
<circle cx="196.3" cy="569.5" r="4.7" fill="#000"/>
<text x="204.8" y="572.8" font-size="9.2">50</text>
<text x="191.5" y="591.7" font-size="9.2">Average</text>
<text x="191.5" y="602.9" font-size="9.2">Expression</text>
<rect x="190.8" y="607.4" width="10.4" height="2.2" fill="#e4591f"/>
<rect x="190.8" y="608.4" width="10.4" height="2.2" fill="#e55c22"/>
<rect x="190.8" y="609.4" width="10.4" height="2.2" fill="#e55f24"/>
<rect x="190.8" y="610.4" width="10.4" height="2.2" fill="#e56227"/>
<rect x="190.8" y="611.4" width="10.4" height="2.2" fill="#e66529"/>
<rect x="190.8" y="612.4" width="10.4" height="2.2" fill="#e6682b"/>
<rect x="190.8" y="613.4" width="10.4" height="2.2" fill="#e66b2e"/>
<rect x="190.8" y="614.4" width="10.4" height="2.2" fill="#e76e30"/>
<rect x="190.8" y="615.4" width="10.4" height="2.2" fill="#e77133"/>
<rect x="190.8" y="616.4" width="10.4" height="2.2" fill="#e77435"/>
<rect x="190.8" y="617.4" width="10.4" height="2.2" fill="#e87738"/>
<rect x="190.8" y="618.4" width="10.4" height="2.2" fill="#e87a3a"/>
<rect x="190.8" y="619.4" width="10.4" height="2.2" fill="#e87d3d"/>
<rect x="190.8" y="620.4" width="10.4" height="2.2" fill="#e9803f"/>
<rect x="190.8" y="621.5" width="10.4" height="2.2" fill="#e98342"/>
<rect x="190.8" y="622.5" width="10.4" height="2.2" fill="#e98644"/>
<rect x="190.8" y="623.5" width="10.4" height="2.2" fill="#ea8946"/>
<rect x="190.8" y="624.5" width="10.4" height="2.2" fill="#ea8c49"/>
<rect x="190.8" y="625.5" width="10.4" height="2.2" fill="#ea8f4b"/>
<rect x="190.8" y="626.5" width="10.4" height="2.2" fill="#eb924e"/>
<rect x="190.8" y="627.5" width="10.4" height="2.2" fill="#eb9550"/>
<rect x="190.8" y="628.5" width="10.4" height="2.2" fill="#eb9853"/>
<rect x="190.8" y="629.5" width="10.4" height="2.2" fill="#ec9b55"/>
<rect x="190.8" y="630.5" width="10.4" height="2.2" fill="#ec9e58"/>
<rect x="190.8" y="631.5" width="10.4" height="2.2" fill="#eca15a"/>
<rect x="190.8" y="632.5" width="10.4" height="2.2" fill="#eda45d"/>
<rect x="190.8" y="633.5" width="10.4" height="2.2" fill="#eda75f"/>
<rect x="190.8" y="634.5" width="10.4" height="2.2" fill="#edaa62"/>
<rect x="190.8" y="635.5" width="10.4" height="2.2" fill="#eead65"/>
<rect x="190.8" y="636.5" width="10.4" height="2.2" fill="#eeb067"/>
<rect x="190.8" y="637.5" width="10.4" height="2.2" fill="#eeb36a"/>
<rect x="190.8" y="638.5" width="10.4" height="2.2" fill="#eeb66d"/>
<rect x="190.8" y="639.5" width="10.4" height="2.2" fill="#efb970"/>
<rect x="190.8" y="640.5" width="10.4" height="2.2" fill="#efbc72"/>
<rect x="190.8" y="641.5" width="10.4" height="2.2" fill="#efbf75"/>
<rect x="190.8" y="642.5" width="10.4" height="2.2" fill="#efc278"/>
<rect x="190.8" y="643.5" width="10.4" height="2.2" fill="#f0c57b"/>
<rect x="190.8" y="644.5" width="10.4" height="2.2" fill="#f0c87d"/>
<rect x="190.8" y="645.5" width="10.4" height="2.2" fill="#f0cb80"/>
<rect x="190.8" y="646.5" width="10.4" height="2.2" fill="#f0ce83"/>
<rect x="190.8" y="647.6" width="10.4" height="2.2" fill="#f1d186"/>
<rect x="190.8" y="648.6" width="10.4" height="2.2" fill="#f1d488"/>
<rect x="190.8" y="649.6" width="10.4" height="2.2" fill="#f1d78b"/>
<rect x="190.8" y="650.6" width="10.4" height="2.2" fill="#f1da8e"/>
<rect x="190.8" y="651.6" width="10.4" height="2.2" fill="#f2dd91"/>
<rect x="190.8" y="652.6" width="10.4" height="2.2" fill="#f2e093"/>
<rect x="190.8" y="653.6" width="10.4" height="2.2" fill="#f2e396"/>
<rect x="190.8" y="654.6" width="10.4" height="2.2" fill="#f3e699"/>
<rect x="190.8" y="655.6" width="10.4" height="2.2" fill="#f3e99c"/>
<rect x="190.8" y="656.6" width="10.4" height="2.2" fill="#f3ec9e"/>
<rect x="190.8" y="657.6" width="10.4" height="2.2" fill="#f3efa1"/>
<rect x="190.8" y="658.6" width="10.4" height="2.2" fill="#f4f2a4"/>
<rect x="190.8" y="659.6" width="10.4" height="1" fill="#f4f5a7"/>
<line x1="190.8" y1="619.2" x2="192.8" y2="619.2" stroke="#fff" stroke-width="0.5"/>
<line x1="199.2" y1="619.2" x2="201.2" y2="619.2" stroke="#fff" stroke-width="0.5"/>
<text x="206.4" y="622.5" font-size="9.2">0.4</text>
<line x1="190.8" y1="634" x2="192.8" y2="634" stroke="#fff" stroke-width="0.5"/>
<line x1="199.2" y1="634" x2="201.2" y2="634" stroke="#fff" stroke-width="0.5"/>
<text x="206.4" y="637.3" font-size="9.2">0.0</text>
<line x1="190.8" y1="648.8" x2="192.8" y2="648.8" stroke="#fff" stroke-width="0.5"/>
<line x1="199.2" y1="648.8" x2="201.2" y2="648.8" stroke="#fff" stroke-width="0.5"/>
<text x="206.4" y="652.1" font-size="9.2">−0.4</text>
<text x="494.5" y="238" font-size="13" font-weight="bold" fill="#1a1a1a">h</text>
<text x="515.6" y="253.5" font-size="9.25">FPR2<tspan dy="-3.2" font-size="5.8">high</tspan><tspan dy="3.2"> myeloid cells</tspan></text>
<circle cx="613.3" cy="242.8" r="2.7" fill="#ef6f68"/>
<circle cx="613.3" cy="254.2" r="2.7" fill="#55cfc5"/>
<text x="623.8" y="246.1" font-size="9.2">FPR2_MDSCs</text>
<text x="623.8" y="257.5" font-size="9.2">FPR2_TAM</text>
<rect x="512.5" y="261.8" width="156.3" height="159.7" fill="none" stroke="#222" stroke-width="0.9"/>
<text x="515.6" y="273.5" font-size="9.2">807 cells</text>
<text x="593.9" y="428.7" font-size="9.2" text-anchor="middle">umap</text>
<path transform="scale(.1)" d="M5797 2704h0m77 84h0m13 23h0m-241 18h0m94 18h0m125-11h0m69 2h0m-259 18h0m37 14h0m241-11h0m-454 41h0m74-9h0m314 15h0m45 2h0m-307 30h0m171-19h0m37 4h0m74 6h0m35 8h0m-477 11h0m52 5h0m85 15h0m37-1h0m31-2h0m139-18h0m61 13h0m111-16h0m-406 55h0m138-17h0m103 7h0m-354 16h0m286 0h0m93 8h0m80 7h0m-490 23h0m50-10h0m12 26h0m128-28h0m68 15h0m-247 43h0m12-18h0m107 1h0m23 13h0m30-8h0m53-1h0m46-9h0m103 17h0m-429 10h0m153 16h0m28-2h0m74-12h0m81 7h0m55 16h0m-379 2h0m9 20h0m51 2h0m53-8h0m15 12h0m26-16h0m-177 44h0m155-5h0m23-3h0m52 8h0m72-13h0m73-5h0m-364 48h0m26-14h0m60 5h0m33-6h0m9 38h0m14-14h0m108 9h0m36-8h0m31 3h0m-374 31h0m83 14h0m182-20h0m56-1h0m31 0h0m-350 31h0m120 0h0m29 7h0m19 6h0m111-5h0m25 17h0m32 0h0m28-6h0m-419 12h0m24 12h0m37 12h0m67-1h0m22-13h0m112 4h0m59 8h0m6-20h0m111 15h0m-442 13h0m87 0h0m77-4h0m44 26h0m55 0h0m57-13h0m26-7h0m37 7h0m78 1h0m-414 38h0m34-17h0m37-3h0m22 12h0m33 10h0m192 1h0m37-8h0m29-12h0m13 17h0m-467 34h0m108-24h0m12 17h0m63-4h0m179 13h0m110-10h0m-456 34h0m10-22h0m60 16h0m43 7h0m35-10h0m82-12h0m170 1h0m40 20h0m-372 29h0m94-16h0m28 1h0m29 23h0m183-8h0m-364 31h0m55 7h0m75-17h0m41 4h0m54 12h0m181 0h0m-372 19h0m107-4h0m53 6h0m42-5h0m33 11h0m59-19h0m29 14h0m12-17h0m-309 34h0m51 11h0m143-4h0m68-1h0m82 11h0m-304 11h0m43 18h0m93-18h0m31 12h0m90 7h0m9-19h0m30 11h0m-388 16h0m15 12h0m83 14h0m101-13h0m19-10h0m25 5h0m24-5h0m275 4h0m-557 32h0m36-9h0m79 13h0m122-1h0m73-7h0m50 2h0m96 12h0m58 1h0m-490 25h0m53 4h0m13-18h0m19 8h0m36 11h0m82-11h0m19-10h0m15 10h0m62 18h0m29-22h0m24 19h0m53 2h0m24-2h0m-450 20h0m42 5h0m60 4h0m24-9h0m160 8h0m69-4h0m39-14h0m17 7h0m-405 26h0m52 15h0m5-20h0m23-1h0m50 25h0m80-15h0m17 5h0m17-14h0m18 10h0m21-3h0m34-6h0m21 18h0m54 2h0m21 0h0m53-7h0m10-15h0m17-2h0m-345 29h0m30 22h0m6-22h0m58 7h0m73 16h0m15-11h0m33-9h0m11 11h0m57-10h0m18 17h0m-440 18h0m87-5h0m27 15h0m63-4h0m78-1h0m23-8h0m121 0h0m16 0h0m15 9h0m-492 30h0m89-14h0m20 25h0m10-16h0m122-6h0m43 1h0m39-4h0m7 24h0m16-17h0m34 1h0m16 1h0m42 2h0m-343 43h0m37-7h0m47 2h0m45-3h0m14 10h0m48 2h0m46-16h0m58-9h0m33-2h0m-355 47h0m61-4h0m67 9h0m26 0h0m83-14h0m26-6h0m25 6h0m41-10h0m10 17h0m62-12h0m-385 32h0m34-3h0m63 24h0m29-17h0m29-9h0m2 17h0m13 8h0m62 2h0m32-22h0m71 12h0m2-17h0m-239 47h0m81-6h0m17 1h0m60 12h0m15-20h0m19 20h0m31-7h0m24-17h0m11 19h0m-278 18h0m25 13h0m25-10h0m25-10h0m18 24h0m26-21h0m1 18h0m50-14h0m41 16h0m25-5h0m-208 38h0m15-8h0m19-20h0m104 23h0m44-4h0m17 2h0m-162 23h0m55 5h0m37-9h0m37-2h0m35 2h0m-172 36h0m26 13h0m22-2h0m28-9h0m106-12h0m-173 31h0m75 7h0m27 15h0m48-29h0m-136 37h0m32 2h0m25 8h0m30 3h0m-97 10h0" stroke="#55cfc5" stroke-width="26" stroke-linecap="round" fill="none"/>
<path transform="scale(.1)" d="M6098 2729h0m-37 13h0m63 9h0m-32 17h0m-185 35h0m19 16h0m91-9h0m1-20h0m69 24h0m121 0h0m-505 35h0m253-9h0m127 7h0m59-8h0m-229 12h0m24 18h0m204-2h0m-586 16h0m91 0h0m515 2h0m-243 27h0m185 24h0m89-24h0m11 27h0m-705 15h0m383 5h0m70 6h0m138 3h0m2-17h0m45 0h0m25 14h0m47 3h0m47-3h0m15-6h0m-230 14h0m24 11h0m42-14h0m61 10h0m97 0h0m-386 33h0m34-8h0m42 15h0m35 6h0m1-19h0m30 21h0m105 0h0m14-26h0m3 26h0m57-13h0m69-1h0m21-4h0m21-9h0m25 23h0m24 1h0m-408 12h0m17 1h0m119-2h0m25 3h0m6 17h0m34-9h0m22 0h0m31 5h0m66-5h0m8-16h0m28 5h0m32 23h0m-377 26h0m1-22h0m61-3h0m21 15h0m47 9h0m5-16h0m24 20h0m15-25h0m74 19h0m23-3h0m21 10h0m15-20h0m38 10h0m48 4h0m10-22h0m16 2h0m-384 51h0m27-10h0m29-12h0m152 9h0m77 4h0m41 13h0m12-15h0m29-1h0m19-10h0m2 17h0m38-2h0m-769 18h0m57 20h0m128-6h0m78-15h0m46 13h0m22 8h0m53-14h0m16-8h0m51 0h0m13 18h0m24-11h0m19-7h0m46 24h0m18-4h0m45-15h0m1 19h0m17-4h0m11-18h0m41 4h0m45 13h0m5-17h0m-579 49h0m141 4h0m16 0h0m2-19h0m62 20h0m47-11h0m14-7h0m31 10h0m55-12h0m74 5h0m51 4h0m40 4h0m12-22h0m19 12h0m74-9h0m-432 32h0m34-5h0m35 12h0m61 10h0m42 5h0m30-8h0m24-19h0m2 18h0m20 0h0m21-10h0m45-2h0m40-3h0m12 14h0m-430 22h0m69 19h0m12-27h0m15 12h0m18 6h0m18-4h0m50 12h0m81-11h0m16-12h0m35 12h0m53-11h0m49 0h0m18 14h0m13-18h0m33 3h0m52 15h0m-431 13h0m26 6h0m113-7h0m22 26h0m43-8h0m10-17h0m21 15h0m0-16h0m50 15h0m39-6h0m94 9h0m-383 26h0m42-8h0m24-3h0m37 20h0m31-3h0m42-1h0m1-17h0m60 2h0m16 7h0m2 16h0m51 0h0m8-26h0m22 19h0m7-17h0m28 17h0m25-1h0m18-12h0m-622 39h0m45 3h0m50-19h0m31-1h0m123 12h0m118-12h0m16 16h0m36-13h0m82 23h0m68-8h0m40 10h0m-568 30h0m28-26h0m303 0h0m13 23h0m34-16h0m39 19h0m56-11h0m72-16h0m9 24h0m40 4h0m4-29h0m-680 48h0m406-7h0m23 12h0m25-18h0m31 11h0m39 7h0m2-17h0m24 11h0m32 6h0m78 0h0m16-1h0m-647 29h0m50-7h0m236-12h0m129 3h0m4 24h0m20-1h0m48-9h0m26-3h0m54-3h0m23-10h0m42 24h0m25-23h0m23 14h0m-440 18h0m67 15h0m29-14h0m97 6h0m25 10h0m38-13h0m19-2h0m24 7h0m65-12h0m46 6h0m13-9h0m-355 57h0m142-13h0m89-2h0m57 14h0m11-25h0m18 7h0m17 13h0m20 6h0m19-25h0m-824 57h0m376-11h0m42 0h0m61-11h0m78 18h0m50-8h0m29-10h0m25 0h0m27-7h0m18 15h0m14-11h0m48 18h0m39 7h0m21-5h0m-667 13h0m99 2h0m129 5h0m134-14h0m122 8h0m25 18h0m47-2h0m108-1h0m-925 33h0m256-1h0m85-14h0m94 18h0m127-7h0m51-20h0m46 12h0m50-11h0m31 24h0m100-22h0m12 10h0m21 0h0m35-8h0m-671 51h0m78-5h0m48 2h0m178-5h0m105-12h0m78-8h0m41 0h0m11 15h0m48 11h0m66-2h0m53-24h0m-679 59h0m163-12h0m228-10h0m40 19h0m71-12h0m85-6h0m24-7h0m46 0h0m-685 38h0m97 11h0m73-13h0m341 15h0m22-9h0m43-8h0m26-2h0m48 13h0m-594 27h0m120 7h0m385-10h0m30 2h0m40 14h0m72-23h0m-749 52h0m51 0h0m434-21h0m36 10h0m49 8h0m42-14h0m25 5h0m23 3h0m34-2h0m24 5h0m45-1h0m-730 36h0m32-3h0m49-13h0m474 17h0m48-22h0m22 5h0m52 14h0m23 6h0m-734 21h0m109 7h0m78-7h0m413 9h0m21-6h0m28-11h0m29 17h0m7-24h0m41 25h0m28-23h0m-784 34h0m676-5h0m24 10h0m19-1h0m17-11h0m-673 42h0m121-10h0m439 7h0m20-9h0m2 23h0m24-16h0m0 19h0m26-1h0m6-21h0m29 11h0m12-15h0m32-1h0m2 26h0m-749 19h0m35-3h0m555-7h0m41 20h0m18-8h0m29 9h0m13-16h0m32-5h0m-126 38h0m21-5h0m-22 28h0m23-8h0m17 16h0m12-16h0m21 22h0m44-17h0m-104 32h0m35 10h0m20-4h0m12 16h0m28-25h0m-74 26h0m7 20h0m60-12h0m-84 29h0m39 0h0m27 17h0m-23 6h0m20 13h0" stroke="#ef6f68" stroke-width="26" stroke-linecap="round" fill="none"/>
<text x="524.2" y="300.3" font-size="6.6" fill="#222">TAM</text>
<text x="613.3" y="380.8" font-size="6.6" fill="#222">MDSCs</text>
<text x="251.5" y="465.2" font-size="13" font-weight="bold" fill="#1a1a1a">j</text>
<path transform="scale(.1)" d="M3143 5356h0m2 9h0m-3 10h0m3 9h0m1 10h0m2 9h0m-3 10h0m-1 9h0m-1 10h0m1 9h0m-2 9h0m-8 6h0m12 5h0m6 4h0m-18 7h0m15-3h0m9 2h0m-15 9h0m-7 9h0m16 2h0m-8 4h0m-7 11h0m8 4h0m10-3h0m-20 6h0m21 9h0m-33 5h0m15 0h0m4 0h0m13-1h0m7 1h0m-32 4h0m9 9h0m9-4h0m6-4h0m14 5h0m-52 7h0m10 3h0m9-6h0m7 5h0m15 2h0m5 1h0m13-7h0m-63 9h0m12 0h0m10 0h0m11 1h0m12 3h0m7-4h0m8 3h0m-61 11h0m7 3h0m29-7h0m9 4h0m13 2h0m2-1h0m11-1h0m-77 10h0m25 3h0m9-6h0m8 1h0m3 5h0m28-3h0m2 3h0m-82 4h0m6 3h0m10-5h0m10 4h0m15 3h0m14 1h0m9-7h0m15 7h0m10-3h0m5 3h0m-88 7h0m26-5h0m6 6h0m7-5h0m12 6h0m6-3h0m18-5h0m-78 12h0m9 0h0m4-2h0m16 4h0m5-2h0m13-3h0m3 1h0m9 1h0m13-1h0m8 6h0m8 2h0m-83 10h0m9-7h0m7 4h0m31-1h0m9-5h0m16 9h0m1-8h0m-62 14h0m7-1h0m9-4h0m17 3h0m6 5h0m6-6h0m10 5h0m-52 4h0m6 3h0m7-5h0m8 5h0m34-3h0m-55 8h0m9 0h0m3 6h0m16-4h0m20 0h0m9-2h0m-57 9h0m10 7h0m9-1h0m3-2h0m15 2h0m3 3h0m16-4h0m-50 8h0m7-4h0m11 5h0m19-4h0m-41 11h0m13 1h0m7-4h0m13 7h0m8 0h0m-47 7h0m9 1h0m14-2h0m2-2h0m17 0h0m10 2h0m7 5h0m-50 8h0m11 2h0m13-3h0m3-4h0m13 6h0m-46 5h0m4 4h0m25-1h0m10 3h0m9-1h0m8-1h0m-59 11h0m9-1h0m7-5h0m27-1h0m4 0h0m9 1h0m-58 11h0m23 4h0m6-3h0m12-3h0m12 6h0m11-3h0m-71 13h0m10-5h0m5 4h0m23 2h0m14-8h0m6 1h0m7 2h0m6 0h0m-100 12h0m10-1h0m7-6h0m13 8h0m9 1h0m12-5h0m11-1h0m6 2h0m4-1h0m13 4h0m13 0h0m7-1h0m11-1h0m9 0h0m13 1h0m-172 10h0m7-4h0m10 5h0m5-1h0m12-7h0m12 3h0m9-3h0m12 6h0m7-1h0m5 3h0m8-1h0m13-3h0m7 2h0m16-4h0m4 3h0m15 3h0m4 1h0m15-9h0m8 2h0m10 5h0m9-6h0m7 7h0m13-3h0m-224 5h0m11 6h0m13 0h0m4-3h0m9-2h0m27 0h0m18 7h0m5-1h0m17-4h0m12-3h0m14 3h0m3 3h0m13 2h0m5-2h0m12-3h0m15 0h0m8-3h0m2 0h0m10 3h0m27 5h0m2-9h0m-240 10h0m3 0h0m25 6h0m9-3h0m12 2h0m1 3h0m12-3h0m11-5h0m9 1h0m9 5h0m13 0h0m5 3h0m15-1h0m2-8h0m13 3h0m6 1h0m10-1h0m17-3h0m2 7h0m34-5h0m10 5h0m5-4h0m12 0h0m12 5h0m3-2h0m13 3h0m-264 5h0m11-2h0m5 2h0m21-5h0m10 3h0m7 0h0m11 2h0m13-2h0m1 6h0m18 0h0m8 0h0m10-8h0m7 8h0m11-2h0m12-1h0m5 3h0m6-8h0m14 8h0m8-2h0m27-6h0m13 4h0m28-3h0m4 1h0m17 4h0m-252 11h0m15 0h0m8-3h0m10 1h0m12-4h0m7 5h0m7-4h0m12 2h0m16-4h0m12-2h0m21 7h0m6-1h0m9 0h0m14-2h0m3-1h0m12 3h0m6 0h0m15 0h0m6 3h0m12 0h0m11-5h0m9 0h0m9 1h0m-234 8h0m9-1h0m17 3h0m11-3h0m7 4h0m10-1h0m7 4h0m6-8h0m10-1h0m12 9h0m12-1h0m22-3h0m3 4h0m7-4h0m15-4h0m6 3h0m15 3h0m2-3h0m12 1h0m7 3h0m27-6h0m5 6h0m15-5h0m-252 15h0m7-1h0m12-8h0m11 9h0m6-3h0m14 2h0m5-1h0m8-5h0m14 8h0m10-8h0m6 5h0m9-3h0m10 2h0m15 1h0m2-4h0m15 5h0m6-3h0m8-3h0m9 4h0m14 1h0m6-1h0m12-6h0m21 1h0m10 9h0m8-5h0m15-2h0m16 4h0m-267 4h0m5-1h0m21 9h0m8-3h0m12-3h0m8 5h0m14-2h0m5 0h0m11-1h0m8 3h0m11-8h0m6 2h0m13 0h0m9 2h0m6-1h0m13 2h0m12 1h0m18-5h0m5 7h0m16 0h0m10-7h0m4 3h0m18 2h0m13-6h0m12 6h0m5-1h0m-261 9h0m6-1h0m8 2h0m16 1h0m42-3h0m14 5h0m8-1h0m9-5h0m6-1h0m14 1h0m5 4h0m13-6h0m6 2h0m10 4h0m10-6h0m13 1h0m6 2h0m14-3h0m4 7h0m13-7h0m11 6h0m5-2h0m13 2h0m6-1h0m11 3h0m-268 2h0m32 5h0m5-5h0m15 8h0m17-2h0m8-3h0m24 5h0m3-7h0m15 7h0m6-4h0m12 4h0m8-3h0m8-4h0m6 4h0m14 0h0m13-4h0m13 1h0m12 6h0m7-4h0m11-1h0m9 0h0m13-1h0m7 5h0m12-2h0m-257 7h0m5 0h0m11-2h0m8 0h0m12 0h0m13 4h0m4-4h0m7 6h0m22-1h0m7-1h0m21-3h0m16 1h0m2 3h0m12-6h0m7 4h0m15 1h0m9-3h0m15 5h0m12-7h0m10 2h0m8-1h0m11 6h0m12-6h0m8 1h0m-243 14h0m12-1h0m11 0h0m9 2h0m12-4h0m3 4h0m22-8h0m13 5h0m10-4h0m2 3h0m18 2h0m5-1h0m8 3h0m14-7h0m6 7h0m7 1h0m8-4h0m17-1h0m9 4h0m6 1h0m15-4h0m5-1h0m8-3h0m12 7h0m-222 10h0m15-5h0m9 2h0m12 3h0m13-3h0m11-1h0m12 0h0m9-5h0m5 2h0m8-1h0m13 7h0m13-2h0m28-3h0m7 3h0m5-4h0m11-1h0m14 2h0m5 2h0m10 4h0m16-1h0m-200 10h0m5-5h0m6 0h0m17-3h0m8 8h0m12-6h0m15-1h0m6-1h0m11 9h0m8 0h0m18-7h0m9 5h0m19-2h0m12 0h0m10 1h0m8 0h0m17-2h0m5-4h0m-185 10h0m16 8h0m9-5h0m19 4h0m11-2h0m7-1h0m10 4h0m8-1h0m10-2h0m11-3h0m9-2h0m12 2h0m8 6h0m9-5h0m9 0h0m4 4h0m12-7h0m10 5h0m-172 5h0m23 0h0m12 5h0m10 1h0m8-2h0m5-2h0m11 1h0m5-2h0m15 4h0m6-2h0m9 5h0m16-9h0m4 5h0m7-2h0m18 2h0m6 0h0m9-2h0m5 0h0m-142 11h0m17 3h0m11-5h0m2-2h0m12 1h0m14-1h0m27 0h0m14 0h0m18 1h0m-113 10h0m15 0h0m6 1h0m5-1h0m16 0h0m11-1h0m10 0h0m2-1h0m12 5h0m13 1h0m19-5h0m11 7h0m-130 4h0m11 0h0m17 1h0m16 3h0m9-3h0m4 4h0m16-2h0m28-1h0m10 3h0m5-4h0m10-3h0m6 1h0m-118 9h0m9 0h0m15 5h0m15-3h0m7 5h0m12-2h0m16 3h0m7-6h0m12 5h0m12-2h0m9-3h0m-110 15h0m24 1h0m6-2h0m11-4h0m21-4h0m16 9h0m8-6h0m13 6h0m-86 5h0m10 0h0m8 0h0m22-3h0m4 2h0m24 3h0m11-5h0m-87 10h0m9 6h0m13-7h0m5 0h0m20 1h0m20 4h0m8 3h0m9-5h0m5-3h0m-86 11h0m13 6h0m9-3h0m10 1h0m25-4h0m6 3h0m10 1h0m6-3h0m-75 11h0m14-1h0m9 6h0m9-7h0m3 2h0m15 4h0m9-4h0m19 1h0m-76 4h0m12 4h0m8-1h0m16-2h0m14 8h0m10-7h0m1 0h0m18-2h0m-79 14h0m13-3h0m10 2h0m8 2h0m7-2h0m9-2h0m13 4h0m3-4h0m7 8h0m-70 7h0m8 1h0m13-8h0m3 4h0m10 0h0m8-2h0m14 2h0m12-2h0m8 0h0m-74 13h0m2 3h0m17-4h0m3-4h0m17 4h0m2 1h0m17 1h0m2-5h0m17 4h0m-83 8h0m9-3h0m21 2h0m6 2h0m17-2h0m5 4h0m11-3h0m10 1h0m-76 7h0m14 3h0m7-3h0m7 2h0m10-3h0m7 4h0m15 3h0m5 0h0m10-5h0m-66 13h0m8-5h0m13 4h0m7 2h0m11-1h0m6-6h0m14 3h0m-47 8h0m10-2h0m4 4h0m17 3h0m2-3h0m-33 14h0m5-8h0m9 8h0m23-8h0m-42 12h0m14-1h0m7-1h0m10 3h0m14-4h0m-36 12h0m17 0h0m1 1h0m-14 14h0m6 0h0m8-2h0m-27 10h0m15-6h0m3 6h0m14-1h0m11-5h0m-41 12h0m10 0h0m7-3h0m8 6h0m14-1h0m-35 12h0m19-4h0m8 2h0m12 1h0m-41 3h0m10 4h0m7 3h0m12-3h0m5-4h0m-35 9h0m24 4h0m5-3h0m9 5h0m-34 10h0m5 2h0m10-2h0m5-1h0m17-2h0m-37 7h0m2 4h0m10-2h0m13 2h0m8-5h0m-27 12h0m8 0h0m15 0h0m-33 9h0m11 2h0m5 1h0m15 1h0m6 0h0m-27 8h0m7-4h0m8 9h0m-18 8h0m12-5h0m6 6h0m-11 8h0m7 1h0m8-7h0m-17 14h0m16-6h0m-21 19h0m13-9h0m10 5h0m-16 8h0m5 1h0m11-3h0m-25 9h0m24 1h0m-23 15h0m21-2h0m-17 6h0m10 0h0m12 0h0m-21 10h0m7 5h0m8-1h0m-21 8h0m13 2h0m9-4h0m-15 8h0m6 6h0m9-6h0m-10 14h0m-2 9h0m6 8h0m0 10h0m0 9h0m-4 10h0m2 9h0m1 10h0m0 9h0" stroke="#55a630" stroke-width="14.4" stroke-linecap="round" fill="none"/>
<path transform="scale(.1)" d="M3566 5597h0m1 10h0m0 9h0m2 10h0m-3 9h0m0 19h0m1 10h0m-1 9h0m1 10h0m4 9h0m-2 10h0m1 8h0m1 11h0m-11 9h0m7 5h0m10-1h0m-30 10h0m10-3h0m12-1h0m6 2h0m8 2h0m-37 10h0m12-4h0m10-2h0m9 6h0m10-9h0m-45 16h0m3 0h0m20-5h0m8 3h0m11-3h0m15 2h0m-62 7h0m7 8h0m18-7h0m11-1h0m12-1h0m15 1h0m-66 11h0m16-2h0m3 3h0m16 5h0m11-2h0m3 0h0m11-6h0m-59 14h0m13-4h0m7 4h0m7 0h0m10-5h0m10 6h0m14 3h0m-53 10h0m4-7h0m12 5h0m6-4h0m7-3h0m10 6h0m11-6h0m-57 14h0m10 1h0m15 3h0m5-4h0m6-1h0m11-3h0m15 2h0m-59 15h0m7 1h0m7-3h0m12 1h0m7-3h0m14-3h0m10-1h0m-44 9h0m3 5h0m12 2h0m6-6h0m9 7h0m-42 10h0m3-3h0m17-1h0m7 3h0m10-3h0m12 4h0m10-6h0m-63 11h0m16 1h0m2-2h0m10 1h0m35 5h0m-59 1h0m5 6h0m12-2h0m10 4h0m6-4h0m11 4h0m11-2h0m-54 8h0m6-5h0m14 1h0m6 3h0m14 2h0m9-3h0m8 3h0m-67 11h0m9-4h0m13 2h0m16 3h0m11-9h0m8 6h0m11-5h0m9 7h0m-88 4h0m6 4h0m10-1h0m9 4h0m35-3h0m6 0h0m7-1h0m18 2h0m-104 9h0m12 0h0m13-5h0m5 3h0m6 1h0m13-1h0m10 3h0m12-3h0m12-4h0m4 5h0m12-2h0m5 2h0m12-1h0m-112 8h0m8-1h0m14-1h0m4 2h0m7 1h0m13-1h0m14 1h0m10-1h0m12 3h0m11 1h0m13-1h0m6 2h0m-114 10h0m11-2h0m11 0h0m12 0h0m3-1h0m10-2h0m15 0h0m9-2h0m2-2h0m12 9h0m13-5h0m5 4h0m11-5h0m-115 16h0m18-7h0m10 1h0m10 3h0m10 1h0m24-3h0m3 1h0m11 2h0m10 2h0m10-3h0m8 2h0m-111 7h0m13 4h0m5-6h0m5-3h0m10 8h0m17-8h0m9-1h0m5 2h0m13-1h0m9 0h0m6 4h0m8 0h0m9-3h0m-119 14h0m6-2h0m9-3h0m9 1h0m15 6h0m10-3h0m4-4h0m14 1h0m7 2h0m10 3h0m11-3h0m12 5h0m8-3h0m4-1h0m11-3h0m-130 13h0m11 1h0m3 1h0m17-2h0m12 0h0m11 3h0m16-4h0m3 3h0m10 1h0m11-5h0m10 2h0m11-3h0m5 0h0m13 1h0m-136 13h0m15-3h0m5 0h0m8 0h0m12 1h0m7 0h0m10 1h0m16 0h0m3 2h0m7 0h0m13-5h0m13 0h0m7 5h0m20-7h0m-146 14h0m8 0h0m15-1h0m12-3h0m10 7h0m7 0h0m10-4h0m5-4h0m9 5h0m12 3h0m10-5h0m7 1h0m8 4h0m9-2h0m14-6h0m10 7h0m10-1h0m-167 7h0m11-1h0m14 3h0m4-1h0m22-4h0m12 3h0m7-1h0m12-2h0m7 8h0m13-1h0m11-8h0m9 0h0m11 7h0m0-2h0m13-1h0m7-4h0m17 8h0m7-5h0m-169 7h0m9 8h0m10-8h0m2 1h0m9 2h0m12 2h0m21-2h0m6 0h0m12 5h0m11-5h0m13 4h0m2-2h0m12-6h0m15 6h0m3-2h0m11-1h0m12 6h0m11-3h0m-181 13h0m7-3h0m11-3h0m7 3h0m10-2h0m12 0h0m11 3h0m10-6h0m6 3h0m13-1h0m8 3h0m9-3h0m9 3h0m7 3h0m9-1h0m10-2h0m14 0h0m5-6h0m6 9h0m14-2h0m6 1h0m-198 2h0m10 8h0m7-9h0m25 1h0m7 8h0m13-3h0m3 0h0m11 2h0m13-3h0m8 1h0m12 4h0m4-2h0m9-2h0m16 0h0m3-2h0m11-2h0m13 7h0m9-1h0m5-1h0m34-5h0m-208 8h0m4 5h0m8 4h0m16-1h0m11-8h0m5 0h0m10 7h0m5 1h0m13-7h0m10 1h0m22-1h0m8 5h0m9 2h0m13-8h0m1 7h0m18 2h0m6-6h0m11-1h0m2-2h0m17 8h0m4-1h0m17-1h0m-223 6h0m23-2h0m9 3h0m3-1h0m16 2h0m16 3h0m7-7h0m11 3h0m13-1h0m8 1h0m12 2h0m14-2h0m8-1h0m16-2h0m8 1h0m8 5h0m7-2h0m11-1h0m7 0h0m13 3h0m9-4h0m6-1h0m-241 9h0m3 2h0m8 1h0m18-2h0m14 1h0m9-1h0m9 3h0m10-1h0m15 3h0m3 0h0m13-2h0m7-5h0m25 4h0m15 0h0m6-2h0m15 7h0m12-1h0m9-7h0m12 4h0m14-3h0m4 3h0m14-2h0m11 4h0m12-2h0m8-1h0m-262 8h0m7 3h0m18-5h0m3 2h0m17 3h0m2-5h0m17 3h0m9-3h0m5 1h0m12 0h0m6 4h0m14-2h0m11 2h0m19 0h0m5 3h0m11-3h0m3-4h0m18 6h0m2-7h0m9 5h0m18-5h0m7 5h0m5 3h0m15-4h0m14-2h0m-243 13h0m12-6h0m6 6h0m11 2h0m4-1h0m9-3h0m11-2h0m22 4h0m12 3h0m2-6h0m25 3h0m12 0h0m5 0h0m21-4h0m5 2h0m12-3h0m9 5h0m8-3h0m9 2h0m11-5h0m7 1h0m16 8h0m4-1h0m8-7h0m-246 14h0m14 3h0m11-7h0m11 6h0m15-3h0m12 3h0m5-1h0m17-7h0m15 10h0m9-4h0m13 2h0m1 1h0m16-1h0m4-4h0m16 6h0m7-1h0m9-7h0m8 3h0m9 3h0m10-1h0m12 2h0m7-3h0m6 0h0m13-5h0m8 6h0m-261 11h0m4-2h0m15-4h0m6 2h0m12-3h0m4 1h0m17 0h0m3 2h0m9 0h0m16-3h0m2 1h0m17 7h0m6-4h0m14 4h0m15-3h0m13-5h0m9 0h0m8 0h0m4 1h0m16 4h0m8-3h0m9 3h0m19 3h0m5-2h0m14-5h0m18 3h0m11-1h0m7 1h0m-257 7h0m10 4h0m11 1h0m5 0h0m16 1h0m7-3h0m8 1h0m9-7h0m13 2h0m5 7h0m17-6h0m7 0h0m11 0h0m7 5h0m10-3h0m9-1h0m8 6h0m7-6h0m15-3h0m7 7h0m14 0h0m15-2h0m7 2h0m7 0h0m-230 11h0m10-5h0m8 3h0m7-5h0m14-2h0m18 5h0m9 3h0m3-7h0m10 2h0m18 6h0m4-5h0m17 1h0m12 1h0m14-2h0m9 0h0m8 4h0m6-6h0m9 0h0m13-2h0m22 3h0m2-1h0m8 2h0m12 3h0m15-5h0m-252 12h0m12 3h0m13-3h0m15-3h0m10 3h0m5-2h0m15 4h0m19 0h0m11 2h0m5-4h0m12 3h0m9-6h0m4 3h0m18 0h0m3-5h0m11 4h0m13 4h0m8-2h0m9-1h0m4 3h0m11-1h0m12-6h0m16 6h0m11-3h0m-232 12h0m3-1h0m15-3h0m6 0h0m13 3h0m11-5h0m4 2h0m9 2h0m9-1h0m23 6h0m7 0h0m8-4h0m13-5h0m9 3h0m12-2h0m9 6h0m12 0h0m8-1h0m7 1h0m9 0h0m12 1h0m4 0h0m10-8h0m11 4h0m-243 7h0m9-2h0m4 8h0m9-7h0m15 0h0m13 6h0m14-4h0m16 2h0m10 2h0m12-3h0m9-3h0m7 3h0m13 3h0m7-1h0m9 2h0m13-3h0m8 3h0m9-4h0m11-1h0m12 0h0m24-2h0m17 8h0m14-5h0m9-2h0m-271 13h0m9 3h0m11-8h0m9 4h0m10 4h0m15-6h0m9 5h0m12-3h0m13 4h0m7-3h0m15 1h0m10-1h0m8-2h0m6-1h0m14-2h0m7 8h0m11-1h0m13-5h0m4 0h0m22 6h0m5-2h0m13-4h0m12 6h0m9-8h0m2 4h0m10 4h0m14-1h0m-262 9h0m7-2h0m11-2h0m3 2h0m10 4h0m15-7h0m17 7h0m9-5h0m12 4h0m9-4h0m3 0h0m14 0h0m9 3h0m14-4h0m8 0h0m5-1h0m12 1h0m14 2h0m4 0h0m7 3h0m11-4h0m7 2h0m15-1h0m8 1h0m13-3h0m10 2h0m6 4h0m10-2h0m-246 12h0m5-7h0m13 4h0m13-2h0m16-2h0m5 6h0m17-2h0m2 2h0m9-3h0m17 3h0m8-5h0m3-2h0m16 2h0m25 5h0m14-1h0m9-5h0m7 4h0m9 2h0m7 0h0m8-1h0m13-3h0m8-2h0m-216 11h0m11-2h0m7 2h0m11 3h0m12-3h0m7 0h0m22 1h0m1 1h0m15-2h0m6-1h0m11 1h0m11 2h0m9 1h0m14-1h0m9 4h0m2-3h0m11 1h0m12-5h0m7 0h0m16 6h0m8-2h0m9-4h0m-200 16h0m16-5h0m15 4h0m8 0h0m8 1h0m7-6h0m10-2h0m11 4h0m16-5h0m13 5h0m27-5h0m6 4h0m10 0h0m10 2h0m19-2h0m17 3h0m-207 10h0m12-5h0m14 1h0m8-3h0m3 0h0m13 5h0m8-5h0m6 8h0m12-6h0m7 2h0m18 0h0m5-3h0m23-1h0m10 9h0m4-2h0m12 0h0m12-6h0m3 1h0m17-2h0m8 2h0m4 7h0m15-6h0m-251 6h0m12 2h0m22 4h0m7-4h0m8 7h0m11-1h0m10 1h0m6-7h0m15 1h0m2 4h0m12-6h0m14 3h0m5 1h0m15-2h0m6 1h0m6 1h0m15 3h0m8-1h0m12 0h0m6 2h0m22-9h0m4 2h0m20 4h0m11-5h0m13 1h0m3 1h0m15 2h0m4 0h0m-277 11h0m12-1h0m11 0h0m7 3h0m9 0h0m16-7h0m9 4h0m9 0h0m10 3h0m10-5h0m8-1h0m10-1h0m11 3h0m12 0h0m15 2h0m13 3h0m10-3h0m15-2h0m8-4h0m4 9h0m15-8h0m7 4h0m24 0h0m7 0h0m6-2h0m15 3h0m-277 9h0m11 1h0m5-3h0m7-3h0m16 3h0m2-3h0m11 7h0m16-6h0m9 3h0m7-3h0m9 3h0m9 3h0m14 1h0m1-7h0m21 5h0m10-4h0m10-1h0m9 3h0m14-1h0m4 4h0m11-3h0m10-2h0m11 5h0m10-5h0m9 4h0m12-5h0m5 1h0m8 2h0m9 4h0m13-7h0m-265 8h0m11 2h0m5 4h0m13-2h0m5 0h0m16-4h0m16 6h0m7-6h0m8 7h0m17-4h0m7-3h0m9 6h0m15-4h0m17 2h0m5-1h0m19-2h0m5 7h0m18-4h0m6-3h0m5 5h0m15-3h0m7 5h0m10-1h0m8 1h0m-243 4h0m4 0h0m14 2h0m5-4h0m12 3h0m7-2h0m16 4h0m13-4h0m18 1h0m1 1h0m12 0h0m7-3h0m16 3h0m5 2h0m10 1h0m15-3h0m18-3h0m7 7h0m14-2h0m15-6h0m8 8h0m7-1h0m17-1h0m7 2h0m-243 2h0m14 7h0m4-5h0m14 5h0m4-5h0m23 6h0m10-5h0m12 0h0m13 6h0m10-9h0m14 4h0m11-3h0m8 8h0m6-8h0m15 1h0m11 1h0m12 6h0m12-5h0m15 0h0m15 0h0m12 3h0m-223 9h0m13 1h0m10-8h0m6 5h0m8 0h0m6-2h0m19-2h0m7 8h0m10-3h0m10-1h0m7-1h0m10 1h0m8-1h0m6-4h0m14 0h0m5 2h0m9 0h0m17 5h0m7 0h0m12-3h0m10-2h0m8 2h0m6-4h0m-199 10h0m10 0h0m9 2h0m9-2h0m26 4h0m11 2h0m9-3h0m18-3h0m12 1h0m9 7h0m10-9h0m15 3h0m5 0h0m20 0h0m11 2h0m13 3h0m-194 11h0m10-3h0m7-4h0m11-1h0m8 2h0m9 0h0m9 1h0m23 1h0m11 1h0m9-4h0m1 4h0m17 2h0m10-6h0m3-1h0m9 6h0m17 2h0m17-5h0m19 1h0m8-5h0m6 3h0m-206 10h0m14-3h0m8 2h0m10 2h0m5 2h0m12-3h0m4 3h0m11-1h0m12 3h0m16-7h0m17 4h0m8 0h0m5-1h0m10 4h0m11-5h0m8 3h0m12-6h0m10 5h0m4-1h0m17 3h0m18-3h0m-199 6h0m10 3h0m9 2h0m9-1h0m4-1h0m8 2h0m12 1h0m14-2h0m9-3h0m10 3h0m10-1h0m4 0h0m19-4h0m11 3h0m9-1h0m11 3h0m10 4h0m11-5h0m7 3h0m15-1h0m-193 4h0m9 1h0m11 7h0m3-7h0m27 2h0m1 4h0m11 0h0m13-1h0m10-1h0m6-1h0m21 1h0m11-1h0m5 1h0m15-4h0m9 4h0m11-2h0m6-2h0m14 5h0m6-6h0m-197 16h0m15-2h0m14-1h0m9-2h0m7-1h0m31 2h0m7 0h0m7-1h0m12-1h0m18 7h0m10-6h0m9 5h0m14 2h0m4-7h0m13 4h0m21-1h0m15 2h0m-196 3h0m2 5h0m8-4h0m16 8h0m6-3h0m12 1h0m8-4h0m11 3h0m11-5h0m7 2h0m20 2h0m5-1h0m11 3h0m25-7h0m10 3h0m8-3h0m2 5h0m24 1h0m-173 4h0m9 1h0m9 2h0m15-1h0m8 4h0m7-1h0m23 3h0m4-2h0m16-4h0m2-1h0m9 5h0m15-6h0m12 6h0m2-6h0m11 4h0m10 4h0m-154 5h0m16 0h0m4-2h0m8 2h0m18-3h0m5-1h0m10 9h0m13-7h0m18 6h0m9-5h0m6-3h0m9 8h0m9 0h0m14-8h0m12 6h0m7 0h0m-150 10h0m3 0h0m8-3h0m16 3h0m7 0h0m6-7h0m9 1h0m9 7h0m32-1h0m6 2h0m21-8h0m20 2h0m15 0h0m-150 8h0m9 5h0m15-3h0m20 2h0m8-1h0m4 2h0m17 0h0m8 0h0m12-4h0m19 4h0m5 2h0m10-4h0m7 2h0m-127 7h0m8 2h0m12-6h0m1 6h0m18-5h0m27 2h0m5-1h0m6 3h0m13-1h0m9-2h0m7 0h0m10-2h0m17 7h0m-127 11h0m12-5h0m6 0h0m6 4h0m17-4h0m7-1h0m5 5h0m9-1h0m10 3h0m13-6h0m22-2h0m3 2h0m-100 12h0m10-5h0m8 7h0m9-4h0m13-1h0m13-2h0m13 1h0m8 6h0m6 0h0m14-8h0m-84 17h0m10 2h0m9 0h0m12-9h0m6 6h0m11-6h0m8 6h0m10 1h0m11-5h0m-74 10h0m7 6h0m4-5h0m11 2h0m11 0h0m14-3h0m10 2h0m8 2h0m11-1h0m-84 9h0m14 4h0m11-2h0m17-6h0m5 6h0m12-8h0m8 9h0m13-7h0m-66 10h0m13 6h0m10-6h0m4 0h0m11 0h0m8 3h0m13 2h0m-52 6h0m16 6h0m4-5h0m12 1h0m5-3h0m-29 14h0m15 2h0m5-7h0m-3 12h0m-6 9h0" stroke="#b99d3c" stroke-width="14.4" stroke-linecap="round" fill="none"/>
<path d="M314.5 565.7V600.4M307.6 565.7H321.4M307.6 600.4H321.4" stroke="#000" stroke-width="1.05" fill="none"/>
<line x1="300.7" y1="583.3" x2="328.3" y2="583.3" stroke="#000" stroke-width="1.7"/>
<path d="M356.7 596.2V630.4M349.8 596.2H363.6M349.8 630.4H363.6" stroke="#000" stroke-width="1.05" fill="none"/>
<line x1="342.9" y1="613.5" x2="370.5" y2="613.5" stroke="#000" stroke-width="1.7"/>
<line x1="286.6" y1="516.2" x2="286.6" y2="664" stroke="#1c1c1c" stroke-width="1.15"/>
<line x1="281.3" y1="516.8" x2="286.6" y2="516.8" stroke="#1c1c1c" stroke-width="1.15"/>
<text x="279.1" y="520.2" font-size="9.5" text-anchor="end">5</text>
<line x1="281.3" y1="546.1" x2="286.6" y2="546.1" stroke="#1c1c1c" stroke-width="1.15"/>
<text x="279.1" y="549.5" font-size="9.5" text-anchor="end">4</text>
<line x1="281.3" y1="575.4" x2="286.6" y2="575.4" stroke="#1c1c1c" stroke-width="1.15"/>
<text x="279.1" y="578.9" font-size="9.5" text-anchor="end">3</text>
<line x1="281.3" y1="604.8" x2="286.6" y2="604.8" stroke="#1c1c1c" stroke-width="1.15"/>
<text x="279.1" y="608.2" font-size="9.5" text-anchor="end">2</text>
<line x1="281.3" y1="634.1" x2="286.6" y2="634.1" stroke="#1c1c1c" stroke-width="1.15"/>
<text x="279.1" y="637.5" font-size="9.5" text-anchor="end">1</text>
<line x1="281.3" y1="663.4" x2="286.6" y2="663.4" stroke="#1c1c1c" stroke-width="1.15"/>
<text x="279.1" y="666.8" font-size="9.5" text-anchor="end">0</text>
<line x1="286.1" y1="663.4" x2="385" y2="663.4" stroke="#1c1c1c" stroke-width="1.15"/>
<line x1="314.5" y1="663.4" x2="314.5" y2="668.4" stroke="#1c1c1c" stroke-width="1.15"/>
<line x1="356.7" y1="663.4" x2="356.7" y2="668.4" stroke="#1c1c1c" stroke-width="1.15"/>
<text x="266.4" y="587.4" font-size="8.9" text-anchor="middle" transform="rotate(-90 266.4 587.4)">FRP1 expression level</text>
<text x="336" y="499.7" font-size="9.25" text-anchor="middle">FPR1<tspan dy="-3.2" font-size="5.8">high</tspan><tspan dy="3.2"> myeloid cells</tspan></text>
<text x="332.6" y="523.1" font-size="9.4" text-anchor="middle"><tspan font-style="italic">p</tspan> = 6.97e-255</text>
<line x1="314" y1="527.4" x2="354.4" y2="527.4" stroke="#1c1c1c" stroke-width="1.15"/>
<text x="316" y="679" font-size="9.4" text-anchor="middle">MDSCs</text>
<text x="358.6" y="679" font-size="9.4" text-anchor="middle">TAM</text>
<text x="402.5" y="465.2" font-size="13" font-weight="bold" fill="#1a1a1a">k</text>
<path transform="scale(.1)" d="M4664 5431h0m1 8h0m-21 15h0m19 8h0m15-2h0m-35 13h0m20 2h0m18-9h0m-36 13h0m18 9h0m21 0h0m-15 9h0m-14 20h0m3-9h0m27 3h0m-35 12h0m11 0h0m18 4h0m-25 17h0m12-10h0m17 11h0m-29 8h0m5 4h0m20-7h0m-24 10h0m7 1h0m13 9h0m-21 3h0m2 9h0m19 3h0m-35 5h0m9-3h0m13 7h0m9 4h0m19 1h0m-36 6h0m9 3h0m16-1h0m-31 12h0m11-2h0m26 3h0m-36 7h0m15 0h0m16 8h0m-63 14h0m19 1h0m5-1h0m18-3h0m16-1h0m16 3h0m14-3h0m-83 9h0m15 4h0m16-1h0m9 6h0m13-5h0m17 7h0m11-7h0m-71 12h0m16 0h0m20 0h0m15 6h0m15-4h0m-71 13h0m18 0h0m17 1h0m11-5h0m27 12h0m-90 14h0m12-2h0m11-7h0m11-3h0m16 10h0m24-1h0m15 2h0m2-2h0m17-6h0m-128 17h0m20 1h0m4 3h0m23-7h0m12 7h0m18 1h0m16-12h0m15 0h0m7 7h0m18 3h0m8-10h0m-164 26h0m15-6h0m18-2h0m19 0h0m11-3h0m21 3h0m7 0h0m24 0h0m13 1h0m13 4h0m18-4h0m13 4h0m8-4h0m-190 20h0m14 0h0m13-6h0m24 3h0m14 0h0m12-8h0m7 1h0m15-1h0m28 1h0m14-1h0m13 10h0m13-1h0m18-3h0m5 3h0m28-9h0m-227 15h0m6 5h0m17-3h0m15 1h0m17 7h0m19-11h0m15 7h0m11 0h0m10-8h0m26 6h0m12-4h0m7 5h0m16 2h0m16 0h0m23-2h0m6-8h0m19 5h0m-260 14h0m24-3h0m11 6h0m20 3h0m10-2h0m14 1h0m16-7h0m18 6h0m17-6h0m6-1h0m24 10h0m15-8h0m13-3h0m17 3h0m11 5h0m12-3h0m13 2h0m17-1h0m11-4h0m-243 22h0m16-7h0m12-1h0m13 7h0m17 2h0m12-11h0m12 8h0m18-7h0m16 0h0m15-1h0m8 3h0m21 3h0m13-4h0m10 6h0m22 0h0m10-5h0m25-4h0m-231 16h0m13 1h0m18 6h0m19-9h0m4 0h0m24 1h0m11 8h0m20-2h0m9-6h0m18 0h0m18-2h0m17 12h0m10-4h0m21 1h0m5 2h0m-189 2h0m14 7h0m12-4h0m9 4h0m21 1h0m22-6h0m11-1h0m9 0h0m25 4h0m12-3h0m14 11h0m17-8h0m16 8h0m-180 7h0m10-5h0m9 1h0m21 7h0m14-1h0m15 2h0m11 2h0m18-7h0m18-2h0m10 7h0m18-8h0m11 3h0m15-5h0m-190 14h0m14 5h0m9 0h0m15 7h0m16-6h0m23-2h0m6 5h0m26-4h0m8-2h0m23 5h0m4 0h0m22-9h0m8 2h0m14 7h0m28-6h0m-194 17h0m14 6h0m6-4h0m12-4h0m15 1h0m24 7h0m16-2h0m12 2h0m13-9h0m16 0h0m18 5h0m10-2h0m12 3h0m-186 13h0m7 3h0m25 0h0m15-2h0m7-9h0m24 1h0m2-1h0m17 0h0m21 7h0m9 5h0m20-7h0m16 5h0m8-8h0m25-1h0m3 11h0m-193 13h0m19-9h0m18 5h0m19-4h0m8-3h0m17 10h0m15-5h0m8-2h0m15 3h0m20 1h0m12-4h0m17 1h0m11-2h0m-171 22h0m14 1h0m12 0h0m23-6h0m7 7h0m13-1h0m12-3h0m21-1h0m19-5h0m9 6h0m14-8h0m17-1h0m11 9h0m-172 17h0m18-8h0m6 1h0m19-1h0m11 1h0m23-2h0m15-4h0m10 7h0m8-5h0m21 11h0m23-13h0m1 6h0m20-6h0m-166 17h0m17 0h0m15 5h0m22 2h0m4-1h0m20 1h0m12-9h0m20 10h0m13-3h0m20-1h0m9-1h0m-139 9h0m27 5h0m6-1h0m16 7h0m13-6h0m23 4h0m12-11h0m14 6h0m11 3h0m-114 9h0m18 8h0m4 0h0m18-2h0m14 2h0m15-8h0m12-1h0m15-1h0m16-2h0m-115 23h0m17 1h0m10 2h0m15-7h0m19-6h0m21 2h0m3 11h0m22-11h0m6 8h0m-93 15h0m17-5h0m2-2h0m18-3h0m12 3h0m15-2h0m28 11h0m-90 3h0m15 3h0m5-6h0m22 10h0m10-3h0m17 4h0m10-3h0m-91 18h0m15-9h0m13 9h0m28-11h0m15 9h0m12-4h0m16-6h0m-93 19h0m16-2h0m11 0h0m19 9h0m18-2h0m17-8h0m2 3h0m-67 11h0m12 3h0m22 7h0m8-5h0m10-3h0m-49 18h0m15-5h0m8-2h0m23 3h0m15 3h0m-66 10h0m17 6h0m8-9h0m22-1h0m7 3h0m-57 9h0m24 7h0m14 4h0m9-2h0m10 3h0m-33 5h0m14 4h0m4-7h0m-26 13h0m12 3h0m18 4h0m-26 12h0m20 4h0m2-4h0m-20 21h0m4-7h0m21 6h0m-30 9h0m12-3h0m13 4h0m-31 17h0m23-11h0m10 5h0m-29 20h0m18-10h0m12 9h0m-18 9h0m10 18h0m-1 8h0m-6 14h0m-2 18h0m12 4h0m-16 17h0m4-5h0m20 5h0m-37 14h0m17-2h0m16 6h0m-16 10h0m2 14h0m0 13h0m4 14h0m-1-1014h0m0 73h0" stroke="#55a630" stroke-width="25" stroke-linecap="round" fill="none"/>
<path transform="scale(.1)" d="M5067 5757h0m16 10h0m21-2h0m-39 10h0m14-5h0m16 11h0m-21 3h0m12 7h0m18 2h0m-41 10h0m21-6h0m15-1h0m-44 17h0m15 8h0m14-7h0m14-3h0m13 9h0m-64 3h0m19 6h0m16 7h0m16-11h0m18 1h0m-65 17h0m12-7h0m25 8h0m8-6h0m17-2h0m-56 25h0m16 1h0m8 0h0m17 0h0m18-2h0m-63 4h0m23 3h0m1-2h0m20 2h0m11 9h0m-70 3h0m9-1h0m17-1h0m16 13h0m19-3h0m22-4h0m4-1h0m-90 20h0m19-12h0m11 2h0m25 0h0m15 5h0m8 5h0m18-2h0m-88 10h0m7 5h0m25-7h0m13 4h0m11 0h0m12 4h0m25-12h0m-109 13h0m6 13h0m14-11h0m23 8h0m10-10h0m12 11h0m27-1h0m11 1h0m10-2h0m-119 16h0m18-5h0m8 1h0m27 0h0m8 2h0m10 1h0m16-4h0m25-3h0m7 3h0m-122 15h0m21-3h0m19-5h0m6 4h0m19 6h0m22-8h0m9 2h0m21 5h0m2-5h0m-112 16h0m14-6h0m20 4h0m17 4h0m10-5h0m13 8h0m21-1h0m8-9h0m20 3h0m-130 11h0m16 10h0m21-8h0m8 1h0m16 3h0m17-8h0m25 11h0m13 1h0m5-5h0m-115 14h0m19 5h0m13-4h0m15 2h0m19-5h0m15 4h0m5-5h0m26 7h0m7-6h0m-120 8h0m17 9h0m12 3h0m12-11h0m27 11h0m5-11h0m14 11h0m23-10h0m7 2h0m-109 11h0m11 5h0m8 0h0m13-6h0m15 0h0m18 11h0m21-3h0m18 1h0m10-1h0m-136 7h0m15-1h0m21 2h0m12 8h0m10-6h0m23-5h0m4 2h0m25 1h0m10 6h0m20 4h0m13-1h0m-146 6h0m13 3h0m12 4h0m15 0h0m6-3h0m27 0h0m16 0h0m14 3h0m16-3h0m11-2h0m20-2h0m-172 16h0m11-5h0m23 10h0m5 1h0m21-13h0m17 8h0m16-8h0m7 4h0m24 7h0m9-3h0m16 5h0m21-9h0m13 6h0m-195 9h0m5 6h0m19-2h0m20 1h0m15-7h0m6 0h0m28-2h0m3 11h0m15-10h0m24 9h0m6-7h0m28-3h0m13 0h0m7 6h0m20 4h0m-232 11h0m24-7h0m4 2h0m29 4h0m15-6h0m15 10h0m15-12h0m11 9h0m6-7h0m21 5h0m13 3h0m21-10h0m7 3h0m14 5h0m18 1h0m12-5h0m27-2h0m-254 14h0m25 10h0m5-9h0m20-2h0m16 3h0m11-5h0m23 6h0m9 2h0m18 5h0m10-5h0m21 2h0m13 1h0m9-8h0m21 1h0m11 1h0m21 8h0m21-9h0m-231 15h0m9 1h0m26 2h0m4 1h0m13 2h0m16 1h0m23-5h0m6-1h0m18 0h0m22 7h0m9-8h0m18 6h0m9-6h0m20 7h0m13-1h0m-215 13h0m14 2h0m2-13h0m22 6h0m17 3h0m13-1h0m8-2h0m16 4h0m19-6h0m11 5h0m28-7h0m9 4h0m12 4h0m18-7h0m9 4h0m21 1h0m15-5h0m-253 23h0m9-8h0m15 0h0m18 0h0m17 0h0m17 0h0m6-3h0m13-1h0m15 8h0m18-5h0m17 0h0m20 1h0m16-3h0m4 12h0m26-6h0m9-3h0m10 1h0m23 1h0m21-1h0m-259 13h0m10-2h0m14-1h0m22 8h0m8-1h0m16 3h0m23 0h0m14-2h0m13 2h0m14 1h0m11-12h0m19 8h0m8-2h0m18-1h0m22-4h0m3 8h0m26-4h0m-249 12h0m23 3h0m19 3h0m15 2h0m6-6h0m21 6h0m14-9h0m7 5h0m13 4h0m19-12h0m22 2h0m16 5h0m3-7h0m25 8h0m16-8h0m6 0h0m15 10h0m-224 3h0m17 8h0m20 4h0m14-10h0m7 10h0m24 0h0m8-9h0m17-2h0m19 11h0m16-1h0m11 0h0m10-9h0m20 10h0m21-7h0m11-2h0m-218 16h0m28-2h0m14-1h0m17 11h0m6-6h0m19-5h0m14-1h0m8 5h0m21-3h0m19-1h0m12 1h0m7 2h0m17 1h0m18 3h0m12 4h0m-198 2h0m6-1h0m20 5h0m6-4h0m21 9h0m12 1h0m22-1h0m7-9h0m23 10h0m11-5h0m9-2h0m23 3h0m13-6h0m10 2h0m22 1h0m-224 13h0m11 5h0m19-9h0m7 11h0m20-8h0m19-2h0m14 4h0m10 0h0m15-4h0m24 9h0m14-4h0m13-5h0m6 7h0m24-8h0m16 0h0m7 10h0m25-10h0m-248 20h0m22-7h0m8 11h0m17 2h0m20-4h0m13 1h0m6-10h0m16 5h0m21 1h0m7 2h0m26-4h0m4 1h0m21 1h0m10 6h0m17-7h0m20 1h0m13 3h0m-243 14h0m24-4h0m13-1h0m13 1h0m11-2h0m18 10h0m13-7h0m16 2h0m20 4h0m14 0h0m18-10h0m8 0h0m17 0h0m11 10h0m17-6h0m13-2h0m15 3h0m-222 12h0m16 1h0m15-1h0m7 1h0m23 4h0m14 2h0m21-7h0m2-5h0m22 2h0m9 6h0m23 4h0m17-12h0m7 5h0m21-3h0m7-2h0m-196 14h0m28 0h0m14 1h0m7 6h0m12 4h0m27-4h0m10-8h0m20 9h0m13-5h0m12-4h0m19 7h0m3-2h0m21 2h0m-160 13h0m10 2h0m13-5h0m15 6h0m24-7h0m6 9h0m13-9h0m18 0h0m19 6h0m6-2h0m16 1h0m-129 8h0m9 1h0m16 1h0m20 7h0m21-10h0m7 2h0m14 9h0m16-4h0m20-2h0m-133 11h0m4-1h0m23 0h0m11 10h0m21-10h0m3-1h0m22 5h0m13 2h0m18 1h0m18 1h0m18-10h0m-147 19h0m14 4h0m28 0h0m11-3h0m16-3h0m17 1h0m14-3h0m16 1h0m5 2h0m-113 11h0m6 1h0m23 4h0m6-4h0m20 9h0m24-3h0m15-4h0m7 4h0m21-1h0m-121 6h0m12 3h0m16-1h0m14-1h0m8 2h0m17-1h0m21 7h0m18-10h0m4 1h0m-95 13h0m7 3h0m24 1h0m13 3h0m13 0h0m10-5h0m26 6h0m-89 8h0m19 5h0m13-8h0m23 3h0m12 4h0m-56 8h0m15 7h0m13 2h0m13-10h0m9 8h0m-51 8h0m10 7h0m14-9h0m23 12h0m3-9h0m-38 21h0m14 1h0m20-1h0m-31 12h0m15 2h0m19 0h0m-22-888h0" stroke="#b99d3c" stroke-width="25" stroke-linecap="round" fill="none"/>
<path d="M466.5 567.4V598.5M459.6 567.4H473.4M459.6 598.5H473.4" stroke="#000" stroke-width="1.05" fill="none"/>
<line x1="452.7" y1="583" x2="480.3" y2="583" stroke="#000" stroke-width="1.7"/>
<path d="M508.6 599.3V629.8M501.7 599.3H515.5M501.7 629.8H515.5" stroke="#000" stroke-width="1.05" fill="none"/>
<line x1="494.8" y1="614.7" x2="522.4" y2="614.7" stroke="#000" stroke-width="1.7"/>
<line x1="438.8" y1="515.3" x2="438.8" y2="662.7" stroke="#1c1c1c" stroke-width="1.15"/>
<line x1="433.5" y1="515.9" x2="438.8" y2="515.9" stroke="#1c1c1c" stroke-width="1.15"/>
<text x="431.3" y="519.3" font-size="9.5" text-anchor="end">5</text>
<line x1="433.5" y1="545.1" x2="438.8" y2="545.1" stroke="#1c1c1c" stroke-width="1.15"/>
<text x="431.3" y="548.6" font-size="9.5" text-anchor="end">4</text>
<line x1="433.5" y1="574.4" x2="438.8" y2="574.4" stroke="#1c1c1c" stroke-width="1.15"/>
<text x="431.3" y="577.8" font-size="9.5" text-anchor="end">3</text>
<line x1="433.5" y1="603.6" x2="438.8" y2="603.6" stroke="#1c1c1c" stroke-width="1.15"/>
<text x="431.3" y="607" font-size="9.5" text-anchor="end">2</text>
<line x1="433.5" y1="632.9" x2="438.8" y2="632.9" stroke="#1c1c1c" stroke-width="1.15"/>
<text x="431.3" y="636.3" font-size="9.5" text-anchor="end">1</text>
<line x1="433.5" y1="662.1" x2="438.8" y2="662.1" stroke="#1c1c1c" stroke-width="1.15"/>
<text x="431.3" y="665.5" font-size="9.5" text-anchor="end">0</text>
<line x1="438.3" y1="662.1" x2="536.6" y2="662.1" stroke="#1c1c1c" stroke-width="1.15"/>
<line x1="466.5" y1="662.1" x2="466.5" y2="667.1" stroke="#1c1c1c" stroke-width="1.15"/>
<line x1="508.6" y1="662.1" x2="508.6" y2="667.1" stroke="#1c1c1c" stroke-width="1.15"/>
<text x="417.4" y="587.4" font-size="8.9" text-anchor="middle" transform="rotate(-90 417.4 587.4)">FPR2 expression level</text>
<text x="481.4" y="499.7" font-size="9.25" text-anchor="middle">FPR2<tspan dy="-3.2" font-size="5.8">high</tspan><tspan dy="3.2"> myeloid cells</tspan></text>
<text x="484" y="518.3" font-size="9.4" text-anchor="middle"><tspan font-style="italic">p</tspan> = 7.24e-127</text>
<line x1="466.3" y1="522.7" x2="506.7" y2="522.7" stroke="#6a6a6a" stroke-width="1.5"/>
<text x="468" y="679" font-size="9.4" text-anchor="middle">MDSCs</text>
<text x="510.6" y="679" font-size="9.4" text-anchor="middle">TAM</text>
<text x="544.5" y="465.2" font-size="13" font-weight="bold" fill="#1a1a1a">l</text>
<path transform="scale(.1)" d="M6048 5417h0m-1 52h0m-9 13h0m3 27h0m-6 26h0m15-1h0m20 13h0m-32 30h0m-13 14h0m32 5h0m-38 18h0m19-13h0m-2 33h0m35-14h0m-37 30h0m24-9h0m-15 17h0m32 15h0m-68 19h0m20 3h0m64-5h0m-173 32h0m20-15h0m7 13h0m25 3h0m29-10h0m14 1h0m13-6h0m30 14h0m10-11h0m43 10h0m19-2h0m17 0h0m20-9h0m15 9h0m-258 15h0m2-2h0m31-1h0m19 6h0m19-1h0m13 2h0m26 2h0m15-8h0m46-1h0m15 5h0m36-1h0m19 1h0m20-1h0m-278 8h0m31 1h0m18-3h0m12 0h0m37 3h0m42 7h0m16 5h0m39-8h0m40-7h0m13 9h0m24 1h0m-265 21h0m19-12h0m22 15h0m20-11h0m8-4h0m30 0h0m24 4h0m7-1h0m22 12h0m23-13h0m17 3h0m28 1h0m10-6h0m18 3h0m25 9h0m-280 13h0m36 4h0m7-11h0m19 8h0m26 0h0m9 3h0m27-8h0m19 3h0m23 2h0m32 5h0m21-15h0m17 9h0m23-1h0m24-2h0m-261 16h0m17 10h0m26-10h0m28-3h0m12 7h0m11 1h0m18-6h0m33 7h0m41 6h0m1-2h0m31 2h0m20-15h0m-236 31h0m40-13h0m12-1h0m20-1h0m32 15h0m29-5h0m31-4h0m23 4h0m34-1h0m13-5h0m-225 22h0m31 4h0m43-12h0m8 1h0m22 13h0m21-1h0m33-11h0m30 1h0m44 8h0m-231 8h0m10 1h0m24 2h0m10 9h0m32-7h0m13 3h0m24-4h0m43 9h0m33-16h0m21 11h0m11-2h0m-233 15h0m32-3h0m8 0h0m18 5h0m41 8h0m24-8h0m9 4h0m29 1h0m26-9h0m45 13h0m-229 6h0m18 7h0m17-8h0m33 7h0m20-12h0m27 1h0m30 8h0m2-7h0m27 15h0m29-10h0m20-2h0m-210 14h0m22 8h0m26-8h0m11 8h0m28 6h0m8-6h0m29-3h0m22 10h0m14-2h0m13-9h0m18 8h0m-176 10h0m43 2h0m22-7h0m15 3h0m26-2h0m17 12h0m31-2h0m12-4h0m24 4h0m-192 11h0m13-3h0m62 3h0m36-5h0m63 16h0m14-12h0m-193 20h0m11 4h0m32-9h0m9 11h0m33 1h0m38-6h0m10 6h0m21 3h0m10-2h0m25-14h0m-187 25h0m16-4h0m15 6h0m30-6h0m9 13h0m31-6h0m5 3h0m17-11h0m55 0h0m17 3h0m-193 26h0m22-8h0m34-3h0m14-3h0m20 8h0m19 9h0m29-5h0m12 1h0m20-2h0m17-7h0m-193 23h0m26-5h0m11 7h0m45 5h0m20-2h0m17-11h0m25 0h0m12 3h0m35-4h0m-166 30h0m18-9h0m37 6h0m25-9h0m8 7h0m17 0h0m20-10h0m25 14h0m-174 10h0m29-2h0m13 12h0m76-14h0m39 9h0m8-4h0m33 9h0m-180 15h0m30-11h0m17 5h0m110-7h0m-148 30h0m21 3h0m20-15h0m46 6h0m26-7h0m15 5h0m11 4h0m-128 19h0m30 5h0m33-11h0m31 7h0m30-6h0m-118 25h0m11-8h0m23-5h0m14 11h0m35-4h0m36 1h0m-125 25h0m46-17h0m10 1h0m21 6h0m12-3h0m36 4h0m-127 27h0m23-16h0m24 6h0m22 4h0m2-11h0m26 15h0m27 1h0m-122 19h0m28-15h0m11 14h0m15-9h0m23-3h0m13-2h0m25-1h0m-87 19h0m40 7h0m24 6h0m-63 2h0m26 13h0m28-11h0m14 14h0m-83 12h0m24-3h0m30-4h0m5 5h0m28-7h0m-80 28h0m36-4h0m27-8h0m13 0h0m-66 22h0m31 11h0m14-7h0m-32 25h0m24-11h0m4 11h0m-28 10h0m23-4h0m12 9h0m-46 10h0m27-3h0m17-3h0m-44 34h0m22-3h0m28-10h0m-22 22h0" stroke="#52a22e" stroke-width="19" stroke-linecap="round" fill="none"/>
<path transform="scale(.1)" d="M6048 5417h0m-1 52h0m-9 13h0m3 27h0m-6 26h0m15-1h0m20 13h0m-32 30h0m-13 14h0m32 5h0m-38 18h0m19-13h0m-2 33h0m35-14h0m-37 30h0m24-9h0m-15 17h0m32 15h0m-68 19h0m20 3h0m64-5h0m-173 32h0m20-15h0m7 13h0m25 3h0m29-10h0m14 1h0m13-6h0m30 14h0m10-11h0m43 10h0m19-2h0m17 0h0m20-9h0m15 9h0m-258 15h0m2-2h0m31-1h0m19 6h0m19-1h0m13 2h0m26 2h0m15-8h0m46-1h0m15 5h0m36-1h0m19 1h0m20-1h0m-278 8h0m31 1h0m18-3h0m12 0h0m37 3h0m42 7h0m16 5h0m39-8h0m40-7h0m13 9h0m24 1h0m-265 21h0m19-12h0m22 15h0m20-11h0m8-4h0m30 0h0m24 4h0m7-1h0m22 12h0m23-13h0m17 3h0m28 1h0m10-6h0m18 3h0m25 9h0m-280 13h0m36 4h0m7-11h0m19 8h0m26 0h0m9 3h0m27-8h0m19 3h0m23 2h0m32 5h0m21-15h0m17 9h0m23-1h0m24-2h0m-261 16h0m17 10h0m26-10h0m28-3h0m12 7h0m11 1h0m18-6h0m33 7h0m41 6h0m1-2h0m31 2h0m20-15h0m-236 31h0m40-13h0m12-1h0m20-1h0m32 15h0m29-5h0m31-4h0m23 4h0m34-1h0m13-5h0m-225 22h0m31 4h0m43-12h0m8 1h0m22 13h0m21-1h0m33-11h0m30 1h0m44 8h0m-231 8h0m10 1h0m24 2h0m10 9h0m32-7h0m13 3h0m24-4h0m43 9h0m33-16h0m21 11h0m11-2h0m-233 15h0m32-3h0m8 0h0m18 5h0m41 8h0m24-8h0m9 4h0m29 1h0m26-9h0m45 13h0m-229 6h0m18 7h0m17-8h0m33 7h0m20-12h0m27 1h0m30 8h0m2-7h0m27 15h0m29-10h0m20-2h0m-210 14h0m22 8h0m26-8h0m11 8h0m28 6h0m8-6h0m29-3h0m22 10h0m14-2h0m13-9h0m18 8h0m-176 10h0m43 2h0m22-7h0m15 3h0m26-2h0m17 12h0m31-2h0m12-4h0m24 4h0m-192 11h0m13-3h0m62 3h0m36-5h0m63 16h0m14-12h0m-193 20h0m11 4h0m32-9h0m9 11h0m33 1h0m38-6h0m10 6h0m21 3h0m10-2h0m25-14h0m-187 25h0m16-4h0m15 6h0m30-6h0m9 13h0m31-6h0m5 3h0m17-11h0m55 0h0m17 3h0m-193 26h0m22-8h0m34-3h0m14-3h0m20 8h0m19 9h0m29-5h0m12 1h0m20-2h0m17-7h0m-193 23h0m26-5h0m11 7h0m45 5h0m20-2h0m17-11h0m25 0h0m12 3h0m35-4h0m-166 30h0m18-9h0m37 6h0m25-9h0m8 7h0m17 0h0m20-10h0m25 14h0m-174 10h0m29-2h0m13 12h0m76-14h0m39 9h0m8-4h0m33 9h0m-180 15h0m30-11h0m17 5h0m110-7h0m-148 30h0m21 3h0m20-15h0m46 6h0m26-7h0m15 5h0m11 4h0m-128 19h0m30 5h0m33-11h0m31 7h0m30-6h0m-118 25h0m11-8h0m23-5h0m14 11h0m35-4h0m36 1h0m-125 25h0m46-17h0m10 1h0m21 6h0m12-3h0m36 4h0m-127 27h0m23-16h0m24 6h0m22 4h0m2-11h0m26 15h0m27 1h0m-122 19h0m28-15h0m11 14h0m15-9h0m23-3h0m13-2h0m25-1h0m-87 19h0m40 7h0m24 6h0m-63 2h0m26 13h0m28-11h0m14 14h0m-83 12h0m24-3h0m30-4h0m5 5h0m28-7h0m-80 28h0m36-4h0m27-8h0m13 0h0m-66 22h0m31 11h0m14-7h0m-32 25h0m24-11h0m4 11h0m-28 10h0m23-4h0m12 9h0m-46 10h0m27-3h0m17-3h0m-44 34h0m22-3h0m28-10h0m-22 22h0" stroke="#eaf4e0" stroke-width="6.6" stroke-linecap="round" fill="none"/>
<path transform="scale(.1)" d="M6465 5402h0m0 18h0m0 9h0m1 9h0m-2 9h0m4 9h0m0 12h0m-8 9h0m2-6h0m14 1h0m-15 12h0m6-2h0m12 5h0m-20 8h0m3-4h0m14-1h0m-18 7h0m8 1h0m10 1h0m-22 8h0m14-1h0m10 0h0m-23 17h0m9-5h0m10-2h0m-18 14h0m14-4h0m9 6h0m-20 9h0m10-1h0m6-3h0m-22 11h0m13 1h0m6-7h0m-18 14h0m10-1h0m15-2h0m-21 9h0m8-1h0m8 1h0m-14 9h0m10 6h0m4-3h0m-26 11h0m7-7h0m7 0h0m10 6h0m11 2h0m-32 1h0m10 5h0m8 2h0m6-7h0m8 1h0m-38 13h0m8 0h0m17 0h0m2 2h0m8-2h0m-28 12h0m5-2h0m6 2h0m11-1h0m10-5h0m-33 15h0m10-8h0m3 8h0m15-8h0m1 7h0m-31 6h0m5-1h0m16 3h0m7-3h0m3 3h0m-32 7h0m5 0h0m13-3h0m6 4h0m11-3h0m-47 12h0m11-4h0m8 4h0m12-4h0m7 3h0m14 1h0m6 1h0m-47 9h0m7-1h0m8-5h0m10 6h0m8-3h0m-36 10h0m11 1h0m9-1h0m14-3h0m7 0h0m-50 16h0m15-2h0m5-2h0m14 3h0m3-2h0m15 1h0m10 0h0m-65 10h0m8-7h0m5 8h0m16 0h0m8-8h0m2 0h0m18 5h0m11-4h0m-57 11h0m6 2h0m6-4h0m8 3h0m13 4h0m8-7h0m10 3h0m-61 9h0m9 0h0m10-3h0m8 6h0m4-6h0m14 2h0m11 2h0m15 3h0m-86 9h0m12 0h0m11-4h0m11 3h0m8-2h0m2-4h0m14 5h0m8-5h0m12-1h0m7 1h0m7 0h0m-87 16h0m4-3h0m14-1h0m8 0h0m9 2h0m9 2h0m4 0h0m17-4h0m3 2h0m12-5h0m11 2h0m-100 10h0m3 0h0m9 0h0m26 2h0m1-5h0m16 7h0m5-6h0m9 2h0m10 4h0m5-2h0m14-6h0m11 4h0m-111 6h0m5 0h0m10-1h0m14 8h0m9-3h0m10-2h0m3 5h0m11-3h0m11-5h0m9 5h0m6 0h0m11 0h0m12-3h0m-113 10h0m15 1h0m2-2h0m10 4h0m7-5h0m13 0h0m5 1h0m12 3h0m12 1h0m7 0h0m7-6h0m11 7h0m6 0h0m-122 9h0m4 0h0m10-4h0m8-1h0m10-2h0m9 3h0m14 2h0m5 0h0m8-4h0m9 1h0m13 3h0m9-4h0m10 2h0m8-2h0m12 2h0m3 5h0m10-5h0m-139 9h0m3 2h0m7 3h0m14-2h0m6-2h0m7 4h0m13-3h0m12 3h0m5-5h0m10-3h0m6 3h0m13 1h0m9 4h0m6-1h0m15-2h0m2 2h0m11-7h0m-140 9h0m2 5h0m13 3h0m6 1h0m8-7h0m12 1h0m9 3h0m8-5h0m12 3h0m12 0h0m7 1h0m11 2h0m1-1h0m10 3h0m13-5h0m10 0h0m9 3h0m-146 4h0m5-1h0m10 0h0m13 4h0m8-2h0m12 5h0m8-7h0m5 1h0m7 2h0m11-1h0m12-1h0m7 1h0m8-2h0m12 4h0m8 0h0m14-1h0m-140 5h0m7 8h0m7-5h0m10-1h0m16 0h0m2 3h0m13 0h0m9 3h0m9-7h0m12-1h0m3 1h0m13 2h0m10-3h0m9 5h0m4-4h0m10 1h0m13-1h0m-156 9h0m5 2h0m13-1h0m10 1h0m7 2h0m8 2h0m15-4h0m1 1h0m14 2h0m4 2h0m15-2h0m3-1h0m9-5h0m15 6h0m8-5h0m4 5h0m17-4h0m4 6h0m8 0h0m-168 8h0m11-4h0m2-1h0m11 2h0m9 1h0m15-2h0m4 2h0m14-4h0m8 1h0m6 5h0m12-1h0m10-5h0m10-1h0m17 2h0m9 0h0m2 3h0m10 2h0m7-4h0m16 5h0m10 0h0m-179 6h0m16-1h0m8 5h0m8-1h0m4 0h0m9-6h0m9 5h0m10-1h0m11-3h0m12-2h0m7 2h0m13-1h0m3-1h0m13 6h0m6 0h0m8-1h0m9-2h0m8-4h0m16 7h0m-168 3h0m11 7h0m6-1h0m10-5h0m15 1h0m7 1h0m5 2h0m8-5h0m16 1h0m1 5h0m15 1h0m9-7h0m3 1h0m13 5h0m12-7h0m9 0h0m3 0h0m9 4h0m12-2h0m-171 14h0m12 0h0m9-2h0m4 1h0m13 1h0m11-5h0m9 5h0m6 0h0m5-7h0m8 4h0m10 3h0m8-3h0m13 2h0m5-6h0m10 7h0m13-2h0m11 3h0m4-5h0m11 5h0m13-6h0m4 4h0m-177 11h0m5-1h0m7-4h0m9 4h0m14-2h0m8 4h0m8-5h0m9-1h0m14-3h0m6 7h0m5-3h0m15-2h0m10-1h0m2-1h0m16 6h0m8-4h0m6 3h0m10 0h0m8 2h0m5-2h0m16-2h0m-176 8h0m7 2h0m13 0h0m11 4h0m9-6h0m7 0h0m10 3h0m9 4h0m10-6h0m11 5h0m3-1h0m14-1h0m5 2h0m6 0h0m14-2h0m9 2h0m4-3h0m16-1h0m6 2h0m-168 3h0m5 0h0m11 2h0m12 2h0m5 2h0m10-1h0m13 0h0m10-2h0m8 4h0m14-2h0m4-5h0m17 5h0m6-1h0m10 4h0m7 0h0m7-4h0m13 4h0m6-1h0m7-4h0m10 5h0m-188 1h0m9 1h0m10 3h0m6 4h0m8-4h0m12 4h0m11 0h0m5-6h0m11 6h0m11-2h0m11-1h0m2-4h0m10-1h0m10 7h0m7-4h0m11 5h0m7-6h0m17-1h0m7 2h0m9 3h0m7-1h0m7 3h0m7-8h0m-194 9h0m8 4h0m8-3h0m10-1h0m12 6h0m4-5h0m15 5h0m8-2h0m12 4h0m16-6h0m7-1h0m8 2h0m11-1h0m10 3h0m9-1h0m4 3h0m12-6h0m9 1h0m7 3h0m10-3h0m5-1h0m9 6h0m-184 10h0m4-3h0m10-5h0m15 1h0m10 5h0m3-1h0m20-3h0m5 5h0m12-6h0m9 6h0m14-2h0m8-3h0m8 0h0m9 2h0m4-4h0m10 2h0m9 6h0m8-8h0m9 5h0m13-2h0m-184 10h0m12-3h0m8 1h0m11 1h0m10 4h0m7-3h0m9-2h0m10 2h0m10-2h0m9 1h0m9-3h0m6 3h0m7-3h0m10 8h0m14-5h0m9 4h0m10 1h0m9-6h0m8 2h0m2-3h0m15 0h0m-189 9h0m11-1h0m1 8h0m16-1h0m10 0h0m8-4h0m5-1h0m9 3h0m9 0h0m9 2h0m8-6h0m11 1h0m8 2h0m14 2h0m7-2h0m9 2h0m3 2h0m9-1h0m15 0h0m6-2h0m8 0h0m12 3h0m12 0h0m-194 6h0m7-5h0m14 3h0m4-1h0m15 6h0m3-3h0m10-2h0m13-1h0m10-1h0m6 0h0m6 4h0m13-3h0m8 0h0m12 0h0m6 6h0m6-7h0m10 6h0m14-3h0m4 0h0m9 4h0m14-7h0m-186 8h0m11 2h0m12 6h0m10-8h0m6 2h0m15-1h0m9 4h0m10-1h0m11 4h0m7-4h0m8-3h0m9 7h0m14-6h0m8 4h0m6-5h0m10 7h0m11-1h0m8-3h0m9-1h0m5 5h0m-198 2h0m16 1h0m7 1h0m8 3h0m6-2h0m8 1h0m11 3h0m9-5h0m13-1h0m10 3h0m10-3h0m6 0h0m6 1h0m15 0h0m5 4h0m5-1h0m10-4h0m10 0h0m8 3h0m16 0h0m5 0h0m8 0h0m15 2h0m9-5h0m-220 11h0m9-4h0m9 5h0m9 1h0m9-1h0m12-3h0m7 4h0m18 2h0m5-6h0m12 5h0m6-4h0m8-2h0m15 1h0m2-2h0m16 1h0m9 1h0m4 5h0m14-2h0m5-1h0m14-4h0m5 2h0m8-1h0m13 7h0m8-7h0m6 2h0m12 0h0m-226 8h0m14 1h0m13 1h0m6-1h0m15 0h0m7 2h0m10-4h0m2 3h0m11-2h0m12 5h0m7-7h0m12 8h0m8-7h0m10-1h0m4 8h0m10-2h0m10 0h0m11 2h0m6-5h0m10 3h0m14-4h0m9 2h0m6 4h0m5-8h0m-204 17h0m6-7h0m11 3h0m14-1h0m4-3h0m9 6h0m10 2h0m8-7h0m13 5h0m5-3h0m14-1h0m1 2h0m14-1h0m7 5h0m13-1h0m8-3h0m11 4h0m4-5h0m6-1h0m12 4h0m8-2h0m9 4h0m15-2h0m-200 10h0m11-1h0m8 1h0m2-6h0m15 0h0m11 5h0m8-6h0m6 3h0m7 3h0m7-4h0m9 1h0m11 1h0m10 1h0m10-5h0m17 3h0m7-3h0m8 5h0m9-4h0m16 7h0m7 0h0m11 0h0m8-1h0m-208 9h0m6-1h0m7 0h0m12 2h0m7-1h0m10-1h0m7-2h0m16-3h0m2 2h0m17 1h0m5 4h0m10-7h0m4 1h0m10 3h0m13 2h0m8-4h0m11 0h0m4 0h0m13 3h0m9-6h0m10 8h0m10-3h0m3 3h0m12-3h0m9-2h0m-209 9h0m10 4h0m8-2h0m9 0h0m13-1h0m6 3h0m8-2h0m11-4h0m5 1h0m13 6h0m8 1h0m13-9h0m9 4h0m7 4h0m5-6h0m13-1h0m5 2h0m15 6h0m4-7h0m22 5h0m8-2h0m9-3h0m-197 10h0m8 3h0m12-4h0m5 5h0m13 0h0m3 0h0m7-4h0m14 1h0m11 1h0m5-1h0m9-3h0m12 7h0m7-8h0m12 4h0m7-2h0m7 5h0m12-7h0m4 3h0m15-1h0m9-2h0m5 9h0m10-4h0m9 2h0m-210 10h0m9 0h0m8-2h0m15-2h0m6 4h0m14-1h0m4-6h0m7-1h0m14 8h0m9-2h0m6-1h0m11 1h0m10 0h0m3 0h0m10 1h0m14-3h0m7-4h0m5 3h0m13 1h0m14 3h0m15-4h0m7-2h0m13 6h0m3 1h0m-238 8h0m10 0h0m2-2h0m10-3h0m9-1h0m7 1h0m13 2h0m10-4h0m7 2h0m10 6h0m9-4h0m7 4h0m14-3h0m4-5h0m7 5h0m11-3h0m13 4h0m3-6h0m16 8h0m10-5h0m2-3h0m12 6h0m9-2h0m8 3h0m11 0h0m7-2h0m13-4h0m5-1h0m10 3h0m9 5h0m12-4h0m-275 7h0m23 2h0m6 1h0m5-4h0m11 5h0m15 1h0m6 0h0m12-6h0m1 5h0m11-4h0m11-2h0m5 5h0m9-5h0m15 5h0m8 2h0m10-2h0m3 0h0m15 1h0m4-3h0m10-2h0m9 5h0m10-1h0m10-5h0m15 9h0m11-7h0m13 7h0m8-6h0m8-1h0m7 2h0m-248 12h0m10 1h0m6-7h0m8 1h0m9 6h0m6-4h0m11 4h0m13-2h0m5-2h0m14 4h0m7 0h0m10-2h0m7-3h0m6 0h0m12 1h0m4 1h0m11-2h0m7 4h0m17-3h0m7-2h0m7-2h0m6 4h0m12 1h0m7 1h0m11 0h0m11-6h0m9 3h0m-233 7h0m10 7h0m9-8h0m3 5h0m12 2h0m7 1h0m6 1h0m14-1h0m7-7h0m13-1h0m5 5h0m8 0h0m8-4h0m11 7h0m14-2h0m4-1h0m14 3h0m5-3h0m11-1h0m6-4h0m6 2h0m13 0h0m13 0h0m3 4h0m11 0h0m10-2h0m11 4h0m-239 5h0m13 0h0m9-4h0m6 4h0m11-1h0m10 4h0m3 1h0m11-4h0m16 3h0m16-4h0m2 5h0m16-3h0m8-2h0m3 2h0m10-2h0m25-3h0m3 8h0m8-4h0m14-2h0m10-1h0m4-1h0m11 1h0m12 5h0m6-2h0m13-4h0m-245 10h0m8 0h0m10 1h0m10 3h0m2 2h0m13-6h0m8 4h0m14 3h0m2-6h0m14 0h0m9 6h0m7-3h0m9-2h0m5 1h0m16 2h0m6-3h0m11 4h0m6-7h0m6 6h0m17-3h0m5 5h0m10 0h0m11-3h0m9-4h0m9 6h0m5 1h0m10-4h0m7 4h0m8-4h0m-245 9h0m6 4h0m4-3h0m11-1h0m11 4h0m8-2h0m7-3h0m10-3h0m9 6h0m15-2h0m8-2h0m2-1h0m17 6h0m3-7h0m12 7h0m10-6h0m7 6h0m5 1h0m12-8h0m11 5h0m7-5h0m14 8h0m6-2h0m8 2h0m9-5h0m12-1h0m3 0h0m9-1h0m13 3h0m-222 12h0m9-7h0m9 6h0m5-1h0m12 1h0m6-1h0m11-3h0m7 3h0m11 0h0m4-3h0m11 2h0m7-3h0m8 1h0m11 2h0m14 0h0m10 4h0m3-8h0m14 1h0m2 2h0m11-1h0m8 6h0m11-2h0m14-6h0m-201 16h0m7 0h0m14 0h0m4-5h0m11-1h0m8-1h0m7 4h0m8 3h0m9-5h0m9 5h0m12-2h0m8 3h0m13-2h0m5-4h0m10 3h0m6 1h0m10 0h0m11-3h0m10 2h0m9-1h0m9-4h0m5 8h0m9-8h0m-180 17h0m16-8h0m5 2h0m8-1h0m12 6h0m11 2h0m2-2h0m14-7h0m7 7h0m11-7h0m8 3h0m6 3h0m12 1h0m10-3h0m8 4h0m11-3h0m3-1h0m10-4h0m11 4h0m-166 6h0m12 0h0m6 0h0m16 2h0m4 1h0m9-4h0m15 7h0m4-2h0m14 0h0m2 4h0m14-9h0m6 0h0m10 3h0m5 3h0m13-3h0m10 0h0m4-3h0m10 7h0m8-1h0m-167 11h0m11-3h0m3-4h0m12 5h0m12 0h0m7-4h0m7-1h0m9 1h0m11-2h0m5 6h0m13-6h0m5 8h0m17-1h0m1 1h0m16-1h0m3-2h0m11-4h0m14 4h0m7 3h0m10 1h0m10-7h0m-183 11h0m6 3h0m9-3h0m12-4h0m8 3h0m11 2h0m6-1h0m9-2h0m11 5h0m10 0h0m9-6h0m9 2h0m11 2h0m3 3h0m10-6h0m12-2h0m9 2h0m6 5h0m12-1h0m11 3h0m8-5h0m-179 13h0m8-6h0m5 1h0m6 2h0m15-4h0m9 7h0m5 0h0m9-3h0m15-1h0m6 4h0m10-6h0m5 4h0m14-3h0m8 5h0m11-8h0m1 9h0m16-5h0m9 0h0m7 2h0m12-4h0m9 1h0m-178 9h0m8 3h0m15 2h0m9-6h0m10 6h0m9-2h0m10 0h0m6 1h0m11-6h0m9 7h0m8-1h0m11-5h0m9 6h0m4-7h0m11 5h0m7 2h0m12-3h0m4-5h0m15 6h0m-178 8h0m11-3h0m11 0h0m6 6h0m13-7h0m7 1h0m11 6h0m19-1h0m11 0h0m9 0h0m9-6h0m2-1h0m16 6h0m7-4h0m8 4h0m11 2h0m4-5h0m14 2h0m6-4h0m5-1h0m-186 16h0m13-2h0m10 1h0m1-3h0m10 4h0m11-7h0m13 1h0m19 2h0m6 1h0m10 4h0m7-8h0m5 4h0m17-3h0m2-1h0m14 7h0m9-1h0m3-1h0m14-3h0m21-2h0m5 3h0m11 2h0m-192 10h0m9-3h0m11-1h0m11 5h0m2-6h0m11 3h0m14 1h0m3 0h0m13 0h0m7 0h0m12 1h0m6 2h0m10-2h0m6 1h0m12-3h0m6 1h0m12-4h0m5 2h0m11 3h0m13-1h0m4 3h0m-168 10h0m11-5h0m8 4h0m9-7h0m9 3h0m11 2h0m6-1h0m11-3h0m11 4h0m2 0h0m13-4h0m7 1h0m13-2h0m11 3h0m11 2h0m17 2h0m12-7h0m-163 12h0m7 2h0m12-3h0m13 5h0m6-3h0m4-5h0m17 6h0m9-3h0m9-2h0m4 1h0m8 5h0m11-3h0m12 4h0m6 0h0m11-2h0m8-1h0m10-1h0m15 0h0m-161 6h0m7 6h0m12-7h0m21 8h0m8-2h0m3-4h0m8 5h0m15 0h0m3-7h0m11 2h0m13 2h0m8-3h0m6 3h0m7-2h0m14 6h0m5-2h0m8-5h0m17 7h0m-154 9h0m4-5h0m12-2h0m9 6h0m10-1h0m4-2h0m9 3h0m16-6h0m6 2h0m6-1h0m7-1h0m9 5h0m13-5h0m5 6h0m17-7h0m1 5h0m12-5h0m-138 15h0m10-3h0m16-2h0m1 0h0m12 0h0m12 6h0m5-2h0m12-3h0m6 5h0m7 1h0m9-3h0m18 4h0m11-5h0m7-3h0m-123 8h0m14 6h0m1-6h0m9 6h0m16 0h0m4-1h0m7-2h0m14-3h0m4 7h0m10-3h0m11 4h0m12-2h0m10 1h0m2-2h0m15-5h0m-137 9h0m10 3h0m12 3h0m1 2h0m16-7h0m3 2h0m9 2h0m12-5h0m8 4h0m12-4h0m3 5h0m11 1h0m14-1h0m10-5h0m5 5h0m8 0h0m7-5h0m-147 9h0m7 2h0m7 0h0m7-2h0m15 0h0m2 7h0m9 1h0m15-4h0m9-1h0m10-1h0m3 2h0m8-1h0m13-1h0m12 0h0m11 5h0m9-1h0m14 0h0m12-5h0m-155 10h0m8 0h0m7 1h0m13 2h0m4 2h0m8-6h0m16 2h0m1 4h0m11-6h0m11 6h0m12-3h0m7-3h0m6 3h0m13-4h0m9 7h0m8-4h0m4-3h0m-131 13h0m7 4h0m15-2h0m6-6h0m8 6h0m10-5h0m5 0h0m11 4h0m12-4h0m9 7h0m3-3h0m9-3h0m10 1h0m14-3h0m6 6h0m-121 11h0m13-1h0m10-1h0m9 2h0m13-8h0m2 5h0m12 3h0m8-8h0m7 1h0m11 2h0m8 5h0m13-3h0m7 2h0m12 0h0m-124 9h0m14-6h0m4 7h0m14-5h0m10 1h0m4 0h0m11 3h0m7-7h0m11 1h0m10 2h0m9-3h0m6 3h0m15 5h0m-119 6h0m12 3h0m4-1h0m7-4h0m9 1h0m9 0h0m16 1h0m6-4h0m12 6h0m2 1h0m24-5h0m5 0h0m11 2h0m8 0h0m-126 12h0m11-4h0m5-3h0m7 5h0m14-3h0m12 2h0m3-4h0m14 6h0m2-7h0m14 5h0m4 2h0m11-6h0m8 0h0m14 4h0m6 0h0m-129 11h0m16-2h0m10-2h0m1 2h0m22 2h0m10-5h0m7 5h0m14-5h0m14 6h0m8-8h0m6 3h0m13 5h0m11 0h0m-128 2h0m6 5h0m11 0h0m10 1h0m5-1h0m17-3h0m1-2h0m15 8h0m6-7h0m6 0h0m14 2h0m7-3h0m6 4h0m17-3h0m8 1h0m-124 10h0m13-2h0m12 1h0m8 6h0m5-4h0m12 0h0m11-2h0m10 5h0m3-2h0m7 2h0m9 0h0m17-4h0m6 2h0m-105 3h0m4 5h0m6 0h0m12 0h0m9 0h0m12-4h0m7 2h0m5-2h0m9 0h0m11 4h0m9 1h0m10-1h0m13-3h0m-113 13h0m7 0h0m14-2h0m17 0h0m12-2h0m9 4h0m9-5h0m8-1h0m3 6h0m20-1h0m13 0h0m-101 12h0m13-2h0m2-3h0m16 5h0m4-2h0m9-1h0m11 1h0m8-1h0m10 3h0m8-5h0m8 4h0m-93 5h0m16 2h0m10-5h0m9 7h0m6-4h0m8 2h0m13-1h0m3-3h0m10-1h0m7 1h0m13 5h0m-83 10h0m8 0h0m14-5h0m5 2h0m13-2h0m8 0h0m9 1h0m6 4h0m7-6h0m-66 13h0m6-5h0m9 6h0m12-3h0m7 2h0m6 0h0m8-3h0m10-2h0m11 0h0m-60 10h0m2 2h0m17 0h0m6-3h0m5 4h0m13-4h0m8 5h0m-55 9h0m6-2h0m15 0h0m4 3h0m12-1h0m7-3h0m10-1h0m-41 15h0m16-7h0m4 6h0m12 0h0m-30 8h0m15-5h0m9 3h0" stroke="#b99d3c" stroke-width="15" stroke-linecap="round" fill="none"/>
<path d="M604.6 574.2V610.2M597.7 574.2H611.5M597.7 610.2H611.5" stroke="#777" stroke-width="1.05" fill="none"/>
<line x1="590.8" y1="592" x2="618.4" y2="592" stroke="#000" stroke-width="1.7"/>
<path d="M646.5 583.1V621.4M639.6 583.1H653.4M639.6 621.4H653.4" stroke="#000" stroke-width="1.05" fill="none"/>
<line x1="632.7" y1="602.3" x2="660.3" y2="602.3" stroke="#000" stroke-width="1.7"/>
<line x1="577.5" y1="514.6" x2="577.5" y2="661.2" stroke="#1c1c1c" stroke-width="1.15"/>
<line x1="572.2" y1="515.2" x2="577.5" y2="515.2" stroke="#1c1c1c" stroke-width="1.15"/>
<text x="570" y="518.6" font-size="9.5" text-anchor="end">5</text>
<line x1="572.2" y1="544.3" x2="577.5" y2="544.3" stroke="#1c1c1c" stroke-width="1.15"/>
<text x="570" y="547.7" font-size="9.5" text-anchor="end">4</text>
<line x1="572.2" y1="573.4" x2="577.5" y2="573.4" stroke="#1c1c1c" stroke-width="1.15"/>
<text x="570" y="576.8" font-size="9.5" text-anchor="end">3</text>
<line x1="572.2" y1="602.4" x2="577.5" y2="602.4" stroke="#1c1c1c" stroke-width="1.15"/>
<text x="570" y="605.9" font-size="9.5" text-anchor="end">2</text>
<line x1="572.2" y1="631.5" x2="577.5" y2="631.5" stroke="#1c1c1c" stroke-width="1.15"/>
<text x="570" y="634.9" font-size="9.5" text-anchor="end">1</text>
<line x1="572.2" y1="660.6" x2="577.5" y2="660.6" stroke="#1c1c1c" stroke-width="1.15"/>
<text x="570" y="664" font-size="9.5" text-anchor="end">0</text>
<line x1="577" y1="660.6" x2="674.8" y2="660.6" stroke="#1c1c1c" stroke-width="1.15"/>
<line x1="604.6" y1="660.6" x2="604.6" y2="665.6" stroke="#1c1c1c" stroke-width="1.15"/>
<line x1="646.5" y1="660.6" x2="646.5" y2="665.6" stroke="#1c1c1c" stroke-width="1.15"/>
<text x="555" y="585.5" font-size="8.9" text-anchor="middle" transform="rotate(-90 555 585.5)">FPR3 expression level</text>
<text x="622" y="499.7" font-size="9.25" text-anchor="middle">FPR3<tspan dy="-3.2" font-size="5.8">high</tspan><tspan dy="3.2"> myeloid cells</tspan></text>
<text x="625.3" y="527.7" font-size="9.4" text-anchor="middle"><tspan font-style="italic">p</tspan> = 2.47e-16</text>
<line x1="606" y1="532.1" x2="646.5" y2="532.1" stroke="#1c1c1c" stroke-width="1.15"/>
<text x="604.6" y="676.8" font-size="9.4" text-anchor="middle">MDSCs</text>
<text x="646.5" y="676.8" font-size="9.4" text-anchor="middle">TAM</text>
<text x="0.5" y="731.3" font-size="13" font-weight="bold" fill="#1a1a1a">m</text>
<path transform="scale(.1)" d="M617 7863h0m2 12h0m-7 11h0m7 0h0m6-1h0m-16 3h0m19 6h0m-16 6h0m4-3h0m11 6h0m-17 6h0m10-1h0m12 4h0m-21 11h0m7 1h0m8-5h0m-13 7h0m3 5h0m16-1h0m-20 10h0m8 2h0m14-3h0m-22 5h0m9 9h0m12-7h0m-27 11h0m20-3h0m-22 10h0m20-1h0m6 8h0m12 0h0m-42 9h0m7-6h0m32 4h0m-40 4h0m10 5h0m13-1h0m9-4h0m12 7h0m-43 6h0m16-3h0m20 2h0m-39 7h0m28 8h0m15-7h0m-40 9h0m15 3h0m1-3h0m11 7h0m9-8h0m-31 15h0m11 0h0m17 1h0m4-3h0m-45 13h0m6 1h0m16 0h0m8-6h0m6-2h0m18 3h0m-53 16h0m12 0h0m4-7h0m41 6h0m-57 9h0m21-1h0m6-5h0m8 6h0m10-4h0m15 3h0m-55 4h0m25 0h0m11 5h0m4-1h0m-33 10h0m10-2h0m8-2h0m14 0h0m-35 10h0m5 6h0m13-3h0m9 3h0m10-3h0m-39 6h0m17 3h0m13-2h0m9 2h0m-35 6h0m4 1h0m12 3h0m13-1h0m7 0h0m-39 10h0m14 2h0m9-4h0m10 5h0m2-7h0m-36 9h0m32 8h0m4-2h0m-31 12h0m14-4h0m14-3h0m5 3h0m-39 6h0m14-1h0m6 0h0m12 4h0m4 5h0m-38 3h0m21-2h0m15 7h0m4-7h0m-32 14h0m2-5h0m12 0h0m12 7h0m4 1h0m-44 4h0m14 0h0m13-2h0m28 2h0m-94 14h0m17-4h0m42-2h0m13 0h0m5 3h0m9 0h0m15-1h0m7 3h0m6-6h0m16 7h0m-180 10h0m15-5h0m24 1h0m26 1h0m13-2h0m21 2h0m14-2h0m20-3h0m11 6h0m14 0h0m11-2h0m11-3h0m6-1h0m12 6h0m8-5h0m7 7h0m13-2h0m10 1h0m-249 5h0m23 5h0m14-2h0m8-5h0m12 4h0m9-4h0m6 0h0m18 7h0m12-4h0m12 4h0m9-7h0m25 5h0m42 1h0m17-2h0m16 5h0m8-5h0m18 0h0m12 5h0m-266 5h0m9 3h0m17-1h0m15-7h0m19 3h0m17 5h0m24-7h0m9 8h0m15 1h0m10-6h0m37 5h0m28-5h0m16 4h0m9 1h0m8-8h0m7 6h0m8-6h0m8 4h0m12-2h0m-272 16h0m15-4h0m8-4h0m22 1h0m14 2h0m30-2h0m26 5h0m5-2h0m9-5h0m17 4h0m16-2h0m25 7h0m14-9h0m19 4h0m1-1h0m17 5h0m4-7h0m23 7h0m9-1h0m8-2h0m-297 13h0m11-8h0m22 0h0m18 3h0m14-1h0m18 3h0m5-4h0m21 1h0m19 1h0m22-2h0m14 5h0m22-2h0m15 3h0m28 1h0m9-7h0m14 7h0m14 0h0m40 0h0m-290 7h0m10-3h0m17-3h0m6 3h0m8-3h0m26 1h0m3 2h0m15 1h0m15 4h0m24-8h0m8 7h0m33 0h0m10-5h0m13 0h0m6 0h0m25 4h0m1-4h0m18 7h0m3-5h0m16-3h0m8 6h0m8-4h0m7 0h0m-277 13h0m39 2h0m16-6h0m26 1h0m18 2h0m12 0h0m14-1h0m13-3h0m37 1h0m13 2h0m16 4h0m21-1h0m2-5h0m33 6h0m8-1h0m-246 4h0m14-1h0m6 1h0m5-1h0m24 0h0m19 0h0m5 6h0m8-6h0m14 5h0m28-4h0m14 1h0m4 0h0m16 0h0m11-3h0m12 7h0m14-3h0m26 4h0m4-3h0m-208 7h0m17-2h0m8 8h0m30-4h0m13 4h0m14-7h0m4 2h0m15-2h0m16 2h0m32-4h0m8 0h0m4 6h0m14-3h0m9 1h0m11 0h0m-193 6h0m10 2h0m13 2h0m12-3h0m10 3h0m9 2h0m26-2h0m15 5h0m25-3h0m2 3h0m16-1h0m19-8h0m8 1h0m5 6h0m21 1h0m-180 4h0m39 6h0m14-4h0m12 3h0m11 0h0m20-4h0m6 5h0m10-2h0m8 0h0m20-1h0m12 0h0m4-6h0m11 6h0m-168 8h0m7-2h0m8-2h0m10 3h0m24-2h0m8 0h0m8 0h0m25 6h0m3-7h0m13 3h0m8 5h0m8 0h0m20-6h0m15 3h0m19-4h0m-175 14h0m6-3h0m8 5h0m16-8h0m10 4h0m7-2h0m40 5h0m10-4h0m6 5h0m8-2h0m9 2h0m45-1h0m4 1h0m-181 4h0m13 4h0m13-2h0m6 4h0m10-3h0m5 0h0m18-5h0m21 1h0m31 5h0m4-1h0m17 2h0m2 1h0m18-7h0m37 6h0m-173 5h0m25 0h0m7-1h0m23 1h0m11 5h0m5-4h0m16-1h0m7-1h0m6 6h0m46-8h0m5 5h0m-140 6h0m6 6h0m18-5h0m11-1h0m6 6h0m16-1h0m6-3h0m7 5h0m42-5h0m6 1h0m13 3h0m-144 5h0m22 4h0m20-1h0m20-4h0m17 6h0m36-6h0m7 7h0m8 0h0m22 0h0m-139 8h0m4-1h0m27-3h0m16 1h0m7-3h0m9 6h0m10-2h0m9-3h0m14 5h0m9-1h0m6-3h0m6 1h0m16 2h0m-136 7h0m9 2h0m7 0h0m12-1h0m6 0h0m28 0h0m15 2h0m10 1h0m8 1h0m18-2h0m25-4h0m-142 9h0m9 2h0m16-1h0m31 2h0m14-3h0m23 4h0m7-4h0m8 4h0m14-2h0m16-3h0m-149 11h0m4 1h0m28-2h0m12 2h0m11-1h0m11-2h0m10 6h0m17-7h0m19 2h0m35-1h0m14 1h0m10 4h0m-162 10h0m9 2h0m17-1h0m13-2h0m30-1h0m23 1h0m5 3h0m15-2h0m7-2h0m7 2h0m9-1h0m16 3h0m-144 6h0m5 2h0m12 1h0m11-3h0m7-1h0m13 4h0m17-3h0m25 1h0m3-3h0m22 4h0m20 1h0m-173 2h0m4 1h0m16 5h0m12-1h0m7 1h0m10-4h0m7 5h0m42-1h0m9 1h0m4-5h0m10 2h0m16-4h0m1 1h0m14 7h0m4-5h0m19 6h0m4-8h0m8 0h0m17 5h0m-218 11h0m30-1h0m33 1h0m4-2h0m13 3h0m21-9h0m20 1h0m9 1h0m7-1h0m10 3h0m6 4h0m14-2h0m7 2h0m13-3h0m28 3h0m9 1h0m11-3h0m-242 8h0m10 2h0m14 1h0m35 0h0m5 0h0m17-2h0m18 1h0m6-6h0m13 1h0m11 1h0m7 2h0m30 0h0m19-2h0m10 6h0m6-3h0m37 0h0m10-1h0m-232 9h0m17-2h0m5 3h0m33 0h0m4 2h0m16 0h0m10-5h0m56 2h0m10-3h0m5 0h0m8 4h0m16 1h0m5-4h0m14 0h0m23 7h0m-223 8h0m17-1h0m3-5h0m18 5h0m17-5h0m5 0h0m9 1h0m17 4h0m31 2h0m16-7h0m2 7h0m14-4h0m12 0h0m3-2h0m23-1h0m6 2h0m34 0h0m-233 15h0m17 0h0m11-4h0m45 5h0m1-7h0m9 4h0m19 1h0m11-8h0m13 2h0m13 0h0m2 0h0m15 0h0m26 1h0m21 5h0m5-7h0m12 6h0m6 1h0m-235 10h0m11-8h0m9 8h0m28-7h0m11-1h0m8 4h0m23 4h0m9-5h0m3 5h0m13-4h0m10-4h0m7 1h0m27-1h0m11 0h0m13 5h0m5 3h0m9-7h0m14 1h0m15 3h0m10 0h0m15-4h0m-251 12h0m11 0h0m12-1h0m16 6h0m14-1h0m1-3h0m18-3h0m7 2h0m4 0h0m9-3h0m17 8h0m9-1h0m3-2h0m21-1h0m13-3h0m7 7h0m21-8h0m13 4h0m15-4h0m37 2h0m-211 7h0m15 5h0m8-4h0m8 4h0m9-3h0m28 3h0m23-3h0m6 0h0m8 5h0m30-7h0m9 7h0m34 0h0m-186 8h0m14 2h0m8-1h0m7 0h0m14-6h0m1 6h0m14 2h0m9-2h0m11-3h0m8 3h0m20-3h0m12 4h0m6-6h0m7 4h0m9 3h0m16-1h0m4-4h0m7-4h0m14 9h0m13-4h0m-188 9h0m6-1h0m9 0h0m10 2h0m17 0h0m14 4h0m5-4h0m9 0h0m7-2h0m16 1h0m18 3h0m11-3h0m25-3h0m20 2h0m10-3h0m7 7h0m-184 5h0m15 3h0m19-3h0m9 7h0m8-9h0m16 0h0m26 5h0m2-6h0m12 7h0m8-4h0m23 0h0m8-2h0m11 8h0m10-7h0m4 7h0m-173 4h0m10-1h0m10 2h0m3-1h0m9-1h0m12 5h0m26 2h0m18-4h0m13-5h0m18 2h0m47-1h0m8 1h0m16-1h0m-171 10h0m9 2h0m4 5h0m10-5h0m19 5h0m11-7h0m8 6h0m22-5h0m8 3h0m9-2h0m28 2h0m22-3h0m-181 9h0m16-1h0m10 2h0m14 5h0m4-6h0m24 1h0m9 3h0m16 0h0m32 0h0m44-6h0m12 1h0m9 5h0m18 0h0m-215 10h0m27-7h0m24 9h0m9-2h0m15 1h0m26 1h0m12-1h0m7-7h0m9 4h0m7 2h0m25-4h0m11 3h0m3-5h0m11 1h0m7 5h0m11-5h0m11 7h0m9-6h0m-233 8h0m4 6h0m14-6h0m8 3h0m12-3h0m13-1h0m31 1h0m9 2h0m41-3h0m12 5h0m13-4h0m6 7h0m15 0h0m6-6h0m34 0h0m19 6h0m3-1h0m-255 4h0m10 2h0m10 4h0m31 0h0m12 1h0m5-7h0m16 5h0m27-6h0m12 6h0m25 1h0m4-2h0m11-3h0m12 5h0m4-5h0m14 0h0m27 6h0m13 0h0m8-1h0m19-5h0m9 6h0m-239 7h0m23-6h0m15 0h0m9 5h0m11 0h0m5-4h0m14 0h0m7-1h0m9 4h0m9 1h0m23-5h0m4 4h0m14 2h0m6 3h0m9-2h0m10 2h0m16-8h0m2 1h0m9 3h0m12-3h0m-203 13h0m7 3h0m5-2h0m16 0h0m3-3h0m17 3h0m11-2h0m10 4h0m11-7h0m15 4h0m32-1h0m20-4h0m11 6h0m14-7h0m2 5h0m15-5h0m20 6h0m-204 8h0m19 4h0m6-5h0m24-3h0m18 5h0m9-5h0m9 0h0m16 0h0m12 2h0m9 3h0m16 4h0m18-1h0m8-2h0m6 1h0m16-1h0m3 1h0m-187 5h0m8-2h0m8 8h0m10-7h0m17-2h0m13 4h0m8-2h0m19 5h0m15-4h0m6-2h0m23 2h0m4 5h0m24-5h0m32 4h0m-181 6h0m25 3h0m20-1h0m18-2h0m29 3h0m3-3h0m13 0h0m7-3h0m7 5h0m13 0h0m15 3h0m19-8h0m6 6h0m-185 4h0m9 7h0m13-2h0m11 0h0m10-4h0m10 5h0m10 2h0m4-4h0m9-5h0m14 7h0m13-5h0m1-2h0m33 2h0m7-1h0m25 1h0m12 7h0m12-3h0m-201 11h0m9 1h0m17-2h0m17-6h0m5 8h0m12-6h0m24-1h0m14 1h0m5 3h0m26-3h0m9 0h0m6 6h0m20-4h0m12-2h0m5 5h0m7 1h0m11-8h0m8 9h0m-228 7h0m28-4h0m16 5h0m3-6h0m15-2h0m5 4h0m30 4h0m17-4h0m19 3h0m9-4h0m17 0h0m19 4h0m53-2h0m5 2h0m16-2h0m-239 11h0m13 0h0m4-2h0m10-1h0m8 6h0m26-7h0m4 0h0m33 6h0m14-2h0m10 3h0m24-5h0m11-2h0m7 1h0m6 2h0m12-2h0m8-1h0m7 6h0m14-4h0m5-3h0m16 4h0m-201 6h0m16 4h0m14 2h0m18 0h0m47-3h0m3-1h0m15 0h0m11 3h0m15-2h0m18-1h0m7-2h0m-166 8h0m16 3h0m18 3h0m10-2h0m14-1h0m16 3h0m22 1h0m7-2h0m8 4h0m11-3h0m6 1h0m14-3h0m12-4h0m7 4h0m13-1h0m-147 11h0m14 1h0m5-6h0m11 7h0m5-5h0m19-1h0m14 0h0m11 4h0m16 1h0m14 2h0m3-5h0m-120 7h0m7 2h0m9 6h0m12-4h0m22 3h0m4-6h0m20 3h0m12-1h0m6 5h0m8-5h0m13 2h0m8 2h0m10-1h0m-141 12h0m13-8h0m7 0h0m4 5h0m24 2h0m11-2h0m23 3h0m46-5h0m3 5h0m8-8h0m15-1h0m-141 12h0m14 3h0m19 3h0m25-5h0m16-1h0m4 2h0m13 2h0m16 2h0m17-3h0m4-2h0m-137 7h0m9 5h0m2-5h0m26 1h0m2 4h0m13 3h0m6-6h0m12 4h0m19-6h0m8 4h0m14-1h0m14 2h0m24-3h0m-145 13h0m28 2h0m11-7h0m16 3h0m9 0h0m23-1h0m16-2h0m22 7h0m5 0h0m-118 8h0m15-4h0m22 0h0m6 3h0m25 1h0m31-7h0m6 8h0m6 0h0m-131 10h0m18-5h0m31-2h0m5 0h0m27 8h0m4-5h0m14 3h0m3-2h0m15-5h0m5 1h0m13 6h0m20 1h0m-171 9h0m6 0h0m14-5h0m6 6h0m21-7h0m4 0h0m10 3h0m14 2h0m10 1h0m11 0h0m2-2h0m11 0h0m14-6h0m2 1h0m14 5h0m8-4h0m15 4h0m23 1h0m-179 9h0m6 0h0m20-4h0m11 0h0m12 6h0m8 1h0m15-8h0m1 4h0m32 2h0m15-2h0m14-2h0m13 3h0m14 3h0m9-3h0m-150 9h0m9-3h0m5 5h0m15-4h0m12 3h0m2-4h0m27-2h0m6-1h0m11 6h0m15-1h0m16 1h0m7-2h0m12 3h0m-126 5h0m20 5h0m3-3h0m10 3h0m18-5h0m18 7h0m19-8h0m4 0h0m19 2h0m-116 15h0m16-3h0m4-5h0m11 4h0m12-2h0m11 2h0m13 2h0m22-4h0m7-1h0m21 5h0m-103 6h0m4-1h0m18 4h0m8-3h0m9 0h0m10 0h0m16 1h0m13-3h0m2 2h0m14 5h0m-87 6h0m23 3h0m18-3h0m11 2h0m7 1h0m20-1h0m-67 5h0m21 0h0m36 7h0m-47 1h0m6-1h0m8 3h0m21 2h0m-25 5h0m3 2h0m15 1h0m-23 14h0m25 0h0" stroke="#4682b4" stroke-width="14.4" stroke-linecap="round" fill="none"/>
<path transform="scale(.1)" d="M1033 7802h0m-15 7h0m10 4h0m12-2h0m-6 6h0m-6 9h0m7 13h0m-8 8h0m5 11h0m1 9h0m-1 15h0m-4 5h0m-7 7h0m11 5h0m12-4h0m-24 15h0m23-7h0m-17 16h0m2-6h0m13 3h0m-6 9h0m-7 8h0m-11 10h0m13 0h0m14 5h0m-35 8h0m10 1h0m7-1h0m11-3h0m10 0h0m-45 10h0m8-3h0m29 6h0m13 2h0m3-9h0m-61 16h0m13-7h0m2 9h0m24 1h0m4-1h0m9-3h0m13-4h0m6 4h0m-72 5h0m12 6h0m6-4h0m8 1h0m23 2h0m17-5h0m14 6h0m-83 4h0m15 4h0m20 1h0m11-5h0m5 8h0m13-2h0m7 1h0m11-6h0m-76 9h0m11 6h0m3-2h0m13 3h0m11-4h0m6-1h0m13-2h0m18 0h0m-75 10h0m9 2h0m11-1h0m10 4h0m3 0h0m15-4h0m9 0h0m9 6h0m11-2h0m-93 8h0m9-2h0m17 5h0m19-3h0m2 2h0m15-5h0m11 4h0m5-4h0m9 2h0m8 2h0m-94 6h0m15-3h0m5 1h0m7-1h0m16 7h0m5 1h0m11-3h0m15 3h0m13-7h0m13-1h0m-94 14h0m5 4h0m14-1h0m11-4h0m8 1h0m8-1h0m17 5h0m14-7h0m15 5h0m-109 6h0m27 0h0m7-2h0m4 0h0m10 7h0m14 0h0m14-3h0m18-2h0m6 1h0m15-1h0m-103 9h0m10 3h0m33-3h0m14 0h0m9 3h0m14 1h0m5 1h0m10 0h0m-84 7h0m10 1h0m10-2h0m7 0h0m8-3h0m9 6h0m10-2h0m16-4h0m2-1h0m-79 11h0m12 5h0m5-1h0m17 2h0m15-8h0m2 5h0m18 2h0m8-3h0m12 2h0m-102 9h0m8 1h0m42-5h0m10 1h0m8 1h0m20-2h0m9 6h0m8-1h0m8-1h0m-106 7h0m17 3h0m9 3h0m7-5h0m11 2h0m14 1h0m9-1h0m10-2h0m9-2h0m13 6h0m-93 2h0m10 6h0m7-2h0m13 4h0m19-3h0m4-1h0m12-4h0m6 4h0m23-4h0m-98 12h0m11-2h0m12 5h0m11-2h0m8 4h0m9-2h0m8-2h0m9 3h0m33-2h0m-88 10h0m9-2h0m31 0h0m7 2h0m12-1h0m7-1h0m10-2h0m-68 14h0m7-5h0m41 5h0m8 1h0m-70 7h0m14-1h0m7-3h0m22 0h0m4 0h0m12 4h0m12 3h0m9-1h0m-77 4h0m27 4h0m16-4h0m1 7h0m13-1h0m11 1h0m13-5h0m-89 15h0m12-7h0m20 2h0m3-3h0m12 2h0m8 7h0m12-9h0m10 5h0m10 4h0m9-9h0m-114 15h0m12-6h0m11 1h0m12 7h0m13-5h0m21 5h0m3-2h0m9-5h0m9 1h0m17 6h0m8-7h0m12 6h0m9-1h0m-178 11h0m13 0h0m5 1h0m9-2h0m16-6h0m9 6h0m12-4h0m2 2h0m14 2h0m9-2h0m9 4h0m4-6h0m11-3h0m15 10h0m9-3h0m11 0h0m12-4h0m17-1h0m7 0h0m7 5h0m12 1h0m8-1h0m-241 6h0m17 1h0m8 5h0m10-3h0m8-3h0m6 0h0m15-1h0m4 2h0m25 4h0m3-1h0m10-7h0m11 5h0m14-4h0m2 5h0m24-1h0m12-4h0m9 5h0m28-5h0m11 4h0m7-4h0m3 3h0m14 2h0m12-3h0m7-1h0m9-2h0m-256 13h0m13 5h0m2-5h0m15-2h0m14 4h0m10-2h0m18-3h0m10 8h0m26-4h0m2-3h0m17 2h0m4 0h0m8 3h0m13 0h0m10-2h0m5-1h0m13-1h0m13-2h0m17 7h0m25-3h0m11-4h0m-264 12h0m13 1h0m4-3h0m9 6h0m18-3h0m37 5h0m17-8h0m8 2h0m11 1h0m18 0h0m6 0h0m7-4h0m17 1h0m4 3h0m34 2h0m11-2h0m12-1h0m9-3h0m10 1h0m7 3h0m15 0h0m5-2h0m13 2h0m-266 11h0m8-1h0m7 0h0m16-4h0m18 1h0m14 5h0m15-1h0m3-2h0m12 0h0m10-1h0m15-2h0m10 4h0m3 2h0m22 2h0m27-4h0m5 4h0m39-2h0m9-3h0m17 1h0m-274 10h0m14 2h0m22 1h0m4-2h0m16-1h0m10-4h0m8 4h0m6 1h0m16-5h0m18 5h0m17-6h0m3 5h0m22-4h0m8 3h0m16-1h0m14 0h0m13 1h0m19 5h0m4-4h0m14-4h0m8 1h0m5 6h0m11-8h0m15 2h0m11 4h0m-253 10h0m10-2h0m7-1h0m18 4h0m18-1h0m7-5h0m4 7h0m11-4h0m16 2h0m7-5h0m11 2h0m11 2h0m11 2h0m12-6h0m11 5h0m40 1h0m8-8h0m6 5h0m-204 8h0m5 2h0m10 3h0m13 0h0m5-1h0m12-1h0m8-4h0m7 5h0m26 1h0m3-2h0m12-5h0m7 7h0m11-4h0m18-2h0m15-2h0m5 6h0m8-6h0m15 2h0m12 6h0m2-2h0m11 0h0m-226 9h0m6 1h0m21-6h0m16 3h0m26-4h0m8 6h0m6 3h0m9-6h0m19 3h0m10 0h0m11 2h0m7-7h0m22 1h0m5 4h0m18 0h0m3-1h0m11 2h0m9-4h0m16-2h0m20 4h0m-224 11h0m16 1h0m12 1h0m10-8h0m11 7h0m8-6h0m8 0h0m9 6h0m12-4h0m9-2h0m5 1h0m26 2h0m9 4h0m8-3h0m28 4h0m12-2h0m5 2h0m16 0h0m1-9h0m-206 11h0m6 4h0m12 0h0m20 1h0m14-7h0m4 5h0m10 0h0m7-1h0m12 0h0m15-4h0m12 9h0m15 0h0m11-7h0m35 1h0m32-3h0m5 7h0m-221 4h0m14 2h0m7 5h0m9-5h0m22 0h0m5-3h0m13 6h0m9-2h0m6 3h0m8-5h0m16 3h0m11-1h0m1 5h0m18-4h0m10 0h0m7-3h0m5 0h0m14 5h0m20-6h0m8 2h0m4 3h0m11 1h0m10-7h0m-216 11h0m13 5h0m8-3h0m11 6h0m17-2h0m4-4h0m13-3h0m19 7h0m9-2h0m7 1h0m17-1h0m14 3h0m6-8h0m15 4h0m13-3h0m4-1h0m19 2h0m21 6h0m-223 9h0m17 1h0m0-2h0m31 2h0m10-4h0m7 3h0m16 0h0m3-2h0m15-1h0m5-2h0m12 6h0m11-2h0m19-7h0m9 1h0m9-1h0m29 4h0m5 4h0m11-6h0m17 3h0m3-3h0m-223 10h0m30 5h0m0-3h0m14 3h0m16-7h0m19 6h0m13-5h0m5-1h0m27 2h0m11 1h0m15 4h0m9-7h0m13 5h0m17-6h0m10 6h0m7 0h0m11-4h0m6 1h0m-216 15h0m9 0h0m20-1h0m6 0h0m8-6h0m12 0h0m14 0h0m10 3h0m2-3h0m11 1h0m23 7h0m8-8h0m7 2h0m24-2h0m15 7h0m24-3h0m9-4h0m10 8h0m-198 9h0m19 0h0m6-5h0m7-2h0m24-1h0m6 7h0m10-3h0m6 1h0m11-2h0m14 5h0m13 0h0m13-5h0m16 4h0m10-4h0m15 3h0m7-5h0m-187 16h0m18-8h0m5 7h0m10-5h0m5-1h0m14 0h0m11 1h0m7 0h0m12-1h0m7 0h0m8 5h0m19-5h0m14 3h0m8 3h0m7 1h0m19-6h0m18 7h0m17-5h0m9-3h0m-193 10h0m11-1h0m15 5h0m25 3h0m5-6h0m9 5h0m12-3h0m7 0h0m24-4h0m38 2h0m2 1h0m17 0h0m9-2h0m-180 14h0m5 1h0m8 0h0m8-6h0m15 8h0m11-5h0m6 0h0m5-3h0m12 0h0m43 6h0m14-7h0m14 4h0m6-4h0m17 3h0m15 4h0m4 2h0m-205 1h0m9 7h0m26-7h0m7 7h0m10 0h0m13-4h0m8 0h0m13-3h0m6 7h0m18-3h0m11-1h0m10-1h0m8-3h0m11 2h0m10 8h0m33-9h0m23 3h0m11 5h0m-217 8h0m5 1h0m13-5h0m10 3h0m32-4h0m1 1h0m16 0h0m6 5h0m9 1h0m10-2h0m14 0h0m7 2h0m7-1h0m7-3h0m20 0h0m9-4h0m14-1h0m28 0h0m-223 16h0m15-2h0m7 4h0m27 0h0m9 0h0m14-3h0m5-2h0m16 1h0m7-3h0m5 6h0m16 1h0m5-8h0m7 8h0m10-5h0m16 1h0m3 1h0m40 1h0m17 0h0m10-6h0m-235 13h0m7 4h0m17-7h0m9 2h0m3-1h0m9 4h0m10-3h0m12 2h0m12-5h0m10 7h0m10-7h0m6 2h0m5 7h0m11-1h0m16 1h0m12-8h0m12 3h0m8 2h0m11 3h0m7-9h0m12 6h0m8-5h0m20 6h0m7 1h0m11 1h0m-247 2h0m15 3h0m9 2h0m12 0h0m3 3h0m19-6h0m20-2h0m13 8h0m7-9h0m13 8h0m4-6h0m8-3h0m26 1h0m9 4h0m9 5h0m15-5h0m9 0h0m15-1h0m10 2h0m8-2h0m6-3h0m6 3h0m13 3h0m-231 9h0m25 3h0m21-7h0m8 1h0m8 5h0m6-7h0m11 1h0m9-2h0m19 8h0m9-7h0m15 6h0m1-4h0m17 1h0m7 3h0m16-6h0m29 6h0m15-5h0m-211 11h0m9 5h0m9-7h0m12 3h0m5 2h0m9-6h0m10 5h0m9 1h0m34-4h0m8 0h0m4 4h0m10-6h0m14 1h0m12 4h0m2 0h0m11-1h0m14 1h0m4-2h0m16-1h0m5 6h0m12-3h0m-212 9h0m8-5h0m17 2h0m6 7h0m13-7h0m2 2h0m22 1h0m19 3h0m8-8h0m11 6h0m5-3h0m13 3h0m10-2h0m13 1h0m6 3h0m7-3h0m8-2h0m24-2h0m10 6h0m5-4h0m-227 14h0m14-6h0m9 3h0m5-1h0m15 1h0m18-3h0m8 0h0m23 7h0m19-5h0m4 5h0m10-4h0m13-3h0m6 6h0m12-3h0m7 4h0m10 0h0m6 0h0m16-7h0m12 0h0m4 6h0m13-7h0m5 1h0m8 4h0m16-1h0m-234 10h0m44 4h0m5-9h0m13 8h0m20 0h0m12-3h0m14-1h0m4 3h0m12 1h0m14-4h0m11 3h0m2-3h0m22 4h0m13-5h0m14 3h0m14 3h0m-190 7h0m15-2h0m16 3h0m9 0h0m3 1h0m17-5h0m11 3h0m17-4h0m8-1h0m19 4h0m1-5h0m14 0h0m22 4h0m8 2h0m9 2h0m-186 5h0m7-3h0m5 3h0m12 3h0m11 2h0m9-2h0m21 0h0m25 0h0m6-6h0m12 4h0m10 2h0m26-1h0m10 2h0m9-5h0m41-1h0m-203 15h0m30-3h0m14 0h0m7 1h0m12-4h0m6 4h0m9-5h0m12 2h0m5-1h0m17 1h0m13-1h0m19 1h0m13 5h0m10 1h0m11-3h0m9 2h0m4-4h0m-187 13h0m12 1h0m3-4h0m18 3h0m1-1h0m28 2h0m6-4h0m17 4h0m10-8h0m9 6h0m7-5h0m11 5h0m7 0h0m25-1h0m11-3h0m11 6h0m7-3h0m6-1h0m-191 12h0m7-5h0m32 6h0m14-3h0m6 0h0m45 2h0m11-6h0m14 6h0m5-5h0m13 0h0m12 7h0m1-8h0m14 5h0m10-3h0m4 1h0m-182 8h0m4 3h0m11-5h0m14 5h0m26-4h0m30 1h0m7 2h0m9 2h0m9-6h0m18 1h0m32 6h0m21-7h0m2 9h0m-182 8h0m17-8h0m20 9h0m3-4h0m18 2h0m22 3h0m14-6h0m6-1h0m35-1h0m12 8h0m28-6h0m-193 10h0m24-3h0m9 2h0m8 3h0m16 2h0m11-6h0m9-1h0m18 1h0m12 6h0m17-5h0m13 2h0m4 2h0m11-5h0m24-2h0m13 3h0m11 2h0m12 0h0m-196 6h0m11 3h0m7-2h0m4 3h0m17 2h0m10-8h0m7 7h0m18-5h0m6 7h0m9-4h0m11 3h0m14-4h0m9 3h0m4-1h0m10 3h0m7-1h0m13-3h0m11 3h0m8 2h0m14-9h0m-205 9h0m17 8h0m8 0h0m7-7h0m10 8h0m16-8h0m23 2h0m5-1h0m16 2h0m6-1h0m19-1h0m5 1h0m15-1h0m15 4h0m14 2h0m2-5h0m28-2h0m4 4h0m-215 8h0m9 5h0m13-4h0m0 4h0m20-2h0m10 2h0m14-8h0m25 6h0m15-5h0m8 4h0m10-4h0m20 4h0m8-2h0m28 1h0m9 0h0m11 0h0m8-4h0m12 6h0m6 2h0m-237 6h0m10-3h0m5 6h0m26 0h0m4-3h0m14 3h0m7-8h0m13 3h0m8 4h0m3 0h0m17-6h0m21-1h0m2 2h0m14 6h0m10-7h0m8 7h0m9-6h0m11 2h0m3 4h0m16-1h0m7-4h0m10 4h0m6 1h0m14 0h0m6-3h0m-241 6h0m10 5h0m2 1h0m12 1h0m8-6h0m18 0h0m11-2h0m12 7h0m13 0h0m5-5h0m12 6h0m9-8h0m20 2h0m12 4h0m15 3h0m6-7h0m8 0h0m10 2h0m17-4h0m7 3h0m17 2h0m14-2h0m6 4h0m-242 8h0m15-3h0m4 3h0m9 1h0m18-3h0m5 2h0m6 0h0m14-1h0m8-2h0m13-3h0m25 4h0m32-3h0m9 4h0m10-2h0m8-2h0m9 5h0m10-1h0m10 4h0m8-9h0m7 2h0m8 0h0m-211 7h0m5 1h0m34 8h0m4 0h0m12-2h0m7 0h0m14-1h0m2-5h0m17 4h0m6 2h0m6 3h0m16-3h0m11 2h0m23-3h0m9 2h0m14-2h0m9-4h0m9 7h0m11-4h0m-225 6h0m16-1h0m2 3h0m14 2h0m7 1h0m12 1h0m8-2h0m40-5h0m16 9h0m9-5h0m12-3h0m9 1h0m10 5h0m6-7h0m21 5h0m7 3h0m15-7h0m19 0h0m7 6h0m-227 5h0m5 4h0m13-2h0m7-4h0m14 1h0m6 0h0m16 4h0m1 2h0m11-5h0m10-1h0m9 7h0m16-6h0m7 0h0m5 3h0m15-4h0m6-1h0m8 9h0m23-3h0m12-6h0m15 5h0m6-5h0m16 3h0m4 3h0m-239 3h0m29 6h0m18-6h0m3 4h0m35 0h0m3 0h0m13 5h0m18-5h0m15-3h0m15 3h0m17 2h0m7 2h0m25-8h0m6 3h0m8-1h0m15 5h0m2-5h0m25 1h0m-258 9h0m5-2h0m10 4h0m36 2h0m4-5h0m7 1h0m10-1h0m12 0h0m6 3h0m11 2h0m11 2h0m9-4h0m19 0h0m8 1h0m14-2h0m5 3h0m24-2h0m19-4h0m10 4h0m19 1h0m4-5h0m8 3h0m15-3h0m-270 13h0m24 1h0m12 1h0m1-5h0m12 4h0m21 3h0m5-2h0m12-3h0m12-1h0m9 1h0m6 0h0m17-1h0m4 2h0m20 5h0m11-2h0m7-3h0m16-4h0m16 7h0m6-6h0m12-1h0m10 7h0m12-1h0m10-2h0m12 4h0m-284 9h0m13-7h0m4 8h0m16-6h0m16-1h0m4 7h0m17-7h0m5 7h0m18-4h0m17-4h0m2 3h0m16 1h0m1-5h0m16 3h0m5-2h0m13 7h0m13-6h0m16 7h0m12 0h0m10-1h0m6-3h0m5-1h0m15 5h0m4-8h0m12 5h0m11-4h0m13 5h0m5 0h0m12-3h0m10-1h0m-270 14h0m15-2h0m8-4h0m6 7h0m11 0h0m8-5h0m16 5h0m3-1h0m12-2h0m8-1h0m8-2h0m19 5h0m8 2h0m13-4h0m5 4h0m11-4h0m14-4h0m5 3h0m34 4h0m11 0h0m7 0h0m6-8h0m-228 15h0m9-2h0m13 2h0m22-5h0m5 7h0m10-6h0m30-1h0m25 7h0m11 2h0m13-4h0m8 1h0m7-1h0m24-2h0m1 2h0m14-5h0m5 6h0m16-2h0m4 0h0m9-1h0m-217 11h0m8-5h0m9 1h0m41 4h0m11-3h0m8 4h0m16 3h0m7-7h0m4 4h0m20 1h0m24-4h0m11-3h0m4 3h0m11 4h0m6-6h0m15 3h0m4 1h0m9-3h0m-207 10h0m14 3h0m3-4h0m12 5h0m12-4h0m15-2h0m12 5h0m10-4h0m14 5h0m2-2h0m18 4h0m9-7h0m15-1h0m5 5h0m10-1h0m11 1h0m6 2h0m17 2h0m10-5h0m17-5h0m-198 10h0m10 9h0m8-5h0m4 3h0m12-5h0m10-1h0m20 3h0m10 1h0m26 0h0m12 3h0m7-3h0m8-2h0m10 0h0m16 1h0m5-3h0m13 5h0m21-5h0m-194 9h0m9 2h0m8 3h0m11-4h0m16 2h0m15 3h0m2 0h0m22-3h0m9 1h0m10 2h0m15-4h0m2 5h0m11-5h0m23 2h0m10-4h0m8 4h0m7-5h0m9 1h0m-191 16h0m23-2h0m8-5h0m14 9h0m1-1h0m11-1h0m16 2h0m9-5h0m7 0h0m9-3h0m6-1h0m9 4h0m27-4h0m11 9h0m23-7h0m13 6h0m7-5h0m-185 10h0m9-3h0m11 6h0m8-3h0m20 1h0m15 1h0m7-4h0m12 1h0m34 3h0m15-4h0m14 5h0m6 3h0m13-4h0m14-3h0m-178 11h0m17 3h0m9-1h0m6 0h0m7-5h0m10-1h0m11 8h0m11-2h0m10-5h0m7 0h0m7 0h0m9 5h0m13-1h0m15-4h0m13 4h0m6-3h0m27 5h0m-170 3h0m2 2h0m9 0h0m13 2h0m5 3h0m14-3h0m10 2h0m8-3h0m10-1h0m15-2h0m15 2h0m13-1h0m13 4h0m14-2h0m2-2h0m22 2h0m-171 8h0m18 1h0m13 1h0m10-2h0m11 4h0m5 1h0m11-2h0m10 1h0m4-6h0m19 8h0m4-6h0m9 3h0m16 2h0m12-6h0m16 6h0m7 2h0m12-1h0m-169 8h0m26 1h0m2-5h0m16 4h0m16 0h0m5-3h0m15 0h0m9 0h0m8-1h0m12-1h0m7 2h0m8-1h0m11 5h0m13 2h0m6-8h0m-138 8h0m4 6h0m23 2h0m9-7h0m12 2h0m1 2h0m16 1h0m6-2h0m11 1h0m13-2h0m2-2h0m13-1h0m6 7h0m13-6h0m-128 10h0m1-2h0m13 10h0m32-2h0m5-4h0m12 6h0m9-9h0m19 8h0m12-9h0m5 1h0m24 7h0m-134 11h0m9-8h0m9 1h0m8-1h0m14 3h0m2 3h0m15-3h0m20-3h0m17 4h0m27-1h0m7-2h0m-121 17h0m13-8h0m2 5h0m12-3h0m13 3h0m12-2h0m9 4h0m3-6h0m15-2h0m11 8h0m8 1h0m8-9h0m12 4h0m-114 11h0m8 1h0m6-2h0m11 4h0m12-5h0m16-1h0m6 3h0m11 1h0m25 0h0m14 0h0m-99 11h0m1-8h0m10 0h0m10 3h0m11 4h0m9-6h0m10 3h0m11 3h0m8-6h0m17-2h0m-80 17h0m16 2h0m20-6h0m22 0h0m3 0h0m9-2h0m-58 15h0m5-5h0m13-1h0m7 0h0m4 5h0m10 0h0m13-6h0m-55 16h0m15-1h0m13 3h0m5-2h0m8-6h0m12 9h0m-48 3h0m10 4h0m16-6h0m2 6h0m9-5h0m-29 17h0m17-5h0m7 1h0" stroke="#d9541e" stroke-width="14.4" stroke-linecap="round" fill="none"/>
<path d="M62 825.3V868.3M55.3 825.3H68.7M55.3 868.3H68.7" stroke="#000" stroke-width="1.05" fill="none" stroke-opacity="0.75"/>
<line x1="48.2" y1="846.7" x2="75.8" y2="846.7" stroke="#000" stroke-width="1.7"/>
<path d="M103.3 820V865.3M96.6 820H110M96.6 865.3H110" stroke="#000" stroke-width="1.05" fill="none" stroke-opacity="0.75"/>
<line x1="89.5" y1="842.7" x2="117.1" y2="842.7" stroke="#000" stroke-width="1.7"/>
<line x1="34.9" y1="762.2" x2="34.9" y2="906" stroke="#1c1c1c" stroke-width="1.15"/>
<line x1="29.6" y1="762.8" x2="34.9" y2="762.8" stroke="#1c1c1c" stroke-width="1.15"/>
<text x="27.4" y="766.2" font-size="9.5" text-anchor="end">5</text>
<line x1="29.6" y1="791.3" x2="34.9" y2="791.3" stroke="#1c1c1c" stroke-width="1.15"/>
<text x="27.4" y="794.7" font-size="9.5" text-anchor="end">4</text>
<line x1="29.6" y1="819.8" x2="34.9" y2="819.8" stroke="#1c1c1c" stroke-width="1.15"/>
<text x="27.4" y="823.3" font-size="9.5" text-anchor="end">3</text>
<line x1="29.6" y1="848.4" x2="34.9" y2="848.4" stroke="#1c1c1c" stroke-width="1.15"/>
<text x="27.4" y="851.8" font-size="9.5" text-anchor="end">2</text>
<line x1="29.6" y1="876.9" x2="34.9" y2="876.9" stroke="#1c1c1c" stroke-width="1.15"/>
<text x="27.4" y="880.3" font-size="9.5" text-anchor="end">1</text>
<line x1="29.6" y1="905.4" x2="34.9" y2="905.4" stroke="#1c1c1c" stroke-width="1.15"/>
<text x="27.4" y="908.8" font-size="9.5" text-anchor="end">0</text>
<line x1="34.4" y1="905.4" x2="130.2" y2="905.4" stroke="#1c1c1c" stroke-width="1.15"/>
<line x1="62" y1="905.4" x2="62" y2="910.4" stroke="#1c1c1c" stroke-width="1.15"/>
<line x1="103.3" y1="905.4" x2="103.3" y2="910.4" stroke="#1c1c1c" stroke-width="1.15"/>
<text x="14.4" y="826" font-size="8.9" text-anchor="middle" transform="rotate(-90 14.4 826)">FPR1 expression level</text>
<text x="84.4" y="747.8" font-size="9.25" text-anchor="middle">FPR1<tspan dy="-3.2" font-size="5.8">high</tspan><tspan dy="3.2"> myeloid cells</tspan></text>
<text x="78.7" y="766.4" font-size="9.4" text-anchor="middle"><tspan font-style="italic">p</tspan> = 3.11e-05</text>
<line x1="62.4" y1="771.3" x2="103.1" y2="771.3" stroke="#1c1c1c" stroke-width="1.15"/>
<text x="58.8" y="922.1" font-size="9.4" text-anchor="middle">Early-stage</text>
<text x="108.3" y="922.1" font-size="9.4" text-anchor="middle">Late-stage</text>
<text x="135.7" y="731.3" font-size="13" font-weight="bold" fill="#1a1a1a">n</text>
<path transform="scale(.1)" d="M1910 7944h0m7 36h0m-16 15h0m8-4h0m19 5h0m-23 18h0m9 3h0m13-8h0m-31 13h0m14 4h0m31-2h0m-37 29h0m29-7h0m-28 11h0m4 8h0m34-7h0m-55 15h0m19 0h0m28 15h0m-35 3h0m10 8h0m34-9h0m-46 26h0m14 7h0m32-15h0m-52 25h0m40 1h0m-12 14h0m-16 19h0m10 7h0m22-17h0m-128 23h0m8 2h0m16 3h0m37 2h0m28-1h0m24-5h0m23 0h0m17-1h0m6 8h0m16 3h0m36 0h0m13-17h0m-251 27h0m18-8h0m15-1h0m30 0h0m19 12h0m22-10h0m17 12h0m6-14h0m21 10h0m39-11h0m23 9h0m14-1h0m26 8h0m9 1h0m-231 9h0m13 6h0m38-10h0m22-3h0m14 6h0m12 2h0m34-6h0m16 7h0m6-1h0m31-3h0m29 3h0m-225 15h0m13 5h0m33-13h0m16 17h0m23-15h0m8 11h0m19-11h0m52 4h0m9 3h0m23-5h0m16-1h0m18 13h0m-236 3h0m20 2h0m29 0h0m32 10h0m28 1h0m21 1h0m4-11h0m29 3h0m23-1h0m9 1h0m24-1h0m12 0h0m-221 13h0m21-1h0m13 6h0m27 7h0m9-6h0m15 0h0m35-4h0m12-3h0m15 7h0m52-7h0m22 0h0m-216 32h0m11-2h0m14-3h0m22-7h0m17 5h0m26-10h0m9 8h0m31 7h0m12-13h0m26 2h0m21 2h0m15 10h0m9-13h0m-208 16h0m28 13h0m12-3h0m32 5h0m16-9h0m32 0h0m30 1h0m19-8h0m17 12h0m21-10h0m-160 30h0m21 1h0m8-3h0m21 0h0m18-9h0m43 8h0m-102 7h0m29 0h0m18 7h0m25 6h0m6-10h0m-98 18h0m10-4h0m22-1h0m16 2h0m28 2h0m21 3h0m34-6h0m3 5h0m-148 12h0m32 3h0m8 10h0m13-3h0m19-13h0m32 6h0m19-5h0m19 15h0m7-6h0m-163 21h0m22 1h0m16 0h0m34-7h0m29 1h0m5 6h0m30-11h0m15-3h0m18 15h0m15-5h0m-185 6h0m18 16h0m30 1h0m1-12h0m60 5h0m21 6h0m30-7h0m5 4h0m33-10h0m-179 25h0m25 0h0m17 2h0m18-2h0m9-4h0m31-6h0m17 8h0m20 3h0m17 4h0m-157 13h0m46 1h0m6 2h0m27-6h0m18 4h0m30-1h0m10 3h0m16-3h0m-122 21h0m17-6h0m5-3h0m33 1h0m38 7h0m14-14h0m-119 24h0m15 4h0m19 3h0m52-11h0m8 8h0m33 1h0m-104 13h0m23-4h0m19-1h0m19-1h0m6 7h0m-65 21h0m18 0h0m43-8h0m21-5h0m-92 22h0m24-2h0m29 12h0m7-6h0m17-9h0m-75 30h0m37 1h0m20-14h0m33 1h0m-99 27h0m15-5h0m22-4h0m11 3h0m25 5h0m9 2h0m35 0h0m-113 9h0m8-5h0m14 0h0m18 8h0m32-7h0m9 13h0m28-5h0m-118 25h0m28-14h0m21 11h0m29-9h0m23 4h0m10 4h0m-106 18h0m19 2h0m16-13h0m17 9h0m12-9h0m31 9h0m16-7h0m-111 20h0m9 9h0m24-14h0m19 4h0m17 4h0m15 3h0m18-10h0m-110 20h0m32-3h0m16 5h0m6-8h0m68 9h0m-126 23h0m25-10h0m24 7h0m20-6h0m49-3h0m-112 16h0m57-2h0m18-1h0m15 3h0m31 4h0m-160 19h0m24 7h0m14 0h0m34-10h0m24 5h0m21 0h0m28-5h0m19 8h0m3-9h0m25 0h0m-153 21h0m23 0h0m9 4h0m24-10h0m42 13h0m21-6h0m-134 22h0m11-13h0m72 6h0m13 3h0m25-6h0m21 8h0m-138 8h0m9 11h0m45-4h0m49-2h0m49-1h0m-136 15h0m8 9h0m27-5h0m20 2h0m37-2h0m12 2h0m-116 22h0m32-16h0m10 9h0m27-1h0m7-8h0m27 12h0m11-10h0m-86 19h0m29-5h0m24 12h0m18 1h0m-69 19h0m10-3h0m20-1h0m19 3h0m32-13h0m-65 26h0m39 6h0m-30 16h0m3 2h0m24-11h0m-12 19h0" stroke="#4682b4" stroke-width="25" stroke-linecap="round" fill="none"/>
<path transform="scale(.1)" d="M2323 7896h0m5 14h0m-5 13h0m8 14h0m-1 14h0m-22 10h0m16 5h0m18-7h0m-25 20h0m1-7h0m29 2h0m-24 22h0m-14 2h0m21 1h0m6 4h0m-33 15h0m24 0h0m18-5h0m-33 13h0m7 1h0m26 10h0m-36 6h0m13 3h0m13-7h0m-23 23h0m13-6h0m14-5h0m-26 18h0m6 2h0m22-1h0m-50 15h0m19 1h0m15-1h0m14 1h0m17-1h0m-66 13h0m19-6h0m17 1h0m8 5h0m28 0h0m-67 13h0m21 4h0m11 3h0m9-4h0m22 0h0m-62 16h0m19 2h0m15-3h0m3 2h0m26 1h0m-61 2h0m18 1h0m3 0h0m15 11h0m27-7h0m-77 16h0m10 0h0m12-4h0m21-2h0m19 9h0m3-6h0m15-5h0m-80 21h0m14-2h0m8-1h0m22 1h0m12 0h0m18 4h0m11 0h0m-112 16h0m1-2h0m15-7h0m26 4h0m6-6h0m24 10h0m15 1h0m12-7h0m20-6h0m14 8h0m10 3h0m-198 3h0m11 7h0m20 0h0m12 1h0m27-8h0m8 4h0m16 0h0m19 5h0m13 4h0m17-3h0m11-4h0m13-5h0m11 7h0m27 2h0m6-10h0m14 12h0m11-10h0m-216 16h0m20-5h0m7 5h0m11 0h0m20 5h0m10 2h0m19-5h0m14-6h0m11 0h0m18 3h0m24 1h0m11 3h0m6-6h0m25-1h0m14 5h0m-216 12h0m14 7h0m14-1h0m26-6h0m13 0h0m19-2h0m5 8h0m14-2h0m18-1h0m9-7h0m26 13h0m9-13h0m19 8h0m14-8h0m12 6h0m-210 7h0m17 9h0m9-6h0m20-1h0m16 0h0m9 7h0m26-1h0m14-2h0m14 2h0m14-1h0m10 2h0m23-4h0m4-1h0m16 4h0m13 0h0m-183 16h0m13-9h0m10 5h0m13 0h0m20 6h0m9-4h0m27-7h0m11 11h0m10-2h0m23-1h0m16 3h0m10-1h0m19-2h0m-207 5h0m20 3h0m20 1h0m6 8h0m15-8h0m21 4h0m12 4h0m18-3h0m15-8h0m13 9h0m9-9h0m20 1h0m18-1h0m12-2h0m20 7h0m-220 16h0m28-8h0m8 0h0m22-1h0m3-1h0m22 8h0m8 5h0m26-2h0m3 3h0m25-4h0m14-4h0m13 1h0m19 6h0m4-5h0m24 3h0m-185 6h0m13 7h0m21 1h0m9 2h0m24-13h0m4 3h0m25 3h0m11 3h0m11-9h0m22 3h0m13 10h0m-152 8h0m20 0h0m5-1h0m20 3h0m11-2h0m18-5h0m19 7h0m17-7h0m10 3h0m13 7h0m24-6h0m-149 14h0m9 6h0m17 0h0m9-4h0m18 0h0m15-6h0m12 6h0m19 0h0m20 2h0m14-1h0m11 1h0m-163 10h0m19 3h0m15 1h0m14 0h0m16-9h0m5 3h0m18 1h0m9 3h0m19 0h0m19 1h0m20-2h0m14 1h0m16 1h0m-187 4h0m18-1h0m12 6h0m10 3h0m16 3h0m23-1h0m14-10h0m19 4h0m13 3h0m12-2h0m8-3h0m18 2h0m25-4h0m-188 18h0m11 2h0m13 3h0m20 1h0m23-2h0m2 1h0m23-3h0m11 5h0m15 1h0m20-3h0m15-1h0m17 0h0m12-6h0m-178 11h0m14 3h0m6 0h0m27 3h0m8 5h0m17-10h0m19 3h0m8-1h0m23 2h0m13-4h0m5 5h0m20-5h0m23 6h0m-193 18h0m15-2h0m15-3h0m28 0h0m11 3h0m10-3h0m25-6h0m13 5h0m9 1h0m9 4h0m17-2h0m15-3h0m23-2h0m-185 12h0m18 9h0m7-10h0m19 8h0m21 1h0m5-8h0m23 0h0m7-1h0m24 10h0m18-6h0m17 1h0m5 5h0m18-12h0m-181 15h0m17 11h0m18-10h0m7 3h0m25-2h0m2 8h0m22-3h0m12-5h0m19-4h0m8 12h0m26-3h0m7 3h0m17-7h0m-184 21h0m18-8h0m23 6h0m6 0h0m11-2h0m15-5h0m24 4h0m11 2h0m22-4h0m15 5h0m12-6h0m11 1h0m19 2h0m-161 12h0m10 3h0m15-3h0m7-1h0m17 8h0m14-10h0m26 6h0m12-8h0m7 8h0m17 5h0m20-2h0m-156 13h0m14-1h0m19-7h0m19 1h0m12-2h0m13 2h0m17 2h0m20 6h0m14-1h0m18-3h0m11-1h0m-149 10h0m13 7h0m17-7h0m17-3h0m12 9h0m7-8h0m26 10h0m7-3h0m11 0h0m24 1h0m7-1h0m-122 9h0m4 4h0m24 1h0m14-6h0m10 2h0m23-1h0m13 0h0m3 5h0m22-7h0m-124 18h0m15 2h0m13 1h0m22-1h0m18 1h0m11-3h0m18 2h0m14-2h0m6 2h0m-110 7h0m11-1h0m10 8h0m14-3h0m29 7h0m12-1h0m5-4h0m24 4h0m7-8h0m-108 12h0m8 5h0m14-8h0m16 2h0m14 4h0m21-1h0m3 4h0m28-8h0m14 10h0m-142 4h0m20 10h0m17-6h0m16-1h0m6-4h0m13 0h0m20 12h0m20 0h0m11-3h0m18 0h0m5-4h0m-140 20h0m14-7h0m17 1h0m3 0h0m17 0h0m27-4h0m5 12h0m18-10h0m14 1h0m22 4h0m3-2h0m-132 18h0m11-4h0m18-1h0m13-2h0m14 4h0m27-2h0m10 2h0m20 3h0m7-3h0m-123 8h0m18 3h0m21-3h0m13 8h0m17-7h0m13 0h0m18-3h0m8 3h0m23 7h0m-147 4h0m21 4h0m14-2h0m24 8h0m15-1h0m1-7h0m22 8h0m14-10h0m14 9h0m20-4h0m12 4h0m-130 14h0m12-3h0m7-6h0m17 12h0m12-2h0m21-4h0m21-1h0m16-2h0m13 6h0m-123 7h0m13 2h0m12 0h0m20-4h0m17 1h0m7 8h0m27-6h0m9 7h0m18-1h0m-136 6h0m6 7h0m15 0h0m21 2h0m13-6h0m23-1h0m7 6h0m15-7h0m18-4h0m19 12h0m4-1h0m-150 6h0m27 2h0m9-5h0m11 1h0m25 1h0m7 2h0m13 1h0m23 6h0m4-11h0m25-1h0m19 7h0m-159 9h0m12 7h0m26-3h0m16-2h0m7 5h0m10 1h0m21-5h0m12-2h0m15 8h0m15-7h0m23 1h0m-133 18h0m6-3h0m16-6h0m16 3h0m12 7h0m21-1h0m16-3h0m4 1h0m27 1h0m-107 13h0m14 4h0m17-9h0m17 7h0m3-11h0m14 13h0m16-8h0m-87 16h0m12-2h0m23 2h0m16-5h0m16 0h0m14-1h0m17 3h0m-88 21h0m5 1h0m23 0h0m6 0h0m19-8h0m18-4h0m18 6h0m-100 15h0m17-3h0m12 2h0m13 0h0m25 1h0m6 3h0m26-7h0m-80 20h0m14 2h0m11-9h0m21 7h0m21-5h0m-77 17h0m7-4h0m15-2h0m16-1h0m10 9h0m19-7h0m12 0h0m-72 15h0m17 3h0m13-3h0m22-2h0m4 10h0m-52 7h0m18-2h0m9 8h0m15-7h0m17-4h0m-65 24h0m26-8h0m3 8h0m23-10h0m20 1h0m-51 16h0m16 5h0m12-8h0m-25 21h0m12-3h0m13-4h0m-25 11h0m6 0h0m20 9h0m-25 13h0m15-5h0m14-4h0m-12 15h0m-10 18h0m5 14h0m-2-1109h0m0 69h0" stroke="#d9541e" stroke-width="25" stroke-linecap="round" fill="none"/>
<path d="M191.6 822.2V867.5M184.9 822.2H198.3M184.9 867.5H198.3" stroke="#000" stroke-width="1.05" fill="none"/>
<line x1="177.8" y1="844.6" x2="205.4" y2="844.6" stroke="#000" stroke-width="1.7"/>
<path d="M232.7 819.4V861.3M226 819.4H239.4M226 861.3H239.4" stroke="#000" stroke-width="1.05" fill="none"/>
<line x1="218.9" y1="840.4" x2="246.5" y2="840.4" stroke="#000" stroke-width="1.7"/>
<line x1="164.5" y1="762.2" x2="164.5" y2="906" stroke="#1c1c1c" stroke-width="1.15"/>
<line x1="159.2" y1="762.8" x2="164.5" y2="762.8" stroke="#1c1c1c" stroke-width="1.15"/>
<text x="157" y="766.2" font-size="9.5" text-anchor="end">5</text>
<line x1="159.2" y1="791.3" x2="164.5" y2="791.3" stroke="#1c1c1c" stroke-width="1.15"/>
<text x="157" y="794.7" font-size="9.5" text-anchor="end">4</text>
<line x1="159.2" y1="819.8" x2="164.5" y2="819.8" stroke="#1c1c1c" stroke-width="1.15"/>
<text x="157" y="823.3" font-size="9.5" text-anchor="end">3</text>
<line x1="159.2" y1="848.4" x2="164.5" y2="848.4" stroke="#1c1c1c" stroke-width="1.15"/>
<text x="157" y="851.8" font-size="9.5" text-anchor="end">2</text>
<line x1="159.2" y1="876.9" x2="164.5" y2="876.9" stroke="#1c1c1c" stroke-width="1.15"/>
<text x="157" y="880.3" font-size="9.5" text-anchor="end">1</text>
<line x1="159.2" y1="905.4" x2="164.5" y2="905.4" stroke="#1c1c1c" stroke-width="1.15"/>
<text x="157" y="908.8" font-size="9.5" text-anchor="end">0</text>
<line x1="164" y1="905.4" x2="259.8" y2="905.4" stroke="#1c1c1c" stroke-width="1.15"/>
<line x1="191.6" y1="905.4" x2="191.6" y2="910.4" stroke="#1c1c1c" stroke-width="1.15"/>
<line x1="232.7" y1="905.4" x2="232.7" y2="910.4" stroke="#1c1c1c" stroke-width="1.15"/>
<text x="144.4" y="826" font-size="8.9" text-anchor="middle" transform="rotate(-90 144.4 826)">FPR2 expression level</text>
<text x="213.1" y="747.8" font-size="9.25" text-anchor="middle">FPR2<tspan dy="-3.2" font-size="5.8">high</tspan><tspan dy="3.2"> myeloid cells</tspan></text>
<text x="211.9" y="766.4" font-size="9.4" text-anchor="middle"><tspan font-style="italic">p</tspan> = 0.0171</text>
<line x1="190.8" y1="771.3" x2="231.2" y2="771.3" stroke="#1c1c1c" stroke-width="1.15"/>
<text x="186.1" y="922.1" font-size="9.4" text-anchor="middle">Early-stage</text>
<text x="236.4" y="922.1" font-size="9.4" text-anchor="middle">Late-stage</text>
<text x="270" y="731.3" font-size="13" font-weight="bold" fill="#1a1a1a">o</text>
<path transform="scale(.1)" d="M3313 7918h0m1 11h0m2 11h0m-8 9h0m-5 8h0m16 7h0m7-5h0m-31 15h0m14-3h0m10 2h0m-18 13h0m14-2h0m7 6h0m-15 9h0m4-7h0m11-1h0m-17 14h0m12-4h0m5 10h0m-21 12h0m7-4h0m20-4h0m-21 16h0m3-7h0m10 8h0m-23 8h0m12 2h0m12-1h0m-23 7h0m19 0h0m13-1h0m-30 18h0m8 2h0m14-8h0m-23 9h0m15 2h0m12 1h0m-26 17h0m14-1h0m7-7h0m-23 11h0m20 0h0m12 8h0m-28 6h0m5 6h0m15-3h0m-20 6h0m14-2h0m6 5h0m-29 12h0m13-5h0m4 3h0m11-1h0m17-3h0m-31 17h0m7-6h0m5-1h0m-25 19h0m1-1h0m21-4h0m4 3h0m20 4h0m-71 11h0m10 0h0m9-1h0m14-2h0m12 0h0m13 4h0m13-7h0m10 1h0m15-4h0m-109 10h0m9 2h0m12 5h0m9-7h0m17 2h0m15 5h0m12-3h0m3 1h0m21 5h0m8-7h0m7 2h0m-125 16h0m5-5h0m13-1h0m15-1h0m18 2h0m0 5h0m21-4h0m12-6h0m8 0h0m10 1h0m17 4h0m12 4h0m16-2h0m-142 9h0m10 0h0m14-2h0m18 3h0m13-2h0m14-3h0m10 0h0m11 9h0m11 0h0m16-5h0m9-3h0m-132 17h0m15 3h0m7-2h0m17 0h0m2-4h0m20 0h0m13-4h0m4 3h0m12-2h0m19 7h0m14-4h0m2-3h0m17 1h0m-129 15h0m13-1h0m7 3h0m9 0h0m16-3h0m12-1h0m6 6h0m17-2h0m13-1h0m12-4h0m17 6h0m-129 6h0m21 0h0m3 2h0m12 2h0m12-7h0m14 2h0m9 4h0m17-5h0m12 2h0m11 1h0m9-4h0m-126 16h0m14 0h0m5 1h0m20-5h0m12-1h0m12-1h0m10 2h0m13 2h0m4-1h0m10-2h0m23 9h0m7-3h0m12-1h0m-149 4h0m17 6h0m8-4h0m22 8h0m1 0h0m20-6h0m9 1h0m6 3h0m14-3h0m15-3h0m13-2h0m16 8h0m12-1h0m-161 11h0m19 2h0m11-1h0m11-4h0m13 4h0m10-4h0m4 0h0m11 0h0m19-2h0m13 2h0m11 2h0m17 1h0m9 4h0m10-3h0m8-4h0m-166 8h0m18 5h0m13 0h0m8 3h0m11-1h0m16-6h0m3 3h0m11 5h0m17-3h0m9 0h0m12 1h0m9-5h0m14 5h0m21 0h0m2 3h0m-158 1h0m6 4h0m10 1h0m18-1h0m13 2h0m9-2h0m6 1h0m16 1h0m10-1h0m18 0h0m14 2h0m2 2h0m18-6h0m13 2h0m11 1h0m-172 15h0m20-11h0m4 5h0m10 1h0m12 1h0m19-3h0m7 0h0m19-3h0m12 6h0m5-2h0m19-1h0m14 0h0m9 6h0m7-9h0m19 0h0m-178 16h0m19-3h0m5-1h0m12 1h0m19 0h0m8 5h0m9 0h0m22 2h0m6-1h0m11-5h0m19-1h0m5 1h0m13-2h0m17 4h0m12 0h0m-167 8h0m7 3h0m18 1h0m1-1h0m12-5h0m22 0h0m3 7h0m13-6h0m15 6h0m10 3h0m14-5h0m14 4h0m14-3h0m12 2h0m13 1h0m-183 7h0m14-1h0m4 3h0m15-6h0m12 1h0m8 0h0m19 5h0m5-3h0m22-5h0m3 2h0m19 4h0m5-3h0m19 0h0m13 2h0m13 5h0m8 0h0m11-8h0m-212 13h0m8-1h0m14 0h0m10 1h0m15 3h0m5-4h0m20 3h0m14-3h0m2 5h0m20 1h0m3-6h0m12 2h0m22 1h0m5 3h0m19-8h0m4 5h0m11 3h0m14-8h0m14 7h0m14-7h0m9 4h0m-233 15h0m0-5h0m15 2h0m9 5h0m14-4h0m15-1h0m11-2h0m11-2h0m13 8h0m17-6h0m4-3h0m19 7h0m9 1h0m8-7h0m12 2h0m22 1h0m9 3h0m9-4h0m7 0h0m24 5h0m8-2h0m-244 11h0m13-1h0m17 1h0m11 3h0m7-5h0m17 6h0m12-2h0m14-2h0m2-4h0m19 1h0m8 1h0m20-4h0m7 5h0m8 4h0m19-3h0m12-4h0m5 3h0m11 0h0m10-4h0m23 5h0m5 0h0m-235 8h0m13-4h0m8 2h0m13 0h0m8 4h0m17-6h0m6 10h0m16-6h0m14 4h0m10 3h0m16-7h0m9 6h0m11-5h0m10-4h0m19 7h0m10-5h0m4-2h0m17 3h0m14 2h0m8-2h0m11-3h0m-247 19h0m14-7h0m9 8h0m15-9h0m13-1h0m5 4h0m19 5h0m5-3h0m8 4h0m18 0h0m12-8h0m17 8h0m11-6h0m4 6h0m12-3h0m21-7h0m10 3h0m13 5h0m10 2h0m5-8h0m20 0h0m6 5h0m18-3h0m-253 17h0m7-7h0m17 0h0m5 8h0m17-5h0m13-3h0m15-2h0m11 2h0m10-1h0m17-2h0m9 4h0m9-2h0m14 2h0m13 2h0m13 1h0m13-5h0m3 5h0m15 1h0m16-5h0m6 3h0m15-6h0m-227 21h0m7-10h0m15 5h0m17-4h0m9 5h0m8-4h0m10 1h0m17 0h0m7 6h0m14-7h0m19 7h0m7-5h0m19-4h0m9 11h0m8-3h0m10 2h0m14-7h0m8-3h0m23 8h0m-219 5h0m10 1h0m16 1h0m13 3h0m5 0h0m11 1h0m15 2h0m10-1h0m16-7h0m5 4h0m12-4h0m14 3h0m16 4h0m9-8h0m11 2h0m10 0h0m21 5h0m5-6h0m19 2h0m-228 7h0m6 1h0m11 7h0m9-4h0m11-2h0m12 1h0m19-2h0m8 7h0m11-6h0m19 2h0m13-2h0m6 0h0m8 5h0m22 4h0m10-1h0m12-3h0m14-4h0m3 2h0m12-1h0m17-1h0m8 1h0m-224 9h0m9-1h0m14 1h0m15 4h0m4-2h0m13 0h0m17 2h0m10-3h0m12 7h0m11-3h0m15 0h0m10-1h0m17 1h0m8-2h0m17 5h0m13-10h0m7 3h0m18-1h0m2 0h0m-218 15h0m15-1h0m16 2h0m15 4h0m6-1h0m17-2h0m15 1h0m7-4h0m9-2h0m14 0h0m10-1h0m10-1h0m11 7h0m16 0h0m9 1h0m11-6h0m21 1h0m5 4h0m13-4h0m-199 16h0m10-4h0m12 4h0m7-5h0m13-2h0m16 8h0m7-2h0m18-4h0m16-4h0m1 0h0m20 11h0m7-11h0m14 4h0m16 5h0m7-2h0m19-3h0m8 2h0m-210 6h0m13 4h0m13-5h0m10 7h0m13-2h0m12-4h0m20 2h0m3 2h0m12 4h0m15 0h0m8-3h0m18-3h0m15 8h0m12-3h0m2-6h0m13 2h0m15 2h0m11 4h0m9-4h0m-194 14h0m7 0h0m16 2h0m14-7h0m4 6h0m16-8h0m9 5h0m12 0h0m11 3h0m10-6h0m14 4h0m17-6h0m6 2h0m10 1h0m16 1h0m10 4h0m14-2h0m-203 14h0m12-3h0m10-1h0m13-5h0m20 0h0m5 5h0m14 3h0m13-5h0m5 4h0m16-2h0m12-5h0m14 4h0m13-1h0m11 5h0m11 1h0m10-3h0m13 1h0m19-4h0m3 4h0m-223 12h0m14-4h0m3 4h0m14-1h0m15 0h0m9-2h0m16 2h0m8 0h0m18-3h0m13-4h0m3-2h0m21 9h0m4-5h0m17 6h0m17-8h0m11 6h0m9-3h0m8-2h0m11 4h0m11-6h0m18 4h0m-225 13h0m3 4h0m19-7h0m8-2h0m12 7h0m12-3h0m11 2h0m15-5h0m8 6h0m14 1h0m16-3h0m4-2h0m16 5h0m15-3h0m9-6h0m10 4h0m19 4h0m9-8h0m16 0h0m-223 14h0m16 0h0m15-4h0m7 4h0m10 3h0m20 4h0m5-2h0m15 2h0m10-7h0m9 7h0m13-9h0m17-1h0m11 6h0m7 2h0m18-8h0m3 8h0m23-9h0m7 6h0m7 3h0m-204 8h0m12 0h0m20-3h0m4-1h0m18 3h0m6 4h0m23-3h0m7 3h0m10-9h0m17 8h0m4-2h0m11-3h0m19 6h0m9-8h0m8 9h0m17-3h0m17 3h0m-196 6h0m10-2h0m10 1h0m15 0h0m11-4h0m8 6h0m16-4h0m11 1h0m11 5h0m9-4h0m12 2h0m16 1h0m12 0h0m12-2h0m17-4h0m6 2h0m19 2h0m-199 13h0m21 2h0m4 0h0m16-8h0m5 6h0m22 0h0m12 1h0m1 0h0m20 3h0m5-2h0m20-5h0m8-3h0m16 0h0m13 6h0m3-6h0m22 5h0m12-4h0m-198 15h0m8 4h0m11-5h0m20 5h0m12-6h0m5 4h0m18-6h0m7 2h0m16 0h0m16 0h0m8 7h0m14-8h0m13 3h0m4 3h0m20-4h0m10 6h0m16-6h0m-182 7h0m13-1h0m9 6h0m7 4h0m20-9h0m5 1h0m16-1h0m12 9h0m13-6h0m13-1h0m12 0h0m3 3h0m16-3h0m14 0h0m9 0h0m-165 18h0m16-1h0m9-1h0m13 2h0m7-9h0m13 8h0m13-5h0m18 2h0m5-4h0m9 8h0m12 0h0m18-9h0m9 9h0m16-9h0m4 5h0m-170 14h0m3-3h0m17-2h0m8 4h0m16-7h0m13 10h0m7-8h0m18 7h0m15 0h0m12-10h0m8 7h0m12 3h0m11 0h0m7-1h0m11-9h0m20 6h0m11 2h0m-177 3h0m12 11h0m7-7h0m7 4h0m19-2h0m13-1h0m15-3h0m4 3h0m13-2h0m11 3h0m20-4h0m5 2h0m16 5h0m5-1h0m14-6h0m-155 13h0m20 0h0m9 5h0m12-5h0m10 4h0m15-8h0m7 1h0m9 1h0m22 8h0m11-9h0m12 1h0m9 8h0m13 0h0m-160 5h0m10 6h0m11-6h0m14-2h0m14 4h0m15 0h0m4-4h0m15 6h0m14-6h0m13 1h0m17 2h0m10 0h0m13 6h0m10-7h0m4-2h0m-166 9h0m19 5h0m8-3h0m10-2h0m15 4h0m12-1h0m16 3h0m7-1h0m17-2h0m11 7h0m8 1h0m8-3h0m17-6h0m8-1h0m17 3h0m-169 12h0m11-1h0m12-1h0m14 2h0m10 0h0m18-2h0m1 6h0m21 0h0m13-4h0m8 5h0m11-7h0m12 1h0m9 5h0m21 1h0m8-1h0m-154 4h0m6 1h0m8 3h0m22 1h0m13 0h0m9-6h0m14 2h0m10 5h0m11-7h0m6 8h0m20 1h0m14-3h0m7-3h0m-134 7h0m18 2h0m11 6h0m7-5h0m16 4h0m8 3h0m11 0h0m21-2h0m3-2h0m9 3h0m18-4h0m-136 12h0m14-5h0m12 5h0m16-2h0m7 1h0m10 0h0m20 1h0m14 4h0m7 1h0m8-3h0m12-2h0m19 2h0m7 0h0m-128 11h0m9-7h0m18 9h0m2-7h0m16-2h0m14 7h0m13-1h0m5 1h0m12-3h0m12-1h0m17-3h0m-132 16h0m18-5h0m3 8h0m14-5h0m10 5h0m14-5h0m12-1h0m12 0h0m12 2h0m12-1h0m19 5h0m8-1h0m8 0h0m-125 10h0m6 0h0m16-1h0m7 2h0m13 0h0m14-6h0m17 0h0m1 4h0m21-2h0m11 4h0m12-2h0m-122 11h0m7 3h0m19 1h0m10-4h0m7 1h0m18-4h0m9-1h0m13 4h0m13 4h0m14-9h0m7 7h0m-116 12h0m7-5h0m9 0h0m14-1h0m21 0h0m2-2h0m20 2h0m11-3h0m14 2h0m10 2h0m15-2h0m-114 18h0m14 2h0m8-4h0m21-3h0m5 5h0m15-7h0m12 0h0m14 0h0m6 0h0m-91 9h0m4 9h0m18-8h0m9 10h0m18-10h0m2 7h0m15-1h0m13-2h0m11 1h0m-96 8h0m9 0h0m15-2h0m15 5h0m17 2h0m9 0h0m9-4h0m13 2h0m12 3h0m-91 4h0m5-2h0m15 3h0m15 6h0m10-1h0m9-2h0m19 4h0m1-7h0m23 3h0m-86 11h0m3 5h0m13-7h0m11 2h0m16 2h0m14-6h0m11 8h0m-70 3h0m11 2h0m13-4h0m12 2h0m13 2h0m10-3h0m13 2h0m-59 9h0m13 0h0m2 1h0m23 1h0m4 6h0m-37 9h0m21-7h0m8 4h0m-22 9h0m15 1h0m3 7h0m-19 2h0m7 2h0m19 5h0m-17 8h0m1-1001h0" stroke="#4682b4" stroke-width="21" stroke-linecap="round" fill="none"/>
<path transform="scale(.1)" d="M3728 7846h0m1 11h0m2 11h0m0 13h0m-5 13h0m-1 10h0m-9 7h0m8-4h0m23 5h0m-34 16h0m12-6h0m13-1h0m-18 8h0m14 4h0m7 2h0m-11 9h0m-6 17h0m4-7h0m16 4h0m-31 6h0m17 6h0m12-8h0m-24 13h0m11 6h0m8-3h0m-23 13h0m13-4h0m17-3h0m-29 16h0m15 5h0m8 0h0m-22 2h0m19-2h0m4 9h0m-27 3h0m24 10h0m6-10h0m-26 19h0m16-6h0m10 3h0m-19 15h0m4 0h0m12 1h0m-21 8h0m9-5h0m12 5h0m-16 8h0m6 6h0m14-4h0m-20 15h0m6-4h0m18 2h0m-31 10h0m8 0h0m23 1h0m-24 12h0m10-5h0m4-1h0m-17 13h0m5 0h0m19-1h0m-41 11h0m17-3h0m8 6h0m16 3h0m8-10h0m-50 18h0m13-4h0m9 0h0m14 1h0m13 5h0m-45 9h0m12-1h0m9-2h0m19-2h0m8 6h0m-46 13h0m12-7h0m8 2h0m12-4h0m11 4h0m-84 6h0m12 10h0m14-1h0m11-8h0m18 5h0m7 0h0m12-2h0m12 4h0m9-6h0m16-2h0m16 9h0m-133 5h0m13 6h0m13-9h0m1 1h0m21 2h0m5 0h0m17-3h0m11 4h0m14 4h0m12-4h0m9 0h0m16-2h0m14 3h0m-133 13h0m10-3h0m11 4h0m7-8h0m11 0h0m14 1h0m16 9h0m14 0h0m6 0h0m11-2h0m15-3h0m-136 12h0m23 2h0m4-5h0m15 4h0m8-2h0m19 3h0m7 1h0m13-8h0m12 2h0m11 3h0m13 4h0m9-6h0m10 3h0m-137 5h0m11 5h0m9-3h0m12 2h0m10-1h0m14-1h0m19 0h0m9 1h0m12-4h0m5 2h0m23 5h0m5-5h0m17 0h0m-158 15h0m16-2h0m5 0h0m16 4h0m9-1h0m14-1h0m8-3h0m19 5h0m13 1h0m10-5h0m5 0h0m10-3h0m13 0h0m15 4h0m14 5h0m-173 3h0m21 8h0m5-9h0m17 4h0m6 0h0m10 1h0m21 3h0m7-9h0m11 4h0m19 1h0m11 4h0m9 0h0m16-9h0m7 6h0m18-4h0m-171 14h0m11 4h0m8-7h0m9-2h0m13 6h0m22-1h0m10 4h0m5-5h0m12 2h0m18 2h0m6 0h0m11-8h0m14 0h0m13 3h0m14 2h0m-169 16h0m10-1h0m19-9h0m12 7h0m3-6h0m11 0h0m21 6h0m11-3h0m7-4h0m19 7h0m3-5h0m11 3h0m22 0h0m7 3h0m14 2h0m-181 2h0m10 0h0m12 0h0m11 9h0m14-6h0m8 6h0m18-4h0m10-5h0m13 0h0m14 4h0m5-5h0m17 7h0m7 3h0m21-9h0m8 1h0m8-2h0m11 2h0m-171 18h0m6-9h0m9 2h0m20-1h0m13-2h0m3 4h0m15 6h0m13-9h0m10 8h0m8-5h0m14-3h0m21 2h0m2 5h0m18 1h0m16-4h0m-180 16h0m2-7h0m22 0h0m7-3h0m6 3h0m20 7h0m9-2h0m15-7h0m6 4h0m19 4h0m7-1h0m18-4h0m6 4h0m10-7h0m17 10h0m11-7h0m10 0h0m-195 12h0m12-3h0m20 9h0m12-8h0m15 5h0m2 1h0m11-6h0m18-2h0m14 3h0m5-2h0m15 0h0m12 0h0m13-1h0m15 7h0m5-3h0m11 5h0m11 1h0m-191 10h0m20-3h0m9 3h0m13-5h0m12 6h0m9-3h0m14-2h0m7-4h0m18 0h0m16 3h0m8 0h0m7 3h0m22-2h0m11 5h0m12-10h0m10 2h0m12 4h0m-184 11h0m15 1h0m12 0h0m10-2h0m8 4h0m21-8h0m8-1h0m15 4h0m3 6h0m19-4h0m11 1h0m8 3h0m15-6h0m16 4h0m10-3h0m-183 14h0m8-4h0m17 3h0m9-5h0m10 8h0m11-8h0m19 6h0m17 1h0m8-6h0m4 7h0m17-4h0m15-6h0m6 6h0m20 0h0m12-3h0m12 7h0m3-6h0m-201 16h0m19-1h0m10-1h0m7-6h0m13 2h0m19-2h0m3 7h0m18-2h0m13-5h0m14 1h0m8 4h0m9 3h0m9-2h0m17 2h0m8 0h0m11-8h0m20 1h0m4 4h0m10 0h0m-208 6h0m13 2h0m10 5h0m9 0h0m13-1h0m14-4h0m9 6h0m15-4h0m7 1h0m14-1h0m16 3h0m6 2h0m14-10h0m11 9h0m12-5h0m12 1h0m14 5h0m8-1h0m16-7h0m-204 15h0m8 0h0m18-5h0m10 4h0m9 0h0m18-3h0m7 3h0m20 4h0m6-1h0m16 2h0m12-1h0m7-9h0m10-1h0m16 8h0m14-7h0m14 8h0m13 1h0m-215 12h0m17-4h0m11-1h0m16-5h0m12 4h0m10 6h0m15-6h0m9 4h0m16-4h0m14 5h0m4-6h0m18 3h0m2-1h0m18-3h0m8 1h0m17-2h0m5 3h0m19 3h0m16-7h0m-209 13h0m12 4h0m12-2h0m8 5h0m16 0h0m18-2h0m5 1h0m7-2h0m16 2h0m19-5h0m8 0h0m6 6h0m15-7h0m14 7h0m10 0h0m9-5h0m23 6h0m-212 1h0m10 10h0m20-5h0m11-4h0m5 5h0m11-2h0m15 2h0m17-4h0m8 7h0m17-9h0m9 8h0m13-1h0m6 2h0m13-9h0m18 0h0m4 5h0m14-2h0m18-1h0m6 8h0m-228 1h0m20 2h0m11 1h0m2-2h0m18 8h0m9-5h0m15 3h0m13 3h0m9-4h0m9 2h0m18-2h0m15-1h0m11-2h0m7 3h0m19 0h0m3 2h0m12-2h0m19-5h0m14 0h0m6 0h0m9 2h0m-234 11h0m14 5h0m5-3h0m18 2h0m5 3h0m16-9h0m16 2h0m3 0h0m16-4h0m10 9h0m19-3h0m13 3h0m9 2h0m7-3h0m12-3h0m19-4h0m5 1h0m15 3h0m15-3h0m15 2h0m0-3h0m-234 14h0m11-1h0m19 6h0m3-4h0m17-2h0m14-2h0m10 5h0m15-2h0m10 4h0m11-4h0m15-1h0m5-1h0m15 5h0m7-4h0m16 5h0m11-7h0m18 7h0m9 0h0m9 2h0m14-9h0m5 0h0m-233 16h0m12-4h0m9 1h0m15 4h0m10-5h0m19 6h0m8 2h0m10-8h0m7 7h0m19-1h0m11-8h0m12 0h0m9 10h0m10-2h0m22 2h0m7-8h0m14 3h0m6 2h0m12 3h0m17-9h0m7 0h0m-253 16h0m20 4h0m13-5h0m10-2h0m8 1h0m17 4h0m12 1h0m4 2h0m17-8h0m10 4h0m14-2h0m13-1h0m7 1h0m10 5h0m22-9h0m5 7h0m10 1h0m11-8h0m15 7h0m16-4h0m5-3h0m21 3h0m5 6h0m-256 2h0m3 4h0m22 4h0m5-1h0m18-4h0m3 3h0m19 2h0m7-2h0m11-1h0m17-3h0m8-1h0m14-1h0m17 1h0m12-1h0m5 9h0m14-1h0m11-2h0m13-4h0m16-2h0m7 1h0m8 7h0m16 1h0m17-5h0m-274 13h0m19-6h0m15 1h0m3 0h0m14 3h0m18 4h0m6-6h0m14-1h0m10 5h0m11 2h0m12-6h0m12 8h0m11-8h0m14 4h0m14-1h0m13-1h0m14 0h0m7-4h0m13 9h0m9-8h0m17 9h0m8-9h0m19 4h0m-267 6h0m17 6h0m10-3h0m14 1h0m12 5h0m10 1h0m9 0h0m14-8h0m13-2h0m12 10h0m10-6h0m16 4h0m4 2h0m11-8h0m20 0h0m9 5h0m14-7h0m10 9h0m15 0h0m13 1h0m3-7h0m17 1h0m16 2h0m-240 15h0m4 0h0m14-9h0m12 8h0m18-6h0m13 1h0m12 2h0m7-5h0m16 7h0m12-6h0m2 3h0m19 5h0m14-9h0m5 8h0m13-5h0m17 1h0m6-1h0m11 1h0m19-6h0m-219 20h0m16-8h0m2 1h0m23 7h0m8-2h0m6 3h0m15-9h0m10 0h0m12 2h0m19 4h0m14-3h0m10-1h0m6 3h0m11 5h0m20-6h0m9-4h0m6 1h0m13 8h0m11-7h0m-216 15h0m18-2h0m12 3h0m8-7h0m12 8h0m10-2h0m16-4h0m17 6h0m13 1h0m9-9h0m8 8h0m17-4h0m8-2h0m10 0h0m14 6h0m12-7h0m13 8h0m16-6h0m3 6h0m-209 12h0m10-8h0m10 0h0m10 0h0m10 6h0m20-1h0m10-5h0m10 0h0m19 7h0m8 0h0m16-8h0m2 3h0m18-2h0m9 4h0m17 0h0m5-6h0m14 9h0m10-2h0m14-4h0m-221 14h0m12-3h0m2 0h0m12 2h0m17-5h0m12 9h0m8-3h0m21 0h0m8 1h0m11-5h0m11 7h0m16-8h0m12 1h0m11 1h0m5-2h0m14 1h0m11 2h0m15-4h0m17 6h0m8 0h0m8-6h0m-230 20h0m21-6h0m12-2h0m14 6h0m11-6h0m5 8h0m10-4h0m17 3h0m9-7h0m15-1h0m7 4h0m16-3h0m16-1h0m4 8h0m20-4h0m8 3h0m9 0h0m17-5h0m8 0h0m-214 13h0m14 0h0m6 2h0m19-5h0m8 8h0m19-6h0m7 6h0m8 1h0m20-2h0m13-2h0m11 3h0m12-3h0m6 0h0m11 0h0m14 3h0m8 1h0m14-10h0m13 0h0m12 6h0m-216 11h0m19 4h0m4-7h0m17 3h0m9-2h0m9 4h0m14-1h0m10-7h0m14 8h0m19-1h0m6 2h0m9-7h0m22 7h0m3 1h0m13-7h0m12 5h0m17 2h0m11-2h0m7-2h0m-203 5h0m15 1h0m13 2h0m6 5h0m12-4h0m18-2h0m5 4h0m16 2h0m15 1h0m13 1h0m8-9h0m9 6h0m16-6h0m9-1h0m11 3h0m15-1h0m16 8h0m-178 1h0m13 2h0m7 8h0m16-6h0m7 0h0m10-3h0m19 4h0m6 2h0m19 0h0m6 1h0m9 2h0m19 0h0m4-6h0m13-4h0m12 0h0m-150 21h0m13-4h0m7-6h0m9 9h0m16-3h0m11 4h0m9-3h0m14-6h0m13 3h0m8 2h0m21 1h0m6-4h0m20 6h0m-148 12h0m15-8h0m9 6h0m15 1h0m9-3h0m14 1h0m9 1h0m14-1h0m8 3h0m13-5h0m14-2h0m10 0h0m10 1h0m-153 14h0m6 0h0m21-6h0m11 5h0m5 0h0m12-4h0m13 6h0m10-2h0m20 1h0m4-3h0m16-1h0m10 7h0m19-9h0m7 3h0m9 3h0m-166 9h0m10 3h0m19-1h0m14-2h0m8 3h0m13-4h0m10 3h0m17-3h0m10 0h0m10 1h0m13 5h0m9-4h0m11-7h0m18 11h0m7-9h0m-170 15h0m16 4h0m9-6h0m20 7h0m11-2h0m10-1h0m6-3h0m16-2h0m9-1h0m20 5h0m1-6h0m21 6h0m2-2h0m21 0h0m6 6h0m-163 10h0m8-8h0m16 3h0m8 2h0m16 4h0m16-10h0m1 8h0m14-6h0m9 5h0m23-1h0m1-7h0m21 8h0m6 1h0m18 1h0m14-8h0m-171 18h0m10-3h0m14 3h0m8 1h0m18-1h0m10-2h0m4-5h0m22 9h0m14-2h0m9 2h0m10-1h0m5-7h0m24 1h0m9 1h0m15 5h0m-174 1h0m11 5h0m16 6h0m13-4h0m3-4h0m21 3h0m5 3h0m20-3h0m10 4h0m11-1h0m5-9h0m21 4h0m6 3h0m12-1h0m11 5h0m-160 4h0m10 1h0m3 4h0m22-8h0m12 8h0m9 1h0m13-9h0m16 5h0m2-5h0m11 3h0m23 0h0m6 5h0m13-8h0m6 4h0m15 4h0m-160 5h0m12-2h0m19 2h0m12 0h0m7 7h0m20-5h0m8-3h0m9 7h0m11 1h0m13-7h0m18 6h0m8-5h0m15 1h0m-147 17h0m8-7h0m15-3h0m13 1h0m15 1h0m6 3h0m14-1h0m11-2h0m17 5h0m14-8h0m4 3h0m22 2h0m11 5h0m-141 7h0m19 3h0m3 1h0m17-2h0m15 3h0m5-2h0m23-3h0m8-2h0m7 2h0m19-2h0m4-3h0m-123 20h0m2-7h0m12-1h0m18 0h0m16 4h0m10 3h0m14-5h0m6 5h0m19 1h0m6-3h0m11-5h0m15 8h0m13-7h0m-138 11h0m11 2h0m20 0h0m6 4h0m19-3h0m11-3h0m11 2h0m9 1h0m18 3h0m7 2h0m8-9h0m-112 18h0m10-1h0m7-5h0m8 6h0m16-8h0m17 5h0m3 4h0m19-5h0m16 1h0m4-3h0m14 7h0m-103 12h0m4 0h0m21-7h0m13-2h0m4-1h0m15 7h0m6-4h0m14 3h0m18-5h0m-98 10h0m14 3h0m7 3h0m16 1h0m12-4h0m13 7h0m15-10h0m2 1h0m18 8h0m-86 2h0m17 3h0m11 5h0m5-3h0m13 3h0m11-8h0m16 1h0m-59 19h0m13 1h0m15-6h0m11-2h0m2 3h0m-45 6h0m18 7h0m7-2h0m16-4h0m13 4h0m-51 14h0m7 1h0m13-5h0m16 0h0m6-3h0m-33 16h0m8 0h0m19 4h0m-23 9h0m8-1h0m16-3h0m-14 7h0" stroke="#d9541e" stroke-width="21" stroke-linecap="round" fill="none"/>
<path d="M331.3 826.4V865.3M324.6 826.4H338M324.6 865.3H338" stroke="#000" stroke-width="1.05" fill="none"/>
<line x1="317.5" y1="845.9" x2="345.1" y2="845.9" stroke="#000" stroke-width="1.7"/>
<path d="M372.8 826.4V864.3M366.1 826.4H379.5M366.1 864.3H379.5" stroke="#000" stroke-width="1.05" fill="none" stroke-opacity="0.7"/>
<line x1="359" y1="845.4" x2="386.6" y2="845.4" stroke="#000" stroke-width="1.7"/>
<line x1="303.8" y1="759.3" x2="303.8" y2="905.7" stroke="#1c1c1c" stroke-width="1.15"/>
<line x1="298.5" y1="759.9" x2="303.8" y2="759.9" stroke="#1c1c1c" stroke-width="1.15"/>
<text x="296.3" y="763.3" font-size="9.5" text-anchor="end">5</text>
<line x1="298.5" y1="788.9" x2="303.8" y2="788.9" stroke="#1c1c1c" stroke-width="1.15"/>
<text x="296.3" y="792.4" font-size="9.5" text-anchor="end">4</text>
<line x1="298.5" y1="818" x2="303.8" y2="818" stroke="#1c1c1c" stroke-width="1.15"/>
<text x="296.3" y="821.4" font-size="9.5" text-anchor="end">3</text>
<line x1="298.5" y1="847" x2="303.8" y2="847" stroke="#1c1c1c" stroke-width="1.15"/>
<text x="296.3" y="850.4" font-size="9.5" text-anchor="end">2</text>
<line x1="298.5" y1="876.1" x2="303.8" y2="876.1" stroke="#1c1c1c" stroke-width="1.15"/>
<text x="296.3" y="879.5" font-size="9.5" text-anchor="end">1</text>
<line x1="298.5" y1="905.1" x2="303.8" y2="905.1" stroke="#1c1c1c" stroke-width="1.15"/>
<text x="296.3" y="908.5" font-size="9.5" text-anchor="end">0</text>
<line x1="303.3" y1="905.1" x2="400.8" y2="905.1" stroke="#1c1c1c" stroke-width="1.15"/>
<line x1="331.3" y1="905.1" x2="331.3" y2="910.1" stroke="#1c1c1c" stroke-width="1.15"/>
<line x1="372.8" y1="905.1" x2="372.8" y2="910.1" stroke="#1c1c1c" stroke-width="1.15"/>
<text x="280.8" y="829.8" font-size="8.9" text-anchor="middle" transform="rotate(-90 280.8 829.8)">FPR3 expression level</text>
<text x="351.2" y="746.8" font-size="9.25" text-anchor="middle">FPR3<tspan dy="-3.2" font-size="5.8">high</tspan><tspan dy="3.2"> myeloid cells</tspan></text>
<text x="351.7" y="773.2" font-size="9.4" text-anchor="middle"><tspan font-style="italic">p</tspan> = 0.6194</text>
<line x1="330.5" y1="778.5" x2="370.7" y2="778.5" stroke="#6a6a6a" stroke-width="1.5"/>
<text x="327.7" y="922.5" font-size="9.4" text-anchor="middle">Early-stage</text>
<text x="375.5" y="922.5" font-size="9.4" text-anchor="middle">Late-stage</text>
<text x="414.3" y="731" font-size="13" font-weight="bold" fill="#1a1a1a">p</text>
<text x="560.7" y="750.7" font-size="8.9" text-anchor="middle" letter-spacing="-0.1">FPR2<tspan dy="-3.2" font-size="5.8">high</tspan><tspan dy="3.2"> myeloid cells</tspan></text>
<line x1="455.4" y1="760.5" x2="455.4" y2="904.7" stroke="#1c1c1c" stroke-width="1.15"/>
<line x1="450.4" y1="761.1" x2="455.4" y2="761.1" stroke="#1c1c1c" stroke-width="1.15"/>
<text x="448.9" y="764.5" font-size="9.4" text-anchor="end">40</text>
<line x1="450.4" y1="797.2" x2="455.4" y2="797.2" stroke="#1c1c1c" stroke-width="1.15"/>
<text x="448.9" y="800.6" font-size="9.4" text-anchor="end">30</text>
<line x1="450.4" y1="832.6" x2="455.4" y2="832.6" stroke="#1c1c1c" stroke-width="1.15"/>
<text x="448.9" y="836" font-size="9.4" text-anchor="end">20</text>
<line x1="450.4" y1="868.5" x2="455.4" y2="868.5" stroke="#1c1c1c" stroke-width="1.15"/>
<text x="448.9" y="871.9" font-size="9.4" text-anchor="end">10</text>
<line x1="450.4" y1="904.1" x2="455.4" y2="904.1" stroke="#1c1c1c" stroke-width="1.15"/>
<text x="448.9" y="907.5" font-size="9.4" text-anchor="end">0</text>
<text x="432.3" y="830" font-size="9.4" text-anchor="middle" transform="rotate(-90 432.3 830)">Cell portion (%)</text>
<rect x="462.6" y="884" width="14.4" height="20.1" fill="#4682b4"/>
<rect x="483.5" y="837.9" width="14.2" height="66.2" fill="#d9541e"/>
<rect x="518" y="895.6" width="14.2" height="8.5" fill="#4682b4"/>
<rect x="538.9" y="865.2" width="14" height="38.9" fill="#d9541e"/>
<rect x="573.4" y="888.2" width="14.4" height="15.9" fill="#4682b4"/>
<rect x="594.3" y="861.1" width="14.2" height="43" fill="#d9541e"/>
<rect x="629" y="895.2" width="14.3" height="8.9" fill="#4682b4"/>
<rect x="649.9" y="886.9" width="14.2" height="17.2" fill="#d9541e"/>
<line x1="454.9" y1="904.1" x2="671.2" y2="904.1" stroke="#1c1c1c" stroke-width="1.15"/>
<line x1="480" y1="904.1" x2="480" y2="909" stroke="#1c1c1c" stroke-width="1.15"/>
<line x1="535.5" y1="904.1" x2="535.5" y2="909" stroke="#1c1c1c" stroke-width="1.15"/>
<line x1="591.1" y1="904.1" x2="591.1" y2="909" stroke="#1c1c1c" stroke-width="1.15"/>
<line x1="646.5" y1="904.1" x2="646.5" y2="909" stroke="#1c1c1c" stroke-width="1.15"/>
<line x1="469.8" y1="867.3" x2="469.8" y2="900.3" stroke="#000" stroke-width="0.9"/>
<line x1="466.2" y1="867.3" x2="473.4" y2="867.3" stroke="#000" stroke-width="0.9"/>
<line x1="466.2" y1="900.3" x2="473.4" y2="900.3" stroke="#000" stroke-width="0.9"/>
<line x1="490.5" y1="801.4" x2="490.5" y2="874.3" stroke="#000" stroke-width="0.9"/>
<line x1="486.9" y1="801.4" x2="494.1" y2="801.4" stroke="#000" stroke-width="0.9"/>
<line x1="486.9" y1="874.3" x2="494.1" y2="874.3" stroke="#000" stroke-width="0.9"/>
<line x1="525.2" y1="888.6" x2="525.2" y2="902.8" stroke="#000" stroke-width="0.9"/>
<line x1="521.6" y1="888.6" x2="528.8" y2="888.6" stroke="#000" stroke-width="0.9"/>
<line x1="521.6" y1="902.8" x2="528.8" y2="902.8" stroke="#000" stroke-width="0.9"/>
<line x1="545.9" y1="836.4" x2="545.9" y2="894.7" stroke="#000" stroke-width="0.9"/>
<line x1="542.3" y1="836.4" x2="549.5" y2="836.4" stroke="#000" stroke-width="0.9"/>
<line x1="542.3" y1="894.7" x2="549.5" y2="894.7" stroke="#000" stroke-width="0.9"/>
<line x1="580.6" y1="874.5" x2="580.6" y2="901.9" stroke="#000" stroke-width="0.9"/>
<line x1="577" y1="874.5" x2="584.2" y2="874.5" stroke="#000" stroke-width="0.9"/>
<line x1="577" y1="901.9" x2="584.2" y2="901.9" stroke="#000" stroke-width="0.9"/>
<line x1="601.5" y1="831.5" x2="601.5" y2="890.5" stroke="#000" stroke-width="0.9"/>
<line x1="597.9" y1="831.5" x2="605.1" y2="831.5" stroke="#000" stroke-width="0.9"/>
<line x1="597.9" y1="890.5" x2="605.1" y2="890.5" stroke="#000" stroke-width="0.9"/>
<line x1="636" y1="886.7" x2="636" y2="902.8" stroke="#000" stroke-width="0.9"/>
<line x1="632.4" y1="886.7" x2="639.6" y2="886.7" stroke="#000" stroke-width="0.9"/>
<line x1="632.4" y1="902.8" x2="639.6" y2="902.8" stroke="#000" stroke-width="0.9"/>
<line x1="656.9" y1="878.1" x2="656.9" y2="895.2" stroke="#000" stroke-width="0.9"/>
<line x1="653.3" y1="878.1" x2="660.5" y2="878.1" stroke="#000" stroke-width="0.9"/>
<line x1="653.3" y1="895.2" x2="660.5" y2="895.2" stroke="#000" stroke-width="0.9"/>
<circle cx="469.8" cy="856.3" r="1.6" fill="#000"/>
<circle cx="469.8" cy="873" r="1.6" fill="#000"/>
<circle cx="464.5" cy="880.6" r="1.6" fill="#000"/>
<circle cx="469.8" cy="882.9" r="1.6" fill="#000"/>
<circle cx="469.8" cy="889.5" r="1.6" fill="#000"/>
<circle cx="464.5" cy="902.8" r="1.6" fill="#000"/>
<circle cx="475.3" cy="902.2" r="1.6" fill="#000"/>
<circle cx="490.5" cy="789.6" r="1.6" fill="#000"/>
<circle cx="490.5" cy="811.8" r="1.6" fill="#000"/>
<circle cx="490.5" cy="853.5" r="1.6" fill="#000"/>
<circle cx="496.2" cy="852" r="1.6" fill="#000"/>
<circle cx="490.5" cy="881.9" r="1.6" fill="#000"/>
<circle cx="525.2" cy="884.4" r="1.6" fill="#000"/>
<circle cx="525.2" cy="891.4" r="1.6" fill="#000"/>
<circle cx="530.5" cy="896.2" r="1.6" fill="#000"/>
<circle cx="525.2" cy="898.1" r="1.6" fill="#000"/>
<circle cx="519.9" cy="903.8" r="1.6" fill="#000"/>
<circle cx="530.5" cy="902.8" r="1.6" fill="#000"/>
<circle cx="525.2" cy="901.9" r="1.6" fill="#000"/>
<circle cx="545.9" cy="819" r="1.6" fill="#000"/>
<circle cx="545.9" cy="858.6" r="1.6" fill="#000"/>
<circle cx="545.9" cy="872.1" r="1.6" fill="#000"/>
<circle cx="545.9" cy="881.9" r="1.6" fill="#000"/>
<circle cx="545.9" cy="895.2" r="1.6" fill="#000"/>
<circle cx="580.6" cy="860.7" r="1.6" fill="#000"/>
<circle cx="580.6" cy="882.5" r="1.6" fill="#000"/>
<circle cx="585.9" cy="889.9" r="1.6" fill="#000"/>
<circle cx="580.6" cy="892.4" r="1.6" fill="#000"/>
<circle cx="585.9" cy="892.9" r="1.6" fill="#000"/>
<circle cx="580.6" cy="895.6" r="1.6" fill="#000"/>
<circle cx="580.6" cy="902.4" r="1.6" fill="#000"/>
<circle cx="601.5" cy="813.3" r="1.6" fill="#000"/>
<circle cx="601.5" cy="852.5" r="1.6" fill="#000"/>
<circle cx="601.5" cy="874.3" r="1.6" fill="#000"/>
<circle cx="601.5" cy="880.4" r="1.6" fill="#000"/>
<circle cx="601.5" cy="885.4" r="1.6" fill="#000"/>
<circle cx="634.1" cy="877.8" r="1.6" fill="#000"/>
<circle cx="634.1" cy="891.4" r="1.6" fill="#000"/>
<circle cx="630.9" cy="898.1" r="1.6" fill="#000"/>
<circle cx="636" cy="898.1" r="1.6" fill="#000"/>
<circle cx="641.4" cy="897.1" r="1.6" fill="#000"/>
<circle cx="639.5" cy="901.9" r="1.6" fill="#000"/>
<circle cx="634.1" cy="902.8" r="1.6" fill="#000"/>
<circle cx="656.9" cy="874" r="1.6" fill="#000"/>
<circle cx="656.9" cy="880.4" r="1.6" fill="#000"/>
<circle cx="656.9" cy="890.5" r="1.6" fill="#000"/>
<circle cx="662.2" cy="892.4" r="1.6" fill="#000"/>
<circle cx="651.8" cy="894.8" r="1.6" fill="#000"/>
<text x="482.5" y="778.7" font-size="9.4" text-anchor="middle"><tspan font-style="italic">p</tspan> = 0.014</text>
<line x1="468.7" y1="783.7" x2="491.4" y2="783.7" stroke="#555" stroke-width="1.1"/>
<text x="537.6" y="808.1" font-size="9.4" text-anchor="middle"><tspan font-style="italic">p</tspan> = 0.0239</text>
<line x1="523.1" y1="813.1" x2="546.1" y2="813.1" stroke="#555" stroke-width="1.1"/>
<text x="593.4" y="802.1" font-size="9.4" text-anchor="middle"><tspan font-style="italic">p</tspan> = 0.055</text>
<line x1="579.3" y1="807.4" x2="602.1" y2="807.4" stroke="#555" stroke-width="1.1"/>
<text x="649" y="863.1" font-size="9.4" text-anchor="middle"><tspan font-style="italic">p</tspan> = 0.1229</text>
<line x1="635.1" y1="868.3" x2="657.5" y2="868.3" stroke="#555" stroke-width="1.1"/>
<rect x="597.1" y="760.2" width="8.2" height="7.9" fill="#4682b4"/>
<text x="607.2" y="767.8" font-size="9.4">Early</text>
<rect x="632.2" y="760.2" width="8.2" height="7.9" fill="#d9541e"/>
<text x="643.6" y="767.8" font-size="9.4">Late</text>
<text x="480.6" y="920.8" font-size="9.4" text-anchor="middle">MDSCs</text>
<text x="480.6" y="931.9" font-size="9.4" text-anchor="middle">/MDSCs</text>
<text x="535.6" y="920.8" font-size="9.4" text-anchor="middle">MDSCs</text>
<text x="535.6" y="931.9" font-size="9.4" text-anchor="middle">/myeloid</text>
<text x="590.1" y="920.8" font-size="9.4" text-anchor="middle">TAM</text>
<text x="590.1" y="931.9" font-size="9.4" text-anchor="middle">/TAM</text>
<text x="644.2" y="920.8" font-size="9.4" text-anchor="middle">TAM</text>
<text x="644.2" y="931.9" font-size="9.4" text-anchor="middle">/myeloid</text>
</svg>
</body></html>
